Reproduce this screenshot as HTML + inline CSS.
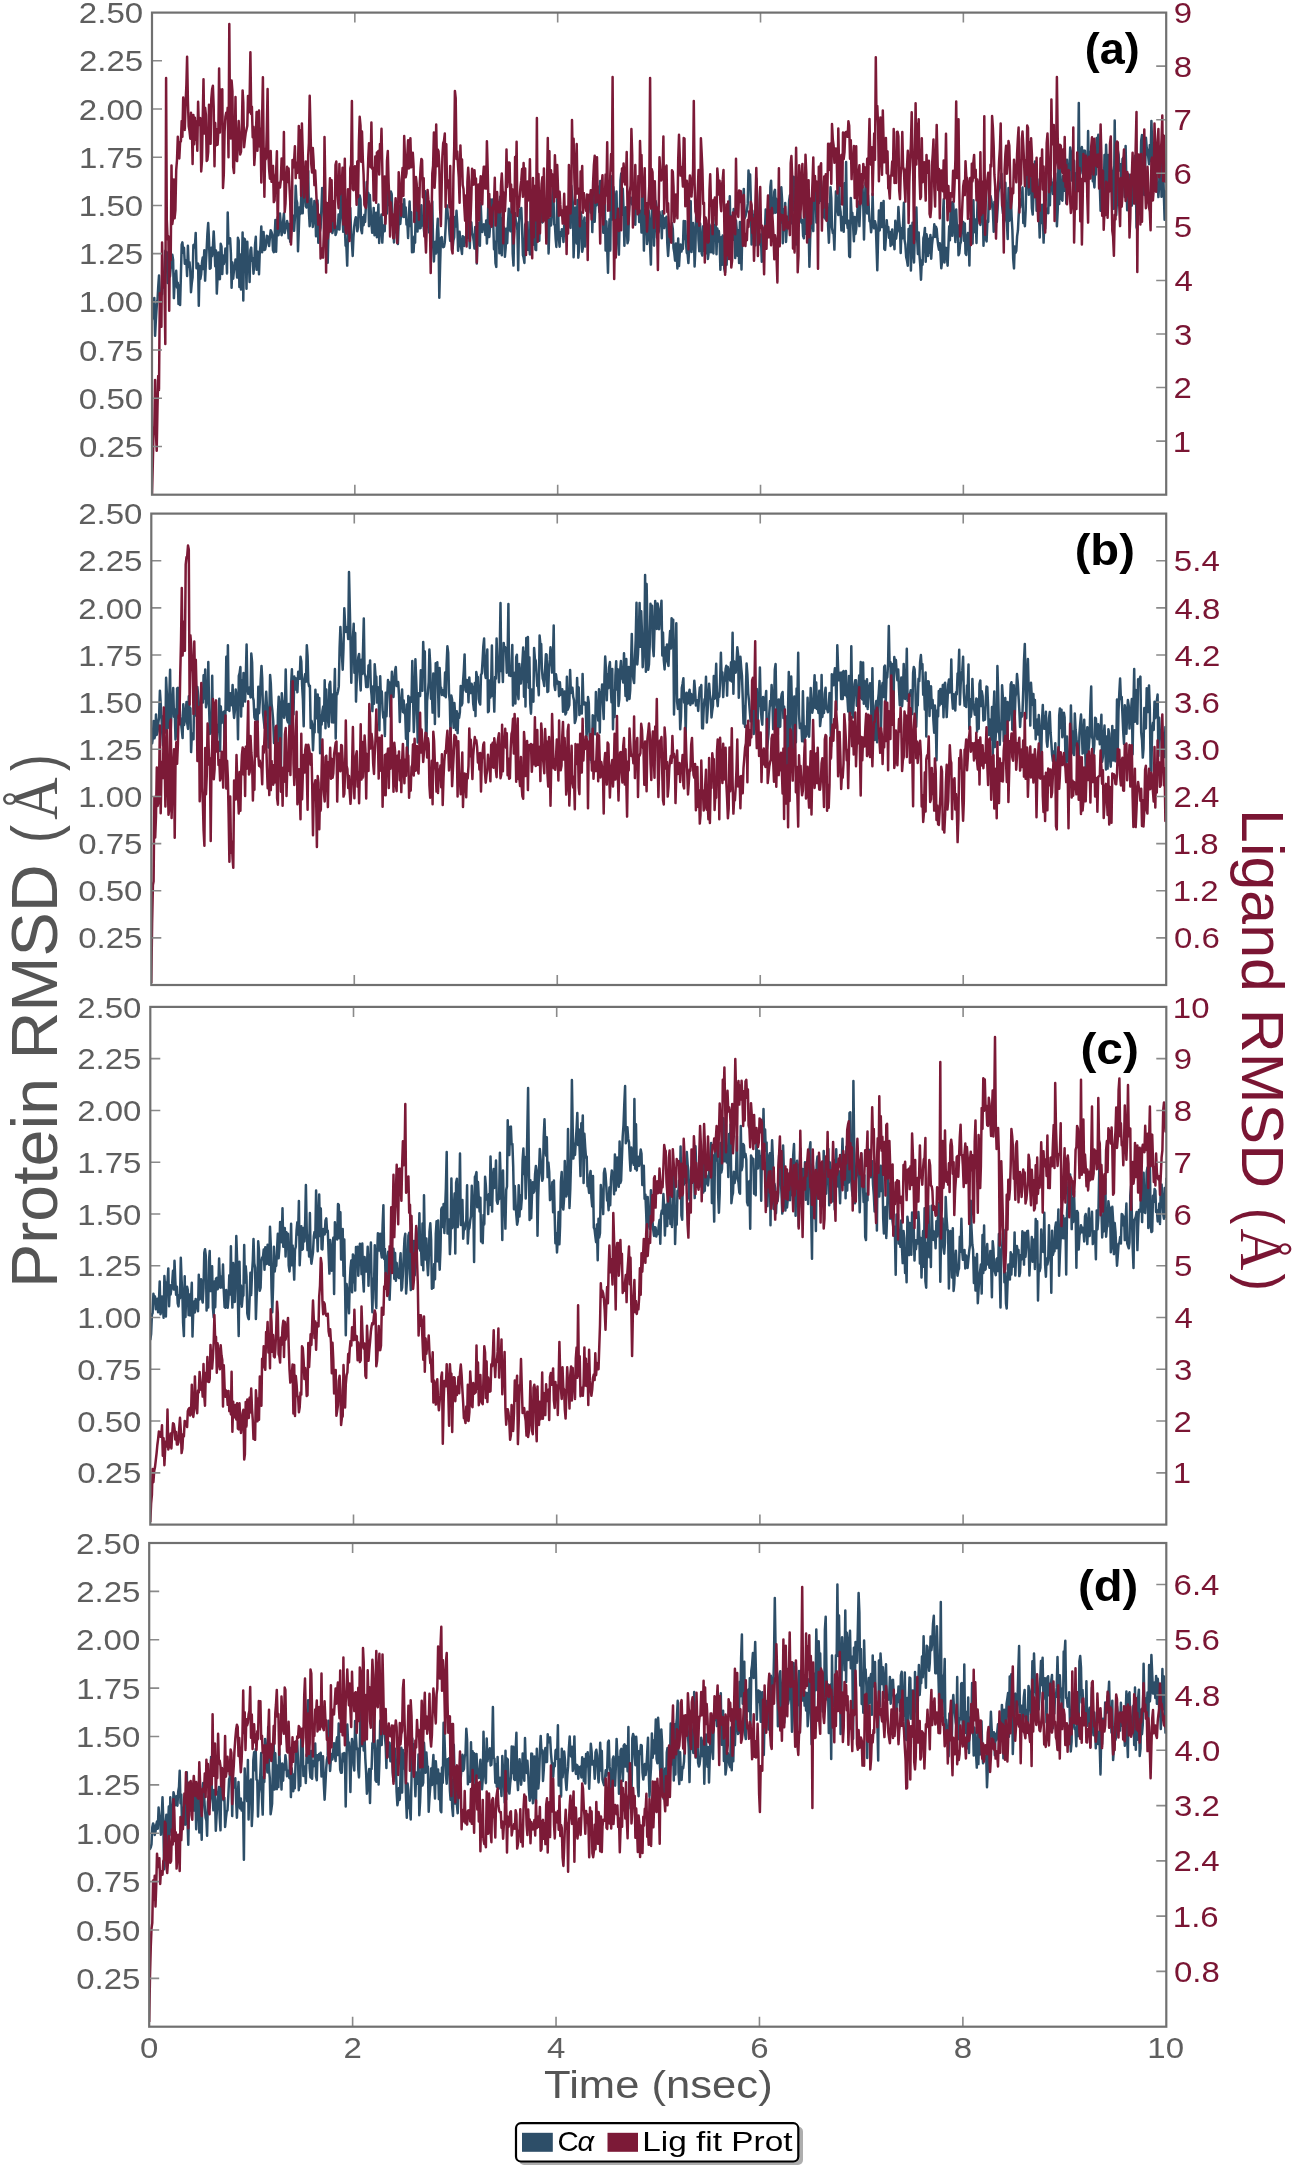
<!DOCTYPE html>
<html><head><meta charset="utf-8"><style>
html,body{margin:0;padding:0;background:#fff;overflow:hidden}
svg{display:block;filter:blur(0.55px)}
</style></head><body>
<svg width="1295" height="2169" viewBox="0 0 1295 2169">
<rect width="1295" height="2169" fill="#ffffff"/>
<clipPath id="clipa"><rect x="152.0" y="12.6" width="1014.2" height="482.09999999999997"/></clipPath>
<g clip-path="url(#clipa)" fill="none" stroke-width="2.5" stroke-linejoin="round">
<path d="M152.0,320.0 L152.8,315.1 L153.6,315.9 L154.3,297.9 L155.1,335.8 L155.9,319.4 L156.7,306.7 L157.5,300.2 L158.2,287.2 L159.0,275.5 L159.8,291.6 L160.6,299.2 L161.4,293.5 L162.1,294.2 L162.9,273.0 L163.7,287.4 L164.5,285.6 L165.3,250.7 L166.1,263.2 L166.8,252.3 L167.6,283.0 L168.4,271.1 L169.2,271.5 L170.0,276.5 L170.7,267.7 L171.5,267.3 L172.3,254.8 L173.1,260.0 L173.9,298.1 L174.6,282.9 L175.4,277.8 L176.2,270.8 L177.0,287.5 L177.8,282.7 L178.5,303.9 L179.3,285.8 L180.1,305.0 L180.9,275.1 L181.7,244.6 L182.4,242.4 L183.2,252.7 L184.0,247.8 L184.8,263.8 L185.6,260.2 L186.4,262.2 L187.1,276.0 L187.9,245.7 L188.7,266.7 L189.5,262.2 L190.3,271.7 L191.0,292.2 L191.8,283.0 L192.6,277.3 L193.4,245.0 L194.2,244.5 L194.9,247.4 L195.7,232.9 L196.5,268.2 L197.3,265.1 L198.1,263.5 L198.8,305.7 L199.6,266.0 L200.4,278.9 L201.2,274.0 L202.0,262.5 L202.7,257.6 L203.5,269.1 L204.3,250.3 L205.1,280.6 L205.9,262.6 L206.7,248.8 L207.4,233.9 L208.2,223.1 L209.0,239.7 L209.8,268.7 L210.6,268.1 L211.3,247.8 L212.1,256.2 L212.9,247.3 L213.7,231.4 L214.5,247.5 L215.2,266.3 L216.0,250.6 L216.8,293.6 L217.6,277.3 L218.4,252.6 L219.1,279.1 L219.9,279.2 L220.7,243.8 L221.5,246.6 L222.3,274.0 L223.0,255.4 L223.8,264.0 L224.6,260.0 L225.4,248.6 L226.2,248.9 L227.0,273.4 L227.7,212.4 L228.5,243.5 L229.3,241.9 L230.1,238.2 L230.9,253.9 L231.6,287.7 L232.4,262.5 L233.2,278.7 L234.0,269.6 L234.8,267.6 L235.5,259.5 L236.3,266.4 L237.1,277.6 L237.9,237.8 L238.7,240.6 L239.4,287.0 L240.2,254.6 L241.0,289.4 L241.8,273.8 L242.6,232.6 L243.3,300.6 L244.1,238.5 L244.9,239.4 L245.7,250.5 L246.5,288.8 L247.3,241.7 L248.0,265.1 L248.8,259.4 L249.6,282.0 L250.4,250.2 L251.2,247.6 L251.9,260.7 L252.7,258.3 L253.5,273.7 L254.3,262.7 L255.1,244.3 L255.8,236.8 L256.6,269.7 L257.4,251.6 L258.2,252.1 L259.0,274.3 L259.7,254.0 L260.5,245.1 L261.3,226.6 L262.1,252.3 L262.9,240.3 L263.6,232.0 L264.4,250.0 L265.2,249.4 L266.0,244.8 L266.8,235.8 L267.6,236.3 L268.3,240.4 L269.1,246.1 L269.9,237.4 L270.7,230.3 L271.5,232.0 L272.2,234.3 L273.0,250.3 L273.8,252.2 L274.6,238.9 L275.4,219.9 L276.1,251.7 L276.9,227.8 L277.7,217.2 L278.5,235.2 L279.3,227.3 L280.0,213.6 L280.8,225.0 L281.6,235.2 L282.4,231.1 L283.2,220.3 L283.9,213.4 L284.7,232.9 L285.5,228.7 L286.3,227.5 L287.1,221.1 L287.9,224.7 L288.6,238.2 L289.4,224.1 L290.2,241.8 L291.0,227.9 L291.8,220.3 L292.5,215.3 L293.3,217.9 L294.1,230.8 L294.9,217.7 L295.7,185.8 L296.4,199.6 L297.2,203.1 L298.0,251.2 L298.8,230.0 L299.6,207.2 L300.3,214.1 L301.1,201.1 L301.9,174.9 L302.7,213.2 L303.5,181.9 L304.2,172.6 L305.0,195.2 L305.8,206.3 L306.6,207.5 L307.4,198.4 L308.2,171.0 L308.9,211.5 L309.7,226.3 L310.5,211.5 L311.3,198.8 L312.1,216.0 L312.8,226.9 L313.6,220.5 L314.4,200.9 L315.2,203.6 L316.0,236.2 L316.7,222.0 L317.5,200.6 L318.3,242.8 L319.1,221.8 L319.9,231.4 L320.6,227.7 L321.4,209.4 L322.2,187.9 L323.0,189.2 L323.8,212.0 L324.5,240.3 L325.3,232.8 L326.1,221.7 L326.9,239.1 L327.7,262.8 L328.5,230.8 L329.2,232.1 L330.0,225.2 L330.8,216.0 L331.6,221.5 L332.4,233.1 L333.1,228.7 L333.9,226.8 L334.7,208.2 L335.5,235.0 L336.3,232.7 L337.0,226.6 L337.8,228.6 L338.6,214.4 L339.4,229.6 L340.2,213.4 L340.9,198.4 L341.7,192.8 L342.5,219.0 L343.3,231.8 L344.1,218.4 L344.8,225.8 L345.6,245.7 L346.4,246.3 L347.2,265.6 L348.0,232.3 L348.8,226.9 L349.5,237.4 L350.3,208.0 L351.1,233.5 L351.9,242.3 L352.7,255.9 L353.4,238.0 L354.2,226.7 L355.0,220.8 L355.8,217.2 L356.6,222.2 L357.3,231.3 L358.1,227.1 L358.9,201.5 L359.7,195.4 L360.5,199.2 L361.2,229.9 L362.0,233.3 L362.8,217.3 L363.6,225.2 L364.4,214.7 L365.1,222.0 L365.9,205.6 L366.7,182.0 L367.5,192.5 L368.3,192.9 L369.0,226.1 L369.8,194.9 L370.6,208.7 L371.4,222.7 L372.2,232.8 L373.0,228.9 L373.7,207.9 L374.5,235.2 L375.3,229.7 L376.1,212.8 L376.9,237.2 L377.6,224.7 L378.4,204.4 L379.2,242.9 L380.0,229.0 L380.8,220.4 L381.5,214.5 L382.3,242.6 L383.1,226.6 L383.9,225.2 L384.7,231.3 L385.4,211.6 L386.2,214.4 L387.0,213.0 L387.8,189.3 L388.6,195.4 L389.3,205.2 L390.1,203.2 L390.9,191.5 L391.7,194.2 L392.5,219.6 L393.3,227.3 L394.0,242.4 L394.8,227.9 L395.6,232.3 L396.4,230.6 L397.2,222.0 L397.9,244.0 L398.7,221.6 L399.5,205.7 L400.3,223.9 L401.1,213.4 L401.8,204.6 L402.6,204.4 L403.4,217.0 L404.2,199.2 L405.0,216.9 L405.7,207.4 L406.5,224.4 L407.3,221.8 L408.1,237.9 L408.9,215.8 L409.6,201.5 L410.4,226.0 L411.2,212.3 L412.0,252.2 L412.8,237.8 L413.6,252.0 L414.3,236.5 L415.1,242.8 L415.9,200.6 L416.7,201.0 L417.5,231.4 L418.2,204.3 L419.0,218.2 L419.8,228.3 L420.6,227.9 L421.4,205.2 L422.1,225.5 L422.9,218.1 L423.7,227.1 L424.5,236.0 L425.3,191.3 L426.0,194.0 L426.8,209.9 L427.6,222.8 L428.4,209.5 L429.2,232.4 L429.9,217.9 L430.7,242.2 L431.5,211.9 L432.3,201.5 L433.1,244.4 L433.9,261.4 L434.6,247.1 L435.4,241.8 L436.2,253.4 L437.0,231.6 L437.8,218.7 L438.5,233.8 L439.3,297.7 L440.1,265.5 L440.9,238.0 L441.7,237.2 L442.4,244.1 L443.2,247.2 L444.0,246.9 L444.8,242.4 L445.6,227.8 L446.3,207.6 L447.1,205.4 L447.9,216.0 L448.7,219.9 L449.5,233.8 L450.2,240.9 L451.0,216.1 L451.8,218.9 L452.6,248.4 L453.4,240.4 L454.2,237.3 L454.9,217.1 L455.7,226.6 L456.5,210.8 L457.3,224.3 L458.1,250.8 L458.8,241.7 L459.6,231.8 L460.4,242.6 L461.2,248.3 L462.0,253.9 L462.7,236.2 L463.5,236.9 L464.3,245.9 L465.1,237.3 L465.9,241.9 L466.6,229.8 L467.4,209.5 L468.2,237.7 L469.0,230.4 L469.8,247.9 L470.5,226.1 L471.3,222.2 L472.1,233.2 L472.9,235.2 L473.7,240.7 L474.5,248.6 L475.2,227.0 L476.0,227.7 L476.8,263.4 L477.6,237.2 L478.4,222.9 L479.1,227.3 L479.9,245.8 L480.7,202.9 L481.5,223.3 L482.3,232.1 L483.0,225.9 L483.8,224.3 L484.6,224.7 L485.4,235.1 L486.2,220.4 L486.9,243.4 L487.7,225.9 L488.5,197.1 L489.3,237.0 L490.1,226.2 L490.8,199.4 L491.6,204.7 L492.4,199.6 L493.2,221.0 L494.0,249.3 L494.8,241.6 L495.5,263.3 L496.3,266.9 L497.1,199.9 L497.9,220.5 L498.7,224.4 L499.4,253.3 L500.2,196.7 L501.0,237.3 L501.8,255.3 L502.6,218.2 L503.3,233.5 L504.1,227.6 L504.9,256.8 L505.7,247.3 L506.5,228.8 L507.2,243.2 L508.0,223.2 L508.8,208.7 L509.6,228.0 L510.4,231.2 L511.1,218.1 L511.9,200.7 L512.7,253.7 L513.5,265.6 L514.3,223.9 L515.1,213.3 L515.8,220.9 L516.6,223.8 L517.4,230.0 L518.2,270.2 L519.0,222.9 L519.7,209.6 L520.5,215.2 L521.3,208.0 L522.1,228.1 L522.9,255.2 L523.6,257.5 L524.4,262.9 L525.2,224.8 L526.0,222.8 L526.8,249.9 L527.5,222.0 L528.3,249.8 L529.1,244.7 L529.9,254.4 L530.7,200.4 L531.4,254.4 L532.2,219.5 L533.0,244.7 L533.8,215.4 L534.6,216.9 L535.4,249.5 L536.1,250.2 L536.9,213.5 L537.7,227.9 L538.5,216.8 L539.3,240.7 L540.0,215.3 L540.8,194.8 L541.6,221.1 L542.4,222.4 L543.2,210.1 L543.9,202.3 L544.7,210.1 L545.5,207.4 L546.3,221.6 L547.1,224.5 L547.8,214.8 L548.6,253.4 L549.4,225.7 L550.2,218.8 L551.0,225.5 L551.7,212.7 L552.5,195.7 L553.3,186.6 L554.1,224.5 L554.9,225.0 L555.7,239.5 L556.4,246.9 L557.2,198.8 L558.0,203.5 L558.8,237.4 L559.6,246.7 L560.3,232.4 L561.1,235.9 L561.9,229.2 L562.7,234.4 L563.5,242.0 L564.2,225.6 L565.0,222.2 L565.8,214.7 L566.6,220.9 L567.4,226.9 L568.1,213.2 L568.9,220.6 L569.7,225.5 L570.5,227.9 L571.3,185.7 L572.0,194.2 L572.8,202.7 L573.6,257.2 L574.4,235.8 L575.2,207.6 L575.9,221.7 L576.7,243.5 L577.5,199.9 L578.3,257.7 L579.1,247.7 L579.9,223.8 L580.6,211.8 L581.4,216.5 L582.2,251.8 L583.0,247.0 L583.8,221.7 L584.5,217.6 L585.3,246.4 L586.1,223.8 L586.9,227.9 L587.7,226.8 L588.4,195.8 L589.2,207.8 L590.0,201.1 L590.8,212.6 L591.6,190.4 L592.3,232.1 L593.1,201.6 L593.9,183.9 L594.7,221.8 L595.5,202.5 L596.2,205.6 L597.0,203.7 L597.8,186.5 L598.6,201.2 L599.4,212.1 L600.2,181.1 L600.9,213.2 L601.7,198.1 L602.5,199.1 L603.3,232.8 L604.1,213.1 L604.8,203.6 L605.6,250.5 L606.4,221.4 L607.2,248.3 L608.0,272.7 L608.7,239.6 L609.5,219.2 L610.3,250.4 L611.1,178.2 L611.9,176.2 L612.6,219.5 L613.4,187.1 L614.2,197.6 L615.0,225.3 L615.8,206.3 L616.5,191.5 L617.3,230.8 L618.1,241.3 L618.9,254.6 L619.7,218.9 L620.5,180.4 L621.2,173.6 L622.0,214.8 L622.8,188.8 L623.6,210.1 L624.4,245.7 L625.1,221.8 L625.9,207.3 L626.7,225.4 L627.5,243.3 L628.3,239.9 L629.0,212.8 L629.8,199.3 L630.6,197.6 L631.4,198.1 L632.2,204.6 L632.9,200.4 L633.7,207.8 L634.5,220.3 L635.3,224.7 L636.1,192.3 L636.8,193.6 L637.6,190.9 L638.4,196.6 L639.2,222.0 L640.0,216.9 L640.8,210.8 L641.5,232.5 L642.3,193.1 L643.1,191.7 L643.9,250.6 L644.7,210.6 L645.4,233.9 L646.2,211.8 L647.0,244.0 L647.8,238.4 L648.6,210.2 L649.3,220.2 L650.1,245.1 L650.9,264.6 L651.7,217.4 L652.5,190.6 L653.2,200.4 L654.0,245.6 L654.8,221.0 L655.6,200.9 L656.4,205.7 L657.1,237.6 L657.9,233.4 L658.7,231.8 L659.5,211.7 L660.3,222.4 L661.1,216.1 L661.8,238.3 L662.6,211.2 L663.4,227.7 L664.2,228.0 L665.0,218.2 L665.7,220.5 L666.5,216.8 L667.3,243.1 L668.1,256.0 L668.9,243.2 L669.6,231.8 L670.4,238.2 L671.2,234.9 L672.0,223.2 L672.8,228.9 L673.5,248.0 L674.3,252.9 L675.1,260.7 L675.9,243.6 L676.7,251.5 L677.4,268.5 L678.2,238.5 L679.0,266.1 L679.8,252.4 L680.6,244.6 L681.4,251.6 L682.1,248.8 L682.9,248.9 L683.7,221.1 L684.5,239.0 L685.3,221.3 L686.0,243.5 L686.8,252.8 L687.6,254.0 L688.4,263.1 L689.2,247.7 L689.9,207.6 L690.7,201.2 L691.5,252.1 L692.3,241.1 L693.1,223.0 L693.8,231.8 L694.6,266.5 L695.4,248.2 L696.2,213.9 L697.0,206.8 L697.7,210.7 L698.5,239.9 L699.3,251.3 L700.1,223.5 L700.9,238.1 L701.7,253.6 L702.4,255.5 L703.2,226.3 L704.0,250.7 L704.8,224.1 L705.6,253.3 L706.3,223.7 L707.1,240.6 L707.9,258.9 L708.7,252.2 L709.5,224.6 L710.2,238.4 L711.0,252.3 L711.8,226.3 L712.6,247.7 L713.4,253.4 L714.1,225.8 L714.9,240.8 L715.7,218.3 L716.5,254.2 L717.3,228.4 L718.0,241.5 L718.8,230.9 L719.6,241.1 L720.4,269.7 L721.2,237.2 L722.0,264.7 L722.7,235.6 L723.5,241.0 L724.3,268.7 L725.1,272.5 L725.9,251.2 L726.6,264.8 L727.4,239.9 L728.2,241.4 L729.0,240.1 L729.8,196.3 L730.5,235.1 L731.3,236.4 L732.1,215.8 L732.9,239.7 L733.7,209.0 L734.4,226.7 L735.2,258.0 L736.0,220.5 L736.8,230.4 L737.6,255.7 L738.3,230.2 L739.1,262.9 L739.9,221.9 L740.7,237.8 L741.5,269.4 L742.3,231.8 L743.0,201.1 L743.8,188.9 L744.6,218.1 L745.4,216.4 L746.2,212.9 L746.9,211.3 L747.7,203.9 L748.5,170.5 L749.3,181.0 L750.1,174.6 L750.8,198.7 L751.6,244.5 L752.4,210.7 L753.2,232.3 L754.0,221.5 L754.7,214.7 L755.5,245.2 L756.3,178.5 L757.1,194.3 L757.9,218.7 L758.6,222.1 L759.4,244.4 L760.2,234.5 L761.0,238.7 L761.8,261.7 L762.5,227.5 L763.3,238.3 L764.1,243.5 L764.9,230.9 L765.7,209.6 L766.5,214.3 L767.2,211.5 L768.0,234.8 L768.8,196.1 L769.6,223.0 L770.4,186.9 L771.1,180.7 L771.9,209.3 L772.7,206.3 L773.5,213.2 L774.3,191.6 L775.0,189.8 L775.8,212.7 L776.6,198.9 L777.4,206.1 L778.2,210.9 L778.9,205.5 L779.7,191.3 L780.5,222.4 L781.3,187.3 L782.1,200.1 L782.8,243.3 L783.6,209.2 L784.4,230.4 L785.2,203.0 L786.0,242.0 L786.8,228.3 L787.5,228.0 L788.3,219.5 L789.1,201.2 L789.9,195.2 L790.7,205.3 L791.4,211.6 L792.2,223.4 L793.0,178.9 L793.8,176.9 L794.6,209.9 L795.3,191.2 L796.1,244.5 L796.9,191.4 L797.7,219.8 L798.5,221.6 L799.2,204.0 L800.0,211.8 L800.8,220.9 L801.6,222.9 L802.4,219.9 L803.1,235.8 L803.9,238.3 L804.7,217.2 L805.5,233.7 L806.3,192.2 L807.1,206.3 L807.8,217.0 L808.6,225.4 L809.4,266.8 L810.2,237.1 L811.0,223.3 L811.7,199.1 L812.5,208.4 L813.3,231.1 L814.1,177.4 L814.9,205.3 L815.6,186.4 L816.4,222.4 L817.2,200.2 L818.0,201.1 L818.8,203.0 L819.5,173.4 L820.3,200.8 L821.1,181.1 L821.9,194.4 L822.7,217.5 L823.4,213.0 L824.2,187.8 L825.0,217.7 L825.8,219.5 L826.6,202.7 L827.4,203.8 L828.1,225.5 L828.9,242.7 L829.7,221.2 L830.5,187.2 L831.3,198.0 L832.0,227.6 L832.8,233.1 L833.6,231.8 L834.4,249.6 L835.2,219.0 L835.9,191.6 L836.7,204.9 L837.5,209.0 L838.3,215.1 L839.1,183.3 L839.8,205.9 L840.6,211.9 L841.4,230.4 L842.2,217.1 L843.0,222.3 L843.7,231.8 L844.5,183.2 L845.3,223.1 L846.1,162.0 L846.9,220.9 L847.7,228.1 L848.4,220.7 L849.2,256.2 L850.0,257.1 L850.8,198.1 L851.6,216.3 L852.3,212.7 L853.1,225.7 L853.9,241.2 L854.7,217.0 L855.5,233.9 L856.2,229.0 L857.0,217.2 L857.8,205.5 L858.6,201.6 L859.4,226.1 L860.1,209.5 L860.9,197.6 L861.7,187.7 L862.5,186.0 L863.3,206.2 L864.0,239.5 L864.8,206.5 L865.6,182.6 L866.4,192.5 L867.2,213.4 L868.0,195.2 L868.7,206.2 L869.5,221.3 L870.3,221.2 L871.1,232.3 L871.9,224.5 L872.6,193.7 L873.4,225.5 L874.2,228.3 L875.0,221.3 L875.8,225.1 L876.5,246.0 L877.3,270.3 L878.1,238.3 L878.9,210.6 L879.7,230.5 L880.4,217.6 L881.2,202.9 L882.0,227.1 L882.8,222.9 L883.6,201.1 L884.3,249.0 L885.1,249.9 L885.9,237.9 L886.7,220.2 L887.5,230.0 L888.3,226.9 L889.0,237.7 L889.8,232.0 L890.6,246.0 L891.4,235.7 L892.2,229.4 L892.9,244.5 L893.7,238.2 L894.5,249.3 L895.3,220.7 L896.1,238.7 L896.8,233.0 L897.6,231.0 L898.4,207.1 L899.2,220.0 L900.0,229.4 L900.7,253.0 L901.5,228.2 L902.3,238.4 L903.1,223.6 L903.9,202.7 L904.6,240.1 L905.4,244.8 L906.2,257.1 L907.0,260.5 L907.8,265.8 L908.6,228.9 L909.3,247.1 L910.1,225.8 L910.9,270.4 L911.7,240.3 L912.5,222.7 L913.2,249.1 L914.0,262.5 L914.8,234.9 L915.6,233.5 L916.4,207.6 L917.1,237.6 L917.9,254.0 L918.7,232.4 L919.5,255.4 L920.3,265.9 L921.0,279.8 L921.8,260.2 L922.6,264.8 L923.4,238.1 L924.2,235.4 L924.9,227.9 L925.7,261.8 L926.5,234.3 L927.3,239.0 L928.1,255.9 L928.9,239.1 L929.6,252.7 L930.4,235.1 L931.2,258.7 L932.0,244.8 L932.8,237.5 L933.5,236.9 L934.3,224.3 L935.1,236.9 L935.9,226.8 L936.7,229.0 L937.4,238.5 L938.2,245.5 L939.0,249.8 L939.8,243.2 L940.6,255.4 L941.3,268.3 L942.1,261.1 L942.9,216.2 L943.7,199.3 L944.5,262.5 L945.2,248.5 L946.0,247.8 L946.8,255.5 L947.6,265.7 L948.4,246.7 L949.2,226.2 L949.9,240.3 L950.7,206.2 L951.5,202.5 L952.3,235.8 L953.1,201.9 L953.8,212.5 L954.6,228.6 L955.4,241.9 L956.2,209.6 L957.0,229.8 L957.7,225.0 L958.5,255.3 L959.3,253.3 L960.1,244.3 L960.9,241.9 L961.6,221.2 L962.4,228.2 L963.2,222.0 L964.0,240.7 L964.8,223.4 L965.5,253.5 L966.3,254.9 L967.1,236.8 L967.9,232.9 L968.7,236.4 L969.4,265.5 L970.2,219.1 L971.0,226.3 L971.8,206.9 L972.6,243.6 L973.4,200.3 L974.1,232.2 L974.9,226.1 L975.7,219.5 L976.5,243.0 L977.3,210.9 L978.0,186.4 L978.8,211.5 L979.6,213.3 L980.4,224.9 L981.2,213.5 L981.9,214.5 L982.7,200.6 L983.5,245.8 L984.3,222.5 L985.1,234.9 L985.8,238.9 L986.6,241.4 L987.4,220.6 L988.2,221.9 L989.0,187.6 L989.7,201.5 L990.5,196.1 L991.3,200.0 L992.1,206.1 L992.9,210.7 L993.7,231.7 L994.4,201.9 L995.2,201.8 L996.0,207.7 L996.8,222.0 L997.6,209.0 L998.3,192.9 L999.1,187.6 L999.9,187.5 L1000.7,178.3 L1001.5,173.7 L1002.2,206.3 L1003.0,213.6 L1003.8,205.5 L1004.6,212.0 L1005.4,182.7 L1006.1,219.6 L1006.9,223.0 L1007.7,239.0 L1008.5,187.9 L1009.3,220.8 L1010.0,215.5 L1010.8,192.5 L1011.6,216.4 L1012.4,230.5 L1013.2,258.8 L1014.0,268.5 L1014.7,246.6 L1015.5,252.9 L1016.3,250.7 L1017.1,236.4 L1017.9,230.7 L1018.6,216.9 L1019.4,203.1 L1020.2,207.3 L1021.0,199.3 L1021.8,200.8 L1022.5,187.5 L1023.3,223.0 L1024.1,214.9 L1024.9,226.3 L1025.7,209.8 L1026.4,174.6 L1027.2,166.8 L1028.0,164.3 L1028.8,194.8 L1029.6,187.5 L1030.3,174.4 L1031.1,183.0 L1031.9,208.2 L1032.7,214.6 L1033.5,195.8 L1034.3,181.4 L1035.0,161.6 L1035.8,175.3 L1036.6,210.7 L1037.4,179.2 L1038.2,196.5 L1038.9,213.0 L1039.7,237.5 L1040.5,208.4 L1041.3,223.1 L1042.1,204.7 L1042.8,212.1 L1043.6,242.6 L1044.4,220.3 L1045.2,228.8 L1046.0,213.8 L1046.7,208.7 L1047.5,208.4 L1048.3,213.3 L1049.1,166.2 L1049.9,205.3 L1050.6,175.9 L1051.4,180.7 L1052.2,184.9 L1053.0,194.1 L1053.8,192.7 L1054.6,180.9 L1055.3,173.6 L1056.1,195.7 L1056.9,226.3 L1057.7,210.5 L1058.5,158.0 L1059.2,204.0 L1060.0,158.8 L1060.8,192.5 L1061.6,199.2 L1062.4,200.6 L1063.1,176.1 L1063.9,177.4 L1064.7,190.7 L1065.5,165.8 L1066.3,203.4 L1067.0,159.8 L1067.8,184.2 L1068.6,166.6 L1069.4,170.1 L1070.2,147.5 L1070.9,152.1 L1071.7,180.5 L1072.5,151.7 L1073.3,172.0 L1074.1,160.8 L1074.9,191.3 L1075.6,184.7 L1076.4,173.3 L1077.2,186.5 L1078.0,170.5 L1078.8,103.0 L1079.5,177.3 L1080.3,169.2 L1081.1,151.4 L1081.9,147.1 L1082.7,173.5 L1083.4,170.2 L1084.2,150.6 L1085.0,150.8 L1085.8,167.4 L1086.6,175.4 L1087.3,185.8 L1088.1,131.0 L1088.9,174.8 L1089.7,159.8 L1090.5,151.7 L1091.2,173.8 L1092.0,160.4 L1092.8,181.2 L1093.6,178.4 L1094.4,187.5 L1095.2,167.4 L1095.9,174.6 L1096.7,138.0 L1097.5,148.9 L1098.3,134.8 L1099.1,165.5 L1099.8,185.6 L1100.6,210.8 L1101.4,183.3 L1102.2,204.6 L1103.0,188.5 L1103.7,196.9 L1104.5,154.9 L1105.3,183.2 L1106.1,144.8 L1106.9,171.5 L1107.6,186.1 L1108.4,154.9 L1109.2,177.9 L1110.0,188.5 L1110.8,166.2 L1111.5,169.9 L1112.3,170.6 L1113.1,207.5 L1113.9,208.7 L1114.7,120.6 L1115.5,186.3 L1116.2,215.2 L1117.0,201.3 L1117.8,150.1 L1118.6,154.6 L1119.4,170.5 L1120.1,163.9 L1120.9,165.5 L1121.7,190.1 L1122.5,158.9 L1123.3,157.8 L1124.0,182.3 L1124.8,197.0 L1125.6,145.9 L1126.4,184.1 L1127.2,210.3 L1127.9,182.7 L1128.7,174.4 L1129.5,182.5 L1130.3,175.3 L1131.1,197.2 L1131.8,205.7 L1132.6,189.3 L1133.4,174.7 L1134.2,170.7 L1135.0,155.7 L1135.8,178.8 L1136.5,227.1 L1137.3,229.7 L1138.1,182.9 L1138.9,201.3 L1139.7,167.7 L1140.4,170.4 L1141.2,140.6 L1142.0,135.0 L1142.8,173.4 L1143.6,184.3 L1144.3,195.0 L1145.1,173.6 L1145.9,137.7 L1146.7,147.5 L1147.5,151.6 L1148.2,156.3 L1149.0,164.2 L1149.8,145.1 L1150.6,161.1 L1151.4,120.9 L1152.1,142.7 L1152.9,156.9 L1153.7,174.2 L1154.5,175.7 L1155.3,185.5 L1156.1,149.9 L1156.8,187.1 L1157.6,183.4 L1158.4,197.1 L1159.2,184.4 L1160.0,155.9 L1160.7,146.1 L1161.5,196.8 L1162.3,158.9 L1163.1,169.1 L1163.9,195.2 L1164.6,219.7 L1165.4,210.6 L1166.2,190.2" stroke="#2d4e68"/>
<path d="M152.0,494.0 L152.8,464.3 L153.6,427.6 L154.3,429.5 L155.1,380.0 L155.9,432.7 L156.7,450.7 L157.5,406.5 L158.2,376.0 L159.0,389.9 L159.8,293.3 L160.6,326.2 L161.4,326.8 L162.1,242.5 L162.9,279.4 L163.7,281.0 L164.5,289.1 L165.3,343.9 L166.1,78.0 L166.8,220.0 L167.6,239.2 L168.4,236.2 L169.2,310.8 L170.0,240.2 L170.7,260.1 L171.5,165.6 L172.3,224.1 L173.1,217.6 L173.9,179.4 L174.6,218.3 L175.4,210.2 L176.2,170.1 L177.0,160.0 L177.8,136.8 L178.5,148.3 L179.3,158.4 L180.1,142.4 L180.9,141.2 L181.7,121.0 L182.4,136.7 L183.2,97.6 L184.0,122.2 L184.8,129.9 L185.6,103.5 L186.4,84.5 L187.1,56.7 L187.9,100.6 L188.7,126.4 L189.5,130.8 L190.3,138.7 L191.0,112.8 L191.8,122.9 L192.6,164.0 L193.4,115.1 L194.2,144.3 L194.9,117.8 L195.7,139.7 L196.5,121.6 L197.3,150.8 L198.1,101.8 L198.8,124.9 L199.6,121.6 L200.4,118.1 L201.2,171.5 L202.0,160.3 L202.7,119.8 L203.5,79.2 L204.3,133.5 L205.1,107.7 L205.9,114.9 L206.7,160.9 L207.4,160.0 L208.2,152.0 L209.0,104.7 L209.8,123.9 L210.6,143.8 L211.3,99.1 L212.1,89.3 L212.9,85.8 L213.7,107.4 L214.5,166.2 L215.2,123.0 L216.0,145.4 L216.8,129.4 L217.6,144.7 L218.4,129.4 L219.1,68.5 L219.9,132.5 L220.7,89.8 L221.5,93.4 L222.3,89.2 L223.0,187.9 L223.8,174.5 L224.6,131.4 L225.4,117.0 L226.2,112.7 L227.0,118.2 L227.7,107.7 L228.5,157.2 L229.3,24.0 L230.1,134.5 L230.9,138.6 L231.6,80.6 L232.4,91.0 L233.2,166.9 L234.0,173.0 L234.8,138.3 L235.5,97.0 L236.3,160.2 L237.1,161.1 L237.9,139.7 L238.7,121.1 L239.4,136.0 L240.2,154.4 L241.0,151.7 L241.8,129.3 L242.6,90.4 L243.3,102.4 L244.1,147.2 L244.9,139.3 L245.7,133.1 L246.5,129.4 L247.3,125.8 L248.0,95.9 L248.8,112.4 L249.6,101.5 L250.4,52.2 L251.2,114.0 L251.9,106.7 L252.7,137.2 L253.5,126.7 L254.3,164.9 L255.1,151.4 L255.8,137.3 L256.6,112.0 L257.4,150.7 L258.2,125.5 L259.0,110.4 L259.7,146.6 L260.5,128.6 L261.3,182.4 L262.1,119.0 L262.9,77.2 L263.6,146.8 L264.4,196.8 L265.2,148.8 L266.0,159.2 L266.8,130.3 L267.6,88.9 L268.3,152.5 L269.1,169.1 L269.9,178.7 L270.7,151.0 L271.5,181.7 L272.2,166.5 L273.0,165.9 L273.8,202.1 L274.6,200.4 L275.4,176.6 L276.1,173.1 L276.9,151.3 L277.7,228.7 L278.5,185.0 L279.3,182.8 L280.0,187.5 L280.8,180.5 L281.6,158.5 L282.4,172.2 L283.2,179.7 L283.9,132.0 L284.7,212.2 L285.5,203.5 L286.3,181.1 L287.1,166.8 L287.9,182.1 L288.6,168.6 L289.4,185.1 L290.2,201.1 L291.0,244.4 L291.8,227.6 L292.5,160.0 L293.3,167.5 L294.1,160.7 L294.9,146.3 L295.7,178.1 L296.4,162.6 L297.2,172.9 L298.0,167.0 L298.8,125.9 L299.6,178.1 L300.3,130.4 L301.1,195.8 L301.9,123.5 L302.7,151.2 L303.5,177.7 L304.2,197.4 L305.0,188.5 L305.8,161.6 L306.6,176.5 L307.4,202.1 L308.2,155.8 L308.9,142.7 L309.7,95.7 L310.5,129.6 L311.3,164.5 L312.1,172.6 L312.8,147.9 L313.6,161.2 L314.4,185.1 L315.2,170.5 L316.0,187.3 L316.7,202.1 L317.5,204.7 L318.3,224.6 L319.1,214.7 L319.9,217.3 L320.6,258.4 L321.4,248.8 L322.2,248.5 L323.0,257.7 L323.8,233.6 L324.5,137.1 L325.3,185.4 L326.1,272.6 L326.9,203.0 L327.7,238.5 L328.5,231.5 L329.2,200.4 L330.0,178.3 L330.8,231.5 L331.6,180.3 L332.4,221.0 L333.1,209.6 L333.9,201.1 L334.7,228.0 L335.5,165.1 L336.3,161.5 L337.0,185.8 L337.8,197.9 L338.6,208.2 L339.4,164.1 L340.2,194.5 L340.9,184.9 L341.7,189.9 L342.5,167.7 L343.3,224.4 L344.1,194.6 L344.8,158.8 L345.6,230.4 L346.4,233.5 L347.2,221.6 L348.0,189.2 L348.8,211.6 L349.5,241.1 L350.3,168.2 L351.1,164.8 L351.9,100.9 L352.7,189.0 L353.4,190.1 L354.2,189.3 L355.0,166.3 L355.8,181.2 L356.6,204.8 L357.3,161.4 L358.1,197.0 L358.9,142.4 L359.7,116.8 L360.5,125.5 L361.2,161.7 L362.0,131.5 L362.8,158.8 L363.6,174.6 L364.4,204.7 L365.1,206.5 L365.9,208.0 L366.7,194.2 L367.5,182.8 L368.3,157.6 L369.0,143.3 L369.8,158.7 L370.6,167.3 L371.4,122.4 L372.2,168.7 L373.0,167.7 L373.7,200.4 L374.5,187.1 L375.3,156.5 L376.1,202.7 L376.9,152.4 L377.6,166.3 L378.4,150.9 L379.2,174.4 L380.0,143.9 L380.8,151.1 L381.5,128.7 L382.3,167.4 L383.1,214.9 L383.9,191.4 L384.7,176.4 L385.4,223.7 L386.2,207.1 L387.0,161.2 L387.8,151.0 L388.6,182.4 L389.3,197.4 L390.1,236.4 L390.9,202.6 L391.7,214.6 L392.5,214.3 L393.3,238.1 L394.0,238.1 L394.8,213.3 L395.6,198.3 L396.4,212.3 L397.2,243.0 L397.9,228.4 L398.7,172.2 L399.5,188.6 L400.3,184.5 L401.1,215.4 L401.8,179.4 L402.6,167.9 L403.4,195.7 L404.2,136.0 L405.0,158.4 L405.7,177.3 L406.5,173.3 L407.3,155.7 L408.1,140.3 L408.9,168.4 L409.6,167.1 L410.4,138.3 L411.2,167.3 L412.0,158.1 L412.8,152.7 L413.6,166.2 L414.3,221.9 L415.1,183.8 L415.9,176.9 L416.7,184.2 L417.5,210.7 L418.2,188.2 L419.0,219.7 L419.8,183.0 L420.6,168.0 L421.4,158.9 L422.1,160.3 L422.9,197.2 L423.7,178.2 L424.5,236.6 L425.3,236.3 L426.0,252.5 L426.8,225.8 L427.6,190.1 L428.4,199.9 L429.2,203.6 L429.9,222.0 L430.7,272.9 L431.5,222.2 L432.3,173.5 L433.1,165.7 L433.9,132.6 L434.6,187.7 L435.4,172.9 L436.2,124.4 L437.0,166.2 L437.8,149.6 L438.5,151.3 L439.3,165.1 L440.1,209.0 L440.9,225.9 L441.7,184.4 L442.4,156.4 L443.2,143.2 L444.0,140.8 L444.8,133.6 L445.6,207.1 L446.3,144.3 L447.1,187.4 L447.9,180.3 L448.7,190.6 L449.5,207.3 L450.2,166.0 L451.0,231.1 L451.8,249.6 L452.6,253.4 L453.4,176.6 L454.2,148.3 L454.9,91.0 L455.7,98.2 L456.5,158.9 L457.3,151.5 L458.1,167.0 L458.8,177.1 L459.6,202.7 L460.4,145.4 L461.2,169.5 L462.0,159.4 L462.7,185.1 L463.5,188.9 L464.3,206.3 L465.1,220.6 L465.9,195.5 L466.6,246.4 L467.4,182.1 L468.2,167.8 L469.0,181.2 L469.8,241.0 L470.5,220.8 L471.3,198.2 L472.1,168.7 L472.9,173.1 L473.7,184.7 L474.5,170.3 L475.2,183.8 L476.0,178.5 L476.8,262.5 L477.6,200.4 L478.4,184.6 L479.1,220.3 L479.9,188.9 L480.7,176.3 L481.5,190.5 L482.3,204.2 L483.0,178.1 L483.8,166.7 L484.6,188.2 L485.4,166.5 L486.2,188.6 L486.9,141.2 L487.7,169.4 L488.5,207.1 L489.3,194.1 L490.1,223.7 L490.8,207.4 L491.6,226.8 L492.4,213.0 L493.2,205.4 L494.0,203.7 L494.8,177.8 L495.5,225.6 L496.3,212.3 L497.1,192.1 L497.9,207.9 L498.7,212.3 L499.4,201.9 L500.2,212.3 L501.0,185.4 L501.8,173.6 L502.6,190.1 L503.3,243.2 L504.1,192.8 L504.9,211.3 L505.7,194.5 L506.5,149.4 L507.2,186.9 L508.0,174.8 L508.8,162.4 L509.6,162.9 L510.4,201.0 L511.1,184.5 L511.9,212.4 L512.7,189.6 L513.5,243.5 L514.3,231.3 L515.1,157.1 L515.8,194.7 L516.6,141.7 L517.4,216.1 L518.2,204.3 L519.0,206.9 L519.7,196.6 L520.5,186.4 L521.3,180.4 L522.1,169.0 L522.9,196.7 L523.6,163.0 L524.4,188.9 L525.2,168.4 L526.0,254.9 L526.8,201.9 L527.5,181.5 L528.3,200.4 L529.1,192.9 L529.9,159.3 L530.7,210.7 L531.4,234.2 L532.2,258.2 L533.0,177.9 L533.8,237.2 L534.6,186.0 L535.4,199.1 L536.1,220.2 L536.9,118.0 L537.7,241.7 L538.5,173.9 L539.3,219.9 L540.0,233.2 L540.8,201.4 L541.6,184.2 L542.4,177.2 L543.2,221.5 L543.9,168.6 L544.7,220.0 L545.5,203.3 L546.3,243.5 L547.1,180.1 L547.8,137.9 L548.6,217.8 L549.4,151.3 L550.2,216.1 L551.0,170.3 L551.7,183.8 L552.5,174.5 L553.3,187.9 L554.1,201.6 L554.9,155.2 L555.7,176.2 L556.4,197.1 L557.2,165.1 L558.0,188.2 L558.8,215.8 L559.6,191.8 L560.3,204.9 L561.1,215.3 L561.9,210.5 L562.7,223.6 L563.5,214.6 L564.2,193.7 L565.0,224.3 L565.8,207.0 L566.6,253.9 L567.4,206.4 L568.1,233.5 L568.9,165.0 L569.7,203.4 L570.5,213.4 L571.3,195.5 L572.0,120.0 L572.8,162.1 L573.6,138.8 L574.4,179.3 L575.2,204.2 L575.9,169.5 L576.7,144.1 L577.5,193.5 L578.3,188.4 L579.1,189.6 L579.9,226.2 L580.6,171.6 L581.4,187.3 L582.2,166.0 L583.0,212.7 L583.8,192.9 L584.5,207.3 L585.3,203.9 L586.1,210.9 L586.9,194.5 L587.7,259.9 L588.4,201.5 L589.2,194.7 L590.0,201.1 L590.8,190.2 L591.6,219.4 L592.3,207.4 L593.1,182.3 L593.9,165.1 L594.7,155.8 L595.5,202.8 L596.2,199.1 L597.0,157.2 L597.8,202.1 L598.6,194.7 L599.4,204.6 L600.2,243.5 L600.9,200.5 L601.7,184.8 L602.5,175.2 L603.3,224.5 L604.1,204.5 L604.8,203.5 L605.6,174.4 L606.4,195.4 L607.2,142.2 L608.0,210.7 L608.7,201.6 L609.5,210.5 L610.3,174.2 L611.1,154.0 L611.9,170.5 L612.6,77.0 L613.4,210.5 L614.2,278.9 L615.0,220.3 L615.8,257.5 L616.5,221.2 L617.3,219.3 L618.1,208.7 L618.9,230.9 L619.7,219.6 L620.5,227.3 L621.2,230.2 L622.0,168.4 L622.8,181.7 L623.6,163.6 L624.4,179.7 L625.1,184.5 L625.9,182.1 L626.7,152.1 L627.5,206.5 L628.3,224.2 L629.0,213.8 L629.8,191.6 L630.6,185.6 L631.4,129.1 L632.2,155.2 L632.9,227.4 L633.7,209.9 L634.5,205.0 L635.3,164.9 L636.1,208.6 L636.8,190.3 L637.6,214.3 L638.4,175.9 L639.2,212.4 L640.0,140.9 L640.8,164.6 L641.5,155.0 L642.3,196.8 L643.1,184.2 L643.9,193.2 L644.7,168.2 L645.4,213.9 L646.2,203.1 L647.0,231.5 L647.8,215.5 L648.6,200.4 L649.3,184.9 L650.1,78.0 L650.9,208.5 L651.7,169.1 L652.5,172.0 L653.2,198.6 L654.0,227.7 L654.8,181.2 L655.6,209.7 L656.4,207.2 L657.1,225.0 L657.9,270.1 L658.7,208.3 L659.5,157.3 L660.3,172.3 L661.1,180.4 L661.8,179.0 L662.6,172.8 L663.4,136.6 L664.2,213.5 L665.0,178.2 L665.7,169.0 L666.5,165.5 L667.3,212.1 L668.1,203.3 L668.9,227.7 L669.6,237.1 L670.4,235.3 L671.2,242.7 L672.0,170.2 L672.8,171.9 L673.5,186.6 L674.3,221.9 L675.1,212.2 L675.9,194.5 L676.7,200.9 L677.4,218.2 L678.2,160.2 L679.0,134.8 L679.8,156.6 L680.6,175.6 L681.4,166.9 L682.1,172.4 L682.9,186.5 L683.7,138.0 L684.5,138.5 L685.3,206.3 L686.0,204.4 L686.8,180.8 L687.6,206.2 L688.4,249.2 L689.2,186.8 L689.9,175.4 L690.7,185.7 L691.5,196.6 L692.3,182.5 L693.1,170.9 L693.8,101.0 L694.6,182.8 L695.4,211.5 L696.2,214.5 L697.0,221.5 L697.7,193.5 L698.5,170.0 L699.3,225.7 L700.1,213.6 L700.9,138.3 L701.7,154.1 L702.4,169.7 L703.2,203.9 L704.0,202.8 L704.8,262.6 L705.6,217.6 L706.3,220.2 L707.1,239.5 L707.9,242.6 L708.7,241.7 L709.5,190.1 L710.2,174.2 L711.0,205.5 L711.8,206.0 L712.6,234.1 L713.4,200.0 L714.1,210.9 L714.9,197.5 L715.7,219.6 L716.5,224.7 L717.3,168.6 L718.0,178.2 L718.8,194.5 L719.6,180.7 L720.4,202.7 L721.2,211.2 L722.0,184.8 L722.7,179.9 L723.5,170.1 L724.3,223.6 L725.1,274.8 L725.9,245.5 L726.6,204.6 L727.4,255.2 L728.2,201.5 L729.0,259.1 L729.8,219.7 L730.5,216.6 L731.3,267.5 L732.1,260.5 L732.9,212.5 L733.7,229.2 L734.4,222.6 L735.2,234.2 L736.0,158.7 L736.8,209.2 L737.6,212.0 L738.3,216.9 L739.1,190.5 L739.9,201.9 L740.7,191.1 L741.5,198.1 L742.3,229.2 L743.0,245.7 L743.8,195.0 L744.6,239.9 L745.4,246.1 L746.2,233.7 L746.9,240.2 L747.7,220.1 L748.5,226.9 L749.3,211.3 L750.1,220.2 L750.8,201.7 L751.6,205.1 L752.4,233.0 L753.2,218.5 L754.0,260.7 L754.7,238.4 L755.5,200.9 L756.3,168.0 L757.1,199.7 L757.9,255.9 L758.6,217.5 L759.4,242.6 L760.2,187.1 L761.0,227.4 L761.8,225.4 L762.5,231.3 L763.3,243.8 L764.1,274.3 L764.9,225.9 L765.7,247.7 L766.5,248.7 L767.2,215.1 L768.0,195.6 L768.8,237.3 L769.6,210.6 L770.4,217.1 L771.1,245.3 L771.9,208.0 L772.7,220.9 L773.5,235.7 L774.3,259.3 L775.0,235.3 L775.8,240.5 L776.6,258.5 L777.4,282.4 L778.2,217.2 L778.9,168.3 L779.7,246.3 L780.5,214.3 L781.3,220.1 L782.1,215.5 L782.8,215.2 L783.6,230.0 L784.4,229.6 L785.2,206.7 L786.0,226.9 L786.8,216.5 L787.5,228.4 L788.3,225.4 L789.1,221.9 L789.9,235.1 L790.7,163.0 L791.4,156.0 L792.2,176.3 L793.0,248.4 L793.8,239.1 L794.6,252.4 L795.3,202.8 L796.1,147.7 L796.9,194.0 L797.7,272.2 L798.5,256.0 L799.2,165.2 L800.0,217.9 L800.8,209.0 L801.6,175.4 L802.4,163.9 L803.1,194.9 L803.9,217.5 L804.7,199.8 L805.5,154.8 L806.3,173.3 L807.1,242.6 L807.8,194.5 L808.6,180.2 L809.4,237.2 L810.2,198.8 L811.0,223.6 L811.7,201.5 L812.5,182.4 L813.3,157.4 L814.1,200.7 L814.9,175.9 L815.6,190.7 L816.4,181.6 L817.2,191.1 L818.0,268.7 L818.8,166.8 L819.5,170.0 L820.3,166.5 L821.1,163.3 L821.9,230.6 L822.7,195.8 L823.4,207.8 L824.2,176.4 L825.0,198.4 L825.8,174.3 L826.6,220.8 L827.4,193.8 L828.1,143.8 L828.9,160.4 L829.7,169.9 L830.5,143.4 L831.3,183.7 L832.0,124.1 L832.8,139.5 L833.6,145.4 L834.4,162.8 L835.2,159.6 L835.9,148.5 L836.7,158.5 L837.5,193.4 L838.3,128.5 L839.1,167.7 L839.8,183.1 L840.6,185.8 L841.4,155.0 L842.2,204.4 L843.0,132.6 L843.7,159.0 L844.5,152.2 L845.3,132.5 L846.1,131.9 L846.9,136.5 L847.7,136.7 L848.4,121.3 L849.2,125.8 L850.0,158.7 L850.8,140.3 L851.6,179.1 L852.3,154.4 L853.1,162.8 L853.9,146.1 L854.7,198.0 L855.5,169.1 L856.2,146.2 L857.0,206.7 L857.8,186.4 L858.6,173.9 L859.4,165.3 L860.1,204.3 L860.9,202.9 L861.7,174.3 L862.5,187.6 L863.3,163.9 L864.0,172.0 L864.8,167.2 L865.6,184.7 L866.4,186.7 L867.2,158.7 L868.0,204.7 L868.7,152.1 L869.5,118.9 L870.3,161.1 L871.1,164.7 L871.9,147.3 L872.6,195.0 L873.4,161.7 L874.2,133.4 L875.0,159.8 L875.8,57.2 L876.5,118.1 L877.3,106.0 L878.1,126.2 L878.9,181.3 L879.7,140.2 L880.4,117.4 L881.2,153.6 L882.0,174.7 L882.8,110.4 L883.6,142.4 L884.3,162.3 L885.1,157.9 L885.9,137.9 L886.7,173.3 L887.5,151.4 L888.3,188.4 L889.0,189.1 L889.8,198.6 L890.6,175.5 L891.4,175.0 L892.2,161.5 L892.9,175.6 L893.7,129.0 L894.5,183.1 L895.3,177.6 L896.1,182.9 L896.8,131.9 L897.6,131.7 L898.4,136.3 L899.2,190.3 L900.0,199.2 L900.7,173.9 L901.5,166.3 L902.3,132.1 L903.1,166.9 L903.9,169.6 L904.6,186.1 L905.4,201.6 L906.2,169.8 L907.0,167.0 L907.8,150.8 L908.6,223.1 L909.3,183.7 L910.1,159.5 L910.9,144.9 L911.7,112.3 L912.5,150.8 L913.2,174.3 L914.0,243.0 L914.8,171.1 L915.6,103.3 L916.4,164.5 L917.1,123.9 L917.9,158.3 L918.7,119.2 L919.5,176.3 L920.3,198.9 L921.0,196.8 L921.8,138.3 L922.6,182.2 L923.4,180.5 L924.2,162.2 L924.9,176.8 L925.7,200.6 L926.5,155.1 L927.3,172.8 L928.1,160.9 L928.9,160.8 L929.6,213.9 L930.4,217.1 L931.2,207.6 L932.0,165.4 L932.8,153.3 L933.5,139.4 L934.3,187.7 L935.1,206.5 L935.9,162.4 L936.7,124.9 L937.4,153.8 L938.2,189.9 L939.0,169.0 L939.8,218.2 L940.6,176.6 L941.3,170.4 L942.1,180.8 L942.9,191.3 L943.7,160.4 L944.5,198.4 L945.2,180.0 L946.0,133.7 L946.8,188.6 L947.6,220.2 L948.4,186.0 L949.2,206.6 L949.9,211.2 L950.7,193.3 L951.5,193.3 L952.3,196.5 L953.1,170.7 L953.8,201.6 L954.6,183.0 L955.4,159.5 L956.2,101.4 L957.0,178.0 L957.7,154.1 L958.5,119.3 L959.3,190.9 L960.1,236.4 L960.9,229.1 L961.6,222.7 L962.4,203.7 L963.2,186.2 L964.0,180.7 L964.8,195.1 L965.5,161.2 L966.3,176.6 L967.1,178.0 L967.9,218.7 L968.7,186.8 L969.4,182.5 L970.2,178.0 L971.0,244.9 L971.8,163.7 L972.6,181.4 L973.4,162.3 L974.1,154.9 L974.9,177.5 L975.7,169.8 L976.5,200.3 L977.3,179.4 L978.0,184.5 L978.8,216.8 L979.6,223.5 L980.4,152.2 L981.2,214.9 L981.9,181.6 L982.7,195.5 L983.5,212.9 L984.3,116.2 L985.1,234.8 L985.8,198.8 L986.6,186.2 L987.4,179.6 L988.2,172.8 L989.0,190.6 L989.7,209.1 L990.5,164.7 L991.3,166.4 L992.1,116.0 L992.9,127.9 L993.7,146.8 L994.4,174.7 L995.2,186.3 L996.0,238.6 L996.8,210.8 L997.6,192.9 L998.3,181.3 L999.1,161.1 L999.9,148.7 L1000.7,123.4 L1001.5,182.7 L1002.2,205.8 L1003.0,204.6 L1003.8,252.6 L1004.6,170.0 L1005.4,153.9 L1006.1,145.8 L1006.9,173.8 L1007.7,160.2 L1008.5,141.1 L1009.3,145.8 L1010.0,169.2 L1010.8,208.2 L1011.6,201.7 L1012.4,188.6 L1013.2,193.3 L1014.0,159.7 L1014.7,171.6 L1015.5,165.7 L1016.3,182.2 L1017.1,153.6 L1017.9,138.0 L1018.6,127.5 L1019.4,212.5 L1020.2,160.3 L1021.0,184.4 L1021.8,139.2 L1022.5,131.5 L1023.3,145.5 L1024.1,162.8 L1024.9,185.9 L1025.7,160.1 L1026.4,174.7 L1027.2,125.5 L1028.0,127.9 L1028.8,187.2 L1029.6,142.6 L1030.3,176.1 L1031.1,138.2 L1031.9,154.2 L1032.7,191.2 L1033.5,164.5 L1034.3,184.2 L1035.0,197.3 L1035.8,173.4 L1036.6,157.8 L1037.4,200.0 L1038.2,221.1 L1038.9,187.1 L1039.7,210.7 L1040.5,158.3 L1041.3,179.9 L1042.1,149.5 L1042.8,189.6 L1043.6,166.4 L1044.4,220.3 L1045.2,232.6 L1046.0,184.8 L1046.7,143.0 L1047.5,133.6 L1048.3,156.1 L1049.1,192.1 L1049.9,166.2 L1050.6,184.7 L1051.4,99.6 L1052.2,144.3 L1053.0,137.7 L1053.8,125.1 L1054.6,221.0 L1055.3,167.4 L1056.1,159.8 L1056.9,77.0 L1057.7,137.6 L1058.5,168.0 L1059.2,168.4 L1060.0,144.8 L1060.8,145.6 L1061.6,165.9 L1062.4,172.7 L1063.1,149.4 L1063.9,181.0 L1064.7,137.1 L1065.5,186.8 L1066.3,164.9 L1067.0,204.3 L1067.8,188.6 L1068.6,170.1 L1069.4,171.8 L1070.2,200.4 L1070.9,212.9 L1071.7,205.5 L1072.5,206.4 L1073.3,127.4 L1074.1,242.4 L1074.9,204.1 L1075.6,192.6 L1076.4,209.1 L1077.2,152.6 L1078.0,176.7 L1078.8,191.1 L1079.5,167.9 L1080.3,221.2 L1081.1,178.9 L1081.9,244.5 L1082.7,199.2 L1083.4,154.0 L1084.2,175.2 L1085.0,181.1 L1085.8,155.7 L1086.6,159.7 L1087.3,197.3 L1088.1,222.6 L1088.9,156.8 L1089.7,170.9 L1090.5,178.4 L1091.2,146.9 L1092.0,137.3 L1092.8,153.4 L1093.6,174.4 L1094.4,138.7 L1095.2,155.6 L1095.9,165.6 L1096.7,155.0 L1097.5,166.8 L1098.3,154.5 L1099.1,188.4 L1099.8,169.5 L1100.6,124.4 L1101.4,155.7 L1102.2,215.8 L1103.0,170.9 L1103.7,229.8 L1104.5,210.2 L1105.3,215.3 L1106.1,181.7 L1106.9,182.9 L1107.6,217.7 L1108.4,189.5 L1109.2,191.5 L1110.0,143.3 L1110.8,136.5 L1111.5,189.0 L1112.3,230.8 L1113.1,236.6 L1113.9,255.8 L1114.7,214.8 L1115.5,219.4 L1116.2,143.9 L1117.0,141.5 L1117.8,142.4 L1118.6,186.9 L1119.4,209.4 L1120.1,226.1 L1120.9,178.0 L1121.7,206.7 L1122.5,194.8 L1123.3,161.5 L1124.0,149.4 L1124.8,170.8 L1125.6,200.9 L1126.4,196.1 L1127.2,171.9 L1127.9,174.9 L1128.7,182.3 L1129.5,237.5 L1130.3,218.0 L1131.1,174.5 L1131.8,176.4 L1132.6,152.7 L1133.4,184.7 L1134.2,203.6 L1135.0,177.7 L1135.8,141.7 L1136.5,112.0 L1137.3,272.0 L1138.1,176.6 L1138.9,154.5 L1139.7,156.4 L1140.4,224.6 L1141.2,153.9 L1142.0,221.8 L1142.8,173.4 L1143.6,181.5 L1144.3,129.4 L1145.1,185.7 L1145.9,208.2 L1146.7,199.2 L1147.5,166.7 L1148.2,182.5 L1149.0,207.2 L1149.8,211.5 L1150.6,230.3 L1151.4,159.9 L1152.1,157.6 L1152.9,200.4 L1153.7,190.1 L1154.5,123.5 L1155.3,150.2 L1156.1,191.8 L1156.8,164.0 L1157.6,141.3 L1158.4,129.1 L1159.2,177.3 L1160.0,171.1 L1160.7,154.3 L1161.5,140.4 L1162.3,115.5 L1163.1,181.0 L1163.9,135.8 L1164.6,159.8 L1165.4,181.7 L1166.2,173.1" stroke="#7c1a37"/>
</g>
<path d="M152.0,446.49h10 M152.0,398.28h10 M152.0,350.07h10 M152.0,301.86h10 M152.0,253.65h10 M152.0,205.44h10 M152.0,157.23h10 M152.0,109.02h10 M152.0,60.81h10 M1166.2,441.13h-10 M1166.2,387.57h-10 M1166.2,334.00h-10 M1166.2,280.43h-10 M1166.2,226.87h-10 M1166.2,173.30h-10 M1166.2,119.73h-10 M1166.2,66.17h-10 M354.84,494.7v-10 M354.84,12.6v10 M557.68,494.7v-10 M557.68,12.6v10 M760.52,494.7v-10 M760.52,12.6v10 M963.36,494.7v-10 M963.36,12.6v10" stroke="#8a8a8a" stroke-width="1.6" fill="none"/>
<rect x="152.0" y="12.6" width="1014.20" height="482.10" fill="none" stroke="#707070" stroke-width="2.2"/>
<text x="78.96" y="457.11" font-family='"Liberation Sans",sans-serif' font-size="30" fill="#5e5e5e" textLength="64.23" lengthAdjust="spacingAndGlyphs">0.25</text>
<text x="78.86" y="408.90" font-family='"Liberation Sans",sans-serif' font-size="30" fill="#5e5e5e" textLength="64.23" lengthAdjust="spacingAndGlyphs">0.50</text>
<text x="78.96" y="360.69" font-family='"Liberation Sans",sans-serif' font-size="30" fill="#5e5e5e" textLength="64.23" lengthAdjust="spacingAndGlyphs">0.75</text>
<text x="78.86" y="312.48" font-family='"Liberation Sans",sans-serif' font-size="30" fill="#5e5e5e" textLength="64.23" lengthAdjust="spacingAndGlyphs">1.00</text>
<text x="78.96" y="264.27" font-family='"Liberation Sans",sans-serif' font-size="30" fill="#5e5e5e" textLength="64.23" lengthAdjust="spacingAndGlyphs">1.25</text>
<text x="78.86" y="216.06" font-family='"Liberation Sans",sans-serif' font-size="30" fill="#5e5e5e" textLength="64.23" lengthAdjust="spacingAndGlyphs">1.50</text>
<text x="78.96" y="167.85" font-family='"Liberation Sans",sans-serif' font-size="30" fill="#5e5e5e" textLength="64.23" lengthAdjust="spacingAndGlyphs">1.75</text>
<text x="78.86" y="119.64" font-family='"Liberation Sans",sans-serif' font-size="30" fill="#5e5e5e" textLength="64.23" lengthAdjust="spacingAndGlyphs">2.00</text>
<text x="78.96" y="71.43" font-family='"Liberation Sans",sans-serif' font-size="30" fill="#5e5e5e" textLength="64.23" lengthAdjust="spacingAndGlyphs">2.25</text>
<text x="78.86" y="23.22" font-family='"Liberation Sans",sans-serif' font-size="30" fill="#5e5e5e" textLength="64.23" lengthAdjust="spacingAndGlyphs">2.50</text>
<text x="1172.69" y="451.75" font-family='"Liberation Sans",sans-serif' font-size="30" fill="#7a1533" textLength="18.35" lengthAdjust="spacingAndGlyphs">1</text>
<text x="1173.54" y="398.19" font-family='"Liberation Sans",sans-serif' font-size="30" fill="#7a1533" textLength="18.35" lengthAdjust="spacingAndGlyphs">2</text>
<text x="1173.94" y="344.62" font-family='"Liberation Sans",sans-serif' font-size="30" fill="#7a1533" textLength="18.35" lengthAdjust="spacingAndGlyphs">3</text>
<text x="1174.44" y="291.05" font-family='"Liberation Sans",sans-serif' font-size="30" fill="#7a1533" textLength="18.35" lengthAdjust="spacingAndGlyphs">4</text>
<text x="1173.88" y="237.49" font-family='"Liberation Sans",sans-serif' font-size="30" fill="#7a1533" textLength="18.35" lengthAdjust="spacingAndGlyphs">5</text>
<text x="1173.52" y="183.92" font-family='"Liberation Sans",sans-serif' font-size="30" fill="#7a1533" textLength="18.35" lengthAdjust="spacingAndGlyphs">6</text>
<text x="1173.51" y="130.35" font-family='"Liberation Sans",sans-serif' font-size="30" fill="#7a1533" textLength="18.35" lengthAdjust="spacingAndGlyphs">7</text>
<text x="1173.77" y="76.79" font-family='"Liberation Sans",sans-serif' font-size="30" fill="#7a1533" textLength="18.35" lengthAdjust="spacingAndGlyphs">8</text>
<text x="1173.65" y="23.22" font-family='"Liberation Sans",sans-serif' font-size="30" fill="#7a1533" textLength="18.35" lengthAdjust="spacingAndGlyphs">9</text>
<text x="1084.76" y="64.00" font-family='"Liberation Sans",sans-serif' font-size="45" font-weight="bold" fill="#000000" textLength="54.87" lengthAdjust="spacingAndGlyphs">(a)</text>
<clipPath id="clipb"><rect x="151.3" y="513.6" width="1014.9000000000001" height="471.4"/></clipPath>
<g clip-path="url(#clipb)" fill="none" stroke-width="2.5" stroke-linejoin="round">
<path d="M151.3,740.0 L152.1,743.3 L152.9,737.3 L153.6,721.0 L154.4,738.3 L155.2,735.7 L156.0,714.5 L156.8,734.8 L157.6,731.4 L158.3,723.1 L159.1,717.2 L159.9,690.7 L160.7,703.4 L161.5,718.3 L162.2,731.9 L163.0,745.4 L163.8,715.9 L164.6,727.7 L165.4,732.6 L166.1,677.7 L166.9,694.9 L167.7,728.4 L168.5,721.6 L169.3,696.6 L170.1,669.8 L170.8,728.7 L171.6,710.0 L172.4,703.6 L173.2,688.0 L174.0,716.7 L174.7,709.2 L175.5,739.5 L176.3,731.5 L177.1,688.3 L177.9,687.9 L178.6,717.4 L179.4,702.3 L180.2,716.4 L181.0,722.5 L181.8,729.8 L182.6,738.1 L183.3,704.3 L184.1,725.0 L184.9,720.4 L185.7,711.3 L186.5,702.1 L187.2,723.1 L188.0,728.9 L188.8,696.2 L189.6,711.4 L190.4,708.1 L191.1,752.1 L191.9,733.2 L192.7,738.6 L193.5,739.3 L194.3,685.1 L195.1,676.9 L195.8,715.5 L196.6,699.0 L197.4,687.0 L198.2,696.2 L199.0,707.9 L199.7,715.4 L200.5,734.4 L201.3,692.1 L202.1,690.9 L202.9,702.6 L203.6,675.2 L204.4,698.4 L205.2,669.5 L206.0,707.2 L206.8,701.9 L207.6,698.5 L208.3,662.1 L209.1,708.2 L209.9,733.9 L210.7,732.7 L211.5,728.8 L212.2,675.8 L213.0,731.6 L213.8,722.2 L214.6,705.5 L215.4,713.8 L216.1,750.4 L216.9,739.6 L217.7,724.8 L218.5,731.2 L219.3,698.8 L220.1,750.9 L220.8,706.4 L221.6,723.1 L222.4,713.4 L223.2,712.4 L224.0,711.5 L224.7,751.6 L225.5,709.6 L226.3,656.8 L227.1,709.7 L227.9,645.3 L228.6,699.2 L229.4,711.0 L230.2,693.3 L231.0,701.5 L231.8,705.3 L232.6,685.1 L233.3,708.1 L234.1,717.9 L234.9,710.5 L235.7,689.5 L236.5,696.2 L237.2,698.5 L238.0,739.3 L238.8,675.9 L239.6,673.1 L240.4,667.1 L241.1,716.4 L241.9,680.6 L242.7,706.1 L243.5,673.0 L244.3,691.2 L245.1,701.6 L245.8,677.2 L246.6,644.6 L247.4,688.6 L248.2,693.9 L249.0,692.1 L249.7,687.2 L250.5,697.4 L251.3,653.6 L252.1,662.3 L252.9,697.4 L253.6,700.2 L254.4,717.2 L255.2,719.2 L256.0,709.6 L256.8,721.2 L257.6,722.1 L258.3,686.7 L259.1,713.3 L259.9,699.9 L260.7,680.0 L261.5,665.9 L262.2,677.7 L263.0,712.3 L263.8,720.7 L264.6,728.1 L265.4,704.3 L266.2,691.8 L266.9,705.8 L267.7,718.0 L268.5,747.5 L269.3,717.0 L270.1,674.9 L270.8,683.3 L271.6,703.8 L272.4,711.0 L273.2,720.9 L274.0,743.0 L274.7,734.1 L275.5,730.6 L276.3,733.2 L277.1,785.4 L277.9,715.1 L278.7,696.7 L279.4,703.4 L280.2,743.6 L281.0,767.2 L281.8,693.2 L282.6,702.1 L283.3,701.2 L284.1,717.8 L284.9,712.4 L285.7,669.5 L286.5,705.7 L287.2,719.8 L288.0,722.3 L288.8,704.1 L289.6,729.8 L290.4,725.4 L291.2,683.0 L291.9,669.3 L292.7,703.6 L293.5,714.5 L294.3,676.5 L295.1,689.7 L295.8,678.2 L296.6,680.3 L297.4,692.3 L298.2,671.8 L299.0,678.3 L299.7,678.8 L300.5,656.8 L301.3,661.5 L302.1,685.5 L302.9,699.4 L303.7,726.3 L304.4,678.8 L305.2,673.9 L306.0,681.8 L306.8,645.2 L307.6,656.3 L308.3,682.3 L309.1,686.2 L309.9,685.8 L310.7,727.9 L311.5,720.8 L312.2,723.7 L313.0,750.3 L313.8,730.4 L314.6,732.4 L315.4,689.7 L316.2,709.6 L316.9,718.3 L317.7,694.4 L318.5,732.3 L319.3,697.9 L320.1,753.3 L320.8,715.4 L321.6,724.6 L322.4,711.1 L323.2,706.4 L324.0,720.8 L324.7,680.3 L325.5,728.3 L326.3,689.5 L327.1,713.6 L327.9,718.8 L328.7,726.7 L329.4,684.5 L330.2,681.8 L331.0,702.0 L331.8,722.2 L332.6,694.4 L333.3,722.4 L334.1,700.6 L334.9,669.1 L335.7,738.4 L336.5,693.2 L337.2,694.5 L338.0,691.2 L338.8,686.4 L339.6,648.2 L340.4,626.9 L341.2,645.8 L341.9,654.3 L342.7,669.7 L343.5,648.1 L344.3,608.2 L345.1,624.1 L345.8,631.9 L346.6,627.4 L347.4,627.1 L348.2,639.0 L349.0,572.0 L349.7,603.5 L350.5,638.4 L351.3,682.8 L352.1,646.7 L352.9,638.6 L353.7,623.7 L354.4,672.7 L355.2,633.0 L356.0,701.6 L356.8,678.7 L357.6,664.5 L358.3,657.4 L359.1,653.9 L359.9,678.4 L360.7,690.5 L361.5,659.8 L362.2,674.0 L363.0,650.7 L363.8,618.6 L364.6,673.4 L365.4,676.5 L366.2,687.1 L366.9,676.9 L367.7,687.1 L368.5,665.5 L369.3,673.9 L370.1,660.4 L370.8,686.6 L371.6,695.7 L372.4,711.1 L373.2,686.2 L374.0,703.7 L374.7,664.3 L375.5,675.7 L376.3,676.8 L377.1,702.6 L377.9,687.2 L378.7,697.0 L379.4,730.3 L380.2,676.2 L381.0,700.9 L381.8,691.6 L382.6,710.5 L383.3,717.7 L384.1,712.8 L384.9,735.9 L385.7,692.7 L386.5,716.2 L387.3,694.2 L388.0,680.1 L388.8,687.3 L389.6,682.6 L390.4,716.5 L391.2,690.2 L391.9,671.8 L392.7,693.8 L393.5,697.0 L394.3,680.1 L395.1,670.4 L395.8,667.0 L396.6,685.9 L397.4,685.9 L398.2,682.0 L399.0,694.8 L399.8,722.0 L400.5,703.0 L401.3,702.7 L402.1,689.5 L402.9,711.9 L403.7,700.6 L404.4,713.1 L405.2,712.7 L406.0,738.7 L406.8,704.6 L407.6,761.8 L408.3,696.1 L409.1,731.0 L409.9,700.8 L410.7,697.2 L411.5,701.7 L412.3,661.1 L413.0,693.6 L413.8,732.0 L414.6,713.3 L415.4,659.2 L416.2,679.3 L416.9,698.0 L417.7,742.6 L418.5,693.3 L419.3,695.3 L420.1,696.0 L420.8,670.3 L421.6,671.8 L422.4,690.8 L423.2,641.9 L424.0,666.7 L424.8,651.5 L425.5,709.5 L426.3,749.3 L427.1,700.9 L427.9,692.5 L428.7,682.1 L429.4,649.6 L430.2,663.8 L431.0,698.8 L431.8,690.3 L432.6,712.6 L433.3,673.4 L434.1,679.1 L434.9,724.0 L435.7,663.2 L436.5,676.8 L437.3,662.2 L438.0,687.6 L438.8,716.5 L439.6,667.9 L440.4,686.7 L441.2,688.0 L441.9,695.1 L442.7,690.2 L443.5,690.6 L444.3,695.7 L445.1,672.5 L445.8,697.3 L446.6,664.7 L447.4,646.3 L448.2,653.0 L449.0,693.5 L449.8,701.4 L450.5,734.7 L451.3,695.6 L452.1,699.5 L452.9,715.9 L453.7,727.8 L454.4,703.0 L455.2,715.0 L456.0,729.9 L456.8,711.2 L457.6,733.1 L458.3,714.1 L459.1,717.7 L459.9,712.1 L460.7,685.9 L461.5,705.5 L462.3,703.3 L463.0,682.5 L463.8,670.9 L464.6,654.4 L465.4,690.0 L466.2,691.7 L466.9,680.0 L467.7,680.6 L468.5,702.3 L469.3,677.4 L470.1,690.5 L470.8,693.0 L471.6,683.7 L472.4,687.6 L473.2,703.9 L474.0,710.1 L474.8,682.9 L475.5,716.1 L476.3,672.1 L477.1,677.0 L477.9,677.0 L478.7,698.9 L479.4,702.5 L480.2,704.5 L481.0,674.8 L481.8,673.4 L482.6,660.3 L483.3,646.7 L484.1,638.5 L484.9,671.8 L485.7,677.9 L486.5,666.9 L487.3,649.5 L488.0,712.3 L488.8,711.3 L489.6,680.4 L490.4,697.6 L491.2,682.5 L491.9,645.4 L492.7,696.1 L493.5,688.8 L494.3,711.6 L495.1,676.9 L495.9,678.7 L496.6,638.6 L497.4,667.9 L498.2,664.7 L499.0,682.2 L499.8,647.4 L500.5,602.9 L501.3,671.1 L502.1,663.0 L502.9,682.0 L503.7,642.9 L504.4,649.9 L505.2,647.3 L506.0,650.4 L506.8,672.8 L507.6,657.3 L508.4,604.0 L509.1,675.5 L509.9,674.5 L510.7,676.0 L511.5,665.5 L512.3,644.9 L513.0,705.4 L513.8,674.4 L514.6,672.7 L515.4,703.5 L516.2,657.2 L516.9,654.7 L517.7,691.6 L518.5,699.2 L519.3,663.9 L520.1,679.9 L520.9,683.5 L521.6,674.4 L522.4,662.1 L523.2,647.6 L524.0,696.7 L524.8,652.1 L525.5,706.4 L526.3,638.1 L527.1,682.0 L527.9,636.9 L528.7,687.7 L529.4,657.2 L530.2,703.3 L531.0,713.7 L531.8,689.6 L532.6,693.4 L533.4,701.7 L534.1,647.9 L534.9,659.0 L535.7,660.5 L536.5,673.3 L537.3,685.9 L538.0,683.2 L538.8,695.2 L539.6,635.6 L540.4,644.6 L541.2,644.0 L541.9,668.8 L542.7,678.4 L543.5,681.2 L544.3,686.1 L545.1,669.4 L545.9,654.2 L546.6,654.6 L547.4,692.0 L548.2,691.5 L549.0,667.7 L549.8,659.4 L550.5,647.3 L551.3,656.8 L552.1,672.6 L552.9,662.6 L553.7,625.6 L554.4,685.2 L555.2,690.0 L556.0,674.3 L556.8,681.4 L557.6,683.7 L558.4,681.7 L559.1,696.2 L559.9,682.3 L560.7,694.7 L561.5,692.3 L562.3,689.2 L563.0,711.7 L563.8,706.8 L564.6,691.6 L565.4,714.4 L566.2,712.7 L566.9,676.7 L567.7,709.8 L568.5,707.6 L569.3,705.2 L570.1,670.1 L570.9,693.0 L571.6,691.5 L572.4,687.8 L573.2,696.8 L574.0,700.3 L574.8,723.0 L575.5,720.6 L576.3,715.8 L577.1,677.9 L577.9,701.6 L578.7,687.4 L579.4,715.0 L580.2,709.9 L581.0,706.0 L581.8,713.6 L582.6,673.9 L583.4,703.0 L584.1,704.5 L584.9,702.5 L585.7,702.9 L586.5,736.2 L587.3,729.2 L588.0,697.1 L588.8,702.6 L589.6,735.7 L590.4,759.8 L591.2,752.1 L591.9,763.0 L592.7,715.2 L593.5,716.3 L594.3,720.8 L595.1,734.2 L595.9,692.0 L596.6,711.3 L597.4,707.1 L598.2,720.4 L599.0,689.2 L599.8,732.4 L600.5,692.3 L601.3,699.5 L602.1,684.6 L602.9,704.5 L603.7,718.9 L604.5,676.3 L605.2,656.5 L606.0,669.4 L606.8,700.2 L607.6,674.6 L608.4,688.3 L609.1,667.1 L609.9,662.1 L610.7,684.9 L611.5,702.3 L612.3,669.0 L613.0,729.3 L613.8,690.8 L614.6,717.0 L615.4,675.9 L616.2,661.3 L617.0,689.4 L617.7,669.2 L618.5,706.0 L619.3,699.0 L620.1,671.0 L620.9,661.0 L621.6,678.5 L622.4,677.1 L623.2,682.6 L624.0,653.2 L624.8,674.1 L625.5,695.9 L626.3,659.0 L627.1,700.5 L627.9,676.3 L628.7,666.9 L629.5,699.0 L630.2,690.3 L631.0,665.3 L631.8,633.9 L632.6,670.5 L633.4,679.7 L634.1,683.1 L634.9,659.4 L635.7,639.6 L636.5,602.7 L637.3,664.4 L638.0,654.0 L638.8,636.8 L639.6,603.1 L640.4,646.8 L641.2,611.3 L642.0,633.5 L642.7,667.3 L643.5,653.1 L644.3,651.8 L645.1,575.0 L645.9,671.8 L646.6,584.0 L647.4,625.3 L648.2,669.8 L649.0,664.2 L649.8,642.8 L650.5,603.8 L651.3,623.5 L652.1,605.8 L652.9,646.9 L653.7,656.2 L654.5,628.7 L655.2,601.1 L656.0,617.4 L656.8,629.0 L657.6,603.4 L658.4,609.2 L659.1,629.2 L659.9,615.0 L660.7,611.2 L661.5,600.7 L662.3,655.5 L663.0,632.5 L663.8,660.2 L664.6,669.5 L665.4,647.4 L666.2,661.1 L667.0,644.6 L667.7,662.8 L668.5,665.9 L669.3,643.8 L670.1,631.0 L670.9,648.4 L671.6,618.2 L672.4,635.2 L673.2,619.8 L674.0,714.5 L674.8,682.3 L675.5,653.8 L676.3,623.2 L677.1,701.5 L677.9,708.9 L678.7,708.6 L679.5,699.5 L680.2,729.3 L681.0,716.3 L681.8,688.0 L682.6,683.8 L683.4,678.2 L684.1,702.4 L684.9,693.4 L685.7,733.1 L686.5,692.7 L687.3,703.7 L688.0,703.3 L688.8,693.5 L689.6,689.8 L690.4,705.0 L691.2,693.9 L692.0,702.0 L692.7,703.3 L693.5,699.3 L694.3,680.7 L695.1,690.6 L695.9,705.5 L696.6,704.6 L697.4,700.3 L698.2,711.0 L699.0,696.9 L699.8,687.5 L700.5,689.8 L701.3,685.1 L702.1,728.2 L702.9,728.4 L703.7,708.5 L704.5,699.3 L705.2,698.1 L706.0,676.8 L706.8,722.6 L707.6,711.1 L708.4,694.3 L709.1,683.7 L709.9,694.6 L710.7,699.1 L711.5,717.4 L712.3,710.2 L713.0,705.4 L713.8,676.0 L714.6,698.7 L715.4,684.1 L716.2,663.8 L717.0,697.5 L717.7,706.2 L718.5,693.4 L719.3,696.7 L720.1,682.1 L720.9,652.7 L721.6,676.9 L722.4,672.2 L723.2,697.1 L724.0,680.5 L724.8,680.6 L725.6,669.1 L726.3,665.7 L727.1,695.6 L727.9,667.1 L728.7,671.5 L729.5,675.6 L730.2,680.6 L731.0,662.3 L731.8,681.4 L732.6,632.8 L733.4,693.8 L734.1,661.2 L734.9,664.9 L735.7,672.7 L736.5,663.1 L737.3,647.2 L738.1,654.6 L738.8,697.7 L739.6,677.1 L740.4,656.8 L741.2,667.6 L742.0,676.0 L742.7,697.2 L743.5,723.4 L744.3,706.8 L745.1,726.9 L745.9,690.0 L746.6,663.6 L747.4,674.3 L748.2,693.3 L749.0,700.9 L749.8,711.5 L750.6,721.3 L751.3,711.8 L752.1,717.5 L752.9,710.1 L753.7,733.9 L754.5,705.8 L755.2,712.5 L756.0,712.2 L756.8,688.9 L757.6,723.2 L758.4,700.4 L759.1,705.8 L759.9,667.5 L760.7,704.3 L761.5,718.6 L762.3,724.7 L763.1,696.9 L763.8,704.8 L764.6,709.9 L765.4,699.1 L766.2,691.1 L767.0,749.2 L767.7,742.2 L768.5,733.9 L769.3,712.9 L770.1,700.9 L770.9,705.2 L771.6,685.0 L772.4,700.3 L773.2,729.1 L774.0,706.3 L774.8,669.6 L775.6,663.9 L776.3,703.3 L777.1,709.8 L777.9,735.0 L778.7,699.4 L779.5,726.9 L780.2,726.8 L781.0,699.3 L781.8,693.7 L782.6,692.0 L783.4,718.0 L784.1,706.6 L784.9,722.0 L785.7,748.2 L786.5,716.6 L787.3,781.0 L788.1,706.8 L788.8,672.0 L789.6,749.6 L790.4,723.4 L791.2,676.5 L792.0,708.1 L792.7,712.2 L793.5,763.5 L794.3,696.5 L795.1,732.3 L795.9,742.2 L796.6,688.6 L797.4,701.7 L798.2,652.7 L799.0,714.5 L799.8,728.1 L800.6,727.4 L801.3,723.4 L802.1,741.3 L802.9,691.3 L803.7,727.3 L804.5,742.4 L805.2,726.5 L806.0,736.5 L806.8,732.4 L807.6,697.7 L808.4,729.5 L809.1,736.8 L809.9,715.8 L810.7,688.1 L811.5,712.2 L812.3,712.6 L813.1,707.3 L813.8,693.0 L814.6,675.2 L815.4,708.0 L816.2,682.6 L817.0,708.9 L817.7,706.7 L818.5,713.0 L819.3,690.8 L820.1,726.1 L820.9,718.2 L821.6,675.0 L822.4,717.0 L823.2,705.0 L824.0,713.0 L824.8,693.4 L825.6,687.7 L826.3,708.7 L827.1,709.0 L827.9,712.2 L828.7,706.1 L829.5,693.1 L830.2,696.7 L831.0,746.6 L831.8,674.2 L832.6,675.5 L833.4,685.3 L834.2,675.0 L834.9,668.3 L835.7,680.3 L836.5,709.7 L837.3,645.2 L838.1,668.0 L838.8,680.3 L839.6,675.7 L840.4,672.8 L841.2,698.9 L842.0,672.6 L842.7,698.9 L843.5,671.1 L844.3,677.1 L845.1,695.1 L845.9,671.0 L846.7,696.1 L847.4,697.6 L848.2,711.5 L849.0,675.9 L849.8,720.2 L850.6,706.3 L851.3,646.2 L852.1,700.1 L852.9,717.6 L853.7,701.7 L854.5,684.3 L855.2,680.2 L856.0,680.2 L856.8,705.8 L857.6,694.1 L858.4,690.3 L859.2,675.4 L859.9,697.8 L860.7,662.0 L861.5,698.1 L862.3,699.5 L863.1,662.4 L863.8,703.7 L864.6,681.1 L865.4,683.4 L866.2,706.3 L867.0,679.3 L867.7,708.9 L868.5,692.9 L869.3,687.1 L870.1,683.3 L870.9,699.4 L871.7,726.8 L872.4,668.3 L873.2,723.7 L874.0,729.9 L874.8,740.0 L875.6,705.9 L876.3,700.9 L877.1,742.2 L877.9,701.7 L878.7,693.3 L879.5,680.9 L880.2,698.2 L881.0,729.3 L881.8,689.0 L882.6,683.0 L883.4,696.9 L884.2,666.8 L884.9,665.5 L885.7,703.0 L886.5,678.7 L887.3,677.2 L888.1,663.3 L888.8,626.0 L889.6,665.5 L890.4,662.0 L891.2,707.4 L892.0,664.1 L892.7,673.5 L893.5,707.8 L894.3,657.1 L895.1,666.2 L895.9,660.1 L896.7,673.0 L897.4,680.3 L898.2,669.6 L899.0,689.0 L899.8,705.2 L900.6,704.1 L901.3,677.5 L902.1,706.2 L902.9,694.1 L903.7,663.9 L904.5,697.7 L905.2,699.0 L906.0,685.7 L906.8,648.8 L907.6,700.8 L908.4,697.3 L909.2,696.0 L909.9,694.4 L910.7,690.3 L911.5,693.6 L912.3,714.0 L913.1,672.9 L913.8,666.9 L914.6,669.3 L915.4,687.3 L916.2,726.8 L917.0,704.7 L917.7,705.4 L918.5,678.8 L919.3,681.1 L920.1,662.3 L920.9,655.1 L921.7,668.4 L922.4,663.9 L923.2,694.7 L924.0,685.4 L924.8,709.5 L925.6,672.6 L926.3,736.6 L927.1,687.3 L927.9,681.3 L928.7,681.5 L929.5,715.9 L930.2,690.4 L931.0,686.3 L931.8,707.9 L932.6,700.1 L933.4,720.5 L934.2,732.7 L934.9,705.6 L935.7,715.7 L936.5,760.2 L937.3,710.4 L938.1,716.4 L938.8,691.1 L939.6,705.4 L940.4,688.9 L941.2,692.6 L942.0,703.9 L942.8,685.1 L943.5,717.2 L944.3,685.0 L945.1,682.7 L945.9,698.1 L946.7,717.1 L947.4,702.7 L948.2,685.0 L949.0,679.5 L949.8,692.5 L950.6,689.4 L951.3,659.6 L952.1,697.7 L952.9,708.7 L953.7,694.3 L954.5,705.6 L955.3,710.5 L956.0,692.2 L956.8,694.3 L957.6,673.3 L958.4,673.0 L959.2,649.8 L959.9,704.5 L960.7,683.9 L961.5,674.8 L962.3,670.4 L963.1,656.8 L963.8,692.6 L964.6,705.7 L965.4,703.2 L966.2,707.1 L967.0,685.4 L967.8,686.1 L968.5,664.5 L969.3,729.1 L970.1,699.0 L970.9,716.8 L971.7,708.8 L972.4,678.9 L973.2,701.7 L974.0,707.7 L974.8,714.6 L975.6,714.9 L976.3,698.5 L977.1,731.4 L977.9,699.4 L978.7,728.7 L979.5,684.1 L980.3,680.4 L981.0,706.1 L981.8,691.2 L982.6,696.3 L983.4,720.5 L984.2,713.1 L984.9,719.7 L985.7,702.1 L986.5,686.5 L987.3,687.0 L988.1,706.3 L988.8,734.9 L989.6,719.6 L990.4,731.6 L991.2,739.6 L992.0,707.1 L992.8,755.7 L993.5,711.6 L994.3,691.4 L995.1,746.9 L995.9,733.4 L996.7,731.9 L997.4,666.1 L998.2,693.5 L999.0,728.4 L999.8,744.8 L1000.6,723.6 L1001.3,729.6 L1002.1,685.3 L1002.9,698.1 L1003.7,741.3 L1004.5,700.4 L1005.3,698.0 L1006.0,731.5 L1006.8,737.4 L1007.6,702.1 L1008.4,705.2 L1009.2,720.2 L1009.9,707.2 L1010.7,684.5 L1011.5,682.2 L1012.3,729.7 L1013.1,696.8 L1013.8,685.2 L1014.6,724.2 L1015.4,697.1 L1016.2,692.5 L1017.0,674.1 L1017.8,682.8 L1018.5,696.0 L1019.3,709.8 L1020.1,727.0 L1020.9,713.2 L1021.7,716.8 L1022.4,715.7 L1023.2,691.5 L1024.0,661.0 L1024.8,644.0 L1025.6,680.1 L1026.3,718.2 L1027.1,686.7 L1027.9,659.0 L1028.7,689.2 L1029.5,690.7 L1030.3,725.6 L1031.0,682.7 L1031.8,696.8 L1032.6,705.0 L1033.4,694.1 L1034.2,728.1 L1034.9,699.9 L1035.7,739.3 L1036.5,722.1 L1037.3,719.6 L1038.1,734.5 L1038.8,715.1 L1039.6,728.7 L1040.4,762.5 L1041.2,758.9 L1042.0,720.8 L1042.8,705.1 L1043.5,728.6 L1044.3,716.7 L1045.1,728.8 L1045.9,711.8 L1046.7,741.3 L1047.4,746.8 L1048.2,732.4 L1049.0,717.8 L1049.8,712.0 L1050.6,732.7 L1051.3,742.1 L1052.1,754.8 L1052.9,761.0 L1053.7,751.6 L1054.5,760.9 L1055.3,743.3 L1056.0,770.7 L1056.8,770.1 L1057.6,759.9 L1058.4,775.7 L1059.2,715.4 L1059.9,708.5 L1060.7,727.9 L1061.5,709.8 L1062.3,737.2 L1063.1,731.8 L1063.9,712.7 L1064.6,717.1 L1065.4,755.2 L1066.2,764.1 L1067.0,736.6 L1067.8,754.5 L1068.5,760.7 L1069.3,764.0 L1070.1,756.1 L1070.9,705.4 L1071.7,735.6 L1072.4,731.2 L1073.2,753.0 L1074.0,755.0 L1074.8,713.5 L1075.6,729.7 L1076.4,737.4 L1077.1,756.4 L1077.9,742.1 L1078.7,760.6 L1079.5,732.8 L1080.3,722.3 L1081.0,714.6 L1081.8,728.7 L1082.6,753.6 L1083.4,751.6 L1084.2,719.8 L1084.9,739.8 L1085.7,767.5 L1086.5,739.1 L1087.3,727.3 L1088.1,753.3 L1088.9,746.7 L1089.6,735.9 L1090.4,706.2 L1091.2,686.5 L1092.0,737.0 L1092.8,739.2 L1093.5,754.7 L1094.3,744.6 L1095.1,717.8 L1095.9,718.5 L1096.7,733.3 L1097.4,739.3 L1098.2,724.2 L1099.0,730.8 L1099.8,744.2 L1100.6,729.8 L1101.4,714.8 L1102.1,761.7 L1102.9,756.7 L1103.7,736.5 L1104.5,725.5 L1105.3,747.3 L1106.0,769.5 L1106.8,736.5 L1107.6,768.6 L1108.4,729.3 L1109.2,733.6 L1109.9,757.6 L1110.7,766.7 L1111.5,746.7 L1112.3,725.9 L1113.1,760.5 L1113.9,752.8 L1114.6,730.2 L1115.4,761.3 L1116.2,755.9 L1117.0,699.6 L1117.8,748.8 L1118.5,711.1 L1119.3,693.4 L1120.1,678.6 L1120.9,699.0 L1121.7,696.8 L1122.4,713.1 L1123.2,731.3 L1124.0,743.8 L1124.8,705.3 L1125.6,711.7 L1126.4,733.7 L1127.1,715.1 L1127.9,700.1 L1128.7,705.4 L1129.5,728.5 L1130.3,709.1 L1131.0,711.9 L1131.8,699.1 L1132.6,754.3 L1133.4,706.1 L1134.2,669.0 L1134.9,721.7 L1135.7,690.0 L1136.5,709.6 L1137.3,723.7 L1138.1,679.3 L1138.9,679.6 L1139.6,679.1 L1140.4,676.6 L1141.2,732.3 L1142.0,740.0 L1142.8,757.6 L1143.5,748.7 L1144.3,708.1 L1145.1,728.5 L1145.9,728.3 L1146.7,688.2 L1147.4,697.9 L1148.2,711.9 L1149.0,685.4 L1149.8,707.5 L1150.6,767.6 L1151.4,771.2 L1152.1,729.7 L1152.9,722.8 L1153.7,729.9 L1154.5,701.7 L1155.3,718.2 L1156.0,710.9 L1156.8,701.1 L1157.6,694.6 L1158.4,756.0 L1159.2,717.8 L1159.9,733.4 L1160.7,731.9 L1161.5,741.9 L1162.3,767.1 L1163.1,746.7 L1163.9,733.3 L1164.6,757.1 L1165.4,727.0 L1166.2,733.4" stroke="#2d4e68"/>
<path d="M151.3,983.0 L152.1,924.1 L152.9,885.1 L153.6,881.2 L154.4,797.1 L155.2,837.5 L156.0,816.0 L156.8,767.5 L157.6,805.9 L158.3,802.9 L159.1,777.5 L159.9,725.5 L160.7,813.3 L161.5,769.8 L162.2,761.7 L163.0,777.9 L163.8,707.4 L164.6,759.9 L165.4,806.4 L166.1,768.0 L166.9,730.3 L167.7,778.5 L168.5,814.7 L169.3,809.4 L170.1,722.5 L170.8,719.5 L171.6,817.9 L172.4,786.9 L173.2,765.2 L174.0,749.2 L174.7,837.7 L175.5,764.6 L176.3,742.3 L177.1,763.7 L177.9,743.9 L178.6,715.6 L179.4,724.6 L180.2,676.0 L181.0,641.2 L181.8,588.0 L182.6,655.5 L183.3,633.4 L184.1,621.5 L184.9,650.8 L185.7,564.3 L186.5,557.1 L187.2,556.0 L188.0,545.6 L188.8,549.4 L189.6,704.4 L190.4,635.3 L191.1,643.0 L191.9,660.8 L192.7,673.4 L193.5,713.9 L194.3,641.4 L195.1,684.9 L195.8,659.7 L196.6,692.6 L197.4,761.1 L198.2,714.9 L199.0,707.1 L199.7,801.2 L200.5,711.2 L201.3,683.0 L202.1,787.5 L202.9,804.3 L203.6,830.4 L204.4,845.7 L205.2,748.1 L206.0,794.3 L206.8,775.0 L207.6,723.4 L208.3,732.5 L209.1,764.4 L209.9,758.3 L210.7,841.1 L211.5,764.6 L212.2,746.5 L213.0,699.1 L213.8,779.3 L214.6,769.1 L215.4,702.9 L216.1,700.4 L216.9,751.4 L217.7,741.4 L218.5,764.9 L219.3,760.0 L220.1,780.4 L220.8,776.3 L221.6,751.7 L222.4,762.5 L223.2,787.6 L224.0,751.5 L224.7,730.1 L225.5,715.6 L226.3,788.5 L227.1,760.7 L227.9,778.7 L228.6,813.4 L229.4,861.7 L230.2,796.4 L231.0,852.7 L231.8,841.5 L232.6,858.9 L233.3,867.8 L234.1,780.5 L234.9,784.4 L235.7,799.6 L236.5,755.0 L237.2,779.1 L238.0,794.5 L238.8,813.4 L239.6,772.1 L240.4,810.7 L241.1,774.2 L241.9,755.0 L242.7,747.4 L243.5,774.5 L244.3,749.3 L245.1,796.0 L245.8,746.7 L246.6,768.7 L247.4,737.5 L248.2,701.3 L249.0,774.5 L249.7,772.2 L250.5,735.9 L251.3,752.2 L252.1,761.5 L252.9,800.4 L253.6,773.6 L254.4,789.8 L255.2,721.8 L256.0,756.4 L256.8,753.0 L257.6,721.5 L258.3,755.1 L259.1,765.9 L259.9,760.8 L260.7,767.2 L261.5,768.2 L262.2,784.3 L263.0,746.3 L263.8,752.7 L264.6,735.0 L265.4,711.6 L266.2,740.8 L266.9,766.5 L267.7,788.3 L268.5,771.4 L269.3,795.1 L270.1,707.6 L270.8,790.1 L271.6,761.0 L272.4,783.2 L273.2,784.6 L274.0,765.1 L274.7,782.4 L275.5,727.4 L276.3,725.7 L277.1,798.0 L277.9,804.7 L278.7,743.3 L279.4,755.9 L280.2,738.3 L281.0,791.8 L281.8,768.1 L282.6,805.8 L283.3,767.5 L284.1,781.7 L284.9,734.5 L285.7,728.1 L286.5,795.9 L287.2,770.7 L288.0,771.0 L288.8,739.6 L289.6,726.0 L290.4,775.1 L291.2,728.2 L291.9,728.7 L292.7,681.2 L293.5,763.7 L294.3,785.0 L295.1,767.9 L295.8,733.3 L296.6,711.8 L297.4,804.3 L298.2,793.1 L299.0,769.3 L299.7,789.3 L300.5,819.2 L301.3,733.7 L302.1,799.3 L302.9,771.4 L303.7,754.9 L304.4,772.6 L305.2,750.1 L306.0,744.7 L306.8,771.6 L307.6,809.7 L308.3,744.7 L309.1,748.9 L309.9,754.3 L310.7,764.8 L311.5,754.1 L312.2,784.3 L313.0,835.2 L313.8,792.3 L314.6,784.6 L315.4,780.3 L316.2,801.8 L316.9,847.1 L317.7,776.1 L318.5,782.9 L319.3,829.3 L320.1,789.7 L320.8,810.4 L321.6,771.0 L322.4,739.5 L323.2,782.0 L324.0,793.8 L324.7,801.6 L325.5,757.2 L326.3,755.7 L327.1,782.3 L327.9,807.1 L328.7,761.9 L329.4,767.8 L330.2,747.7 L331.0,778.7 L331.8,758.9 L332.6,777.7 L333.3,773.4 L334.1,754.3 L334.9,748.7 L335.7,742.7 L336.5,741.5 L337.2,801.6 L338.0,765.7 L338.8,753.5 L339.6,766.5 L340.4,771.3 L341.2,744.9 L341.9,745.4 L342.7,761.7 L343.5,796.6 L344.3,793.9 L345.1,772.5 L345.8,720.4 L346.6,765.9 L347.4,769.0 L348.2,787.9 L349.0,776.1 L349.7,792.1 L350.5,803.8 L351.3,791.3 L352.1,765.0 L352.9,727.1 L353.7,773.3 L354.4,798.3 L355.2,769.5 L356.0,755.4 L356.8,751.3 L357.6,786.6 L358.3,772.0 L359.1,803.2 L359.9,769.3 L360.7,724.3 L361.5,779.5 L362.2,741.9 L363.0,777.4 L363.8,759.6 L364.6,735.6 L365.4,749.2 L366.2,798.6 L366.9,754.0 L367.7,768.2 L368.5,770.9 L369.3,704.0 L370.1,718.1 L370.8,748.5 L371.6,733.8 L372.4,741.3 L373.2,764.1 L374.0,773.9 L374.7,754.4 L375.5,739.9 L376.3,709.5 L377.1,736.2 L377.9,740.2 L378.7,778.6 L379.4,737.7 L380.2,763.0 L381.0,770.8 L381.8,735.5 L382.6,806.7 L383.3,769.8 L384.1,795.0 L384.9,755.1 L385.7,795.2 L386.5,753.7 L387.3,756.5 L388.0,748.7 L388.8,788.0 L389.6,748.3 L390.4,768.8 L391.2,695.4 L391.9,753.6 L392.7,758.5 L393.5,791.7 L394.3,742.7 L395.1,751.6 L395.8,784.1 L396.6,791.2 L397.4,755.7 L398.2,768.6 L399.0,751.4 L399.8,780.3 L400.5,760.4 L401.3,792.1 L402.1,761.3 L402.9,743.9 L403.7,762.7 L404.4,783.2 L405.2,759.8 L406.0,775.7 L406.8,747.4 L407.6,758.2 L408.3,755.4 L409.1,797.7 L409.9,777.4 L410.7,790.7 L411.5,767.2 L412.3,764.6 L413.0,744.4 L413.8,775.5 L414.6,738.7 L415.4,770.7 L416.2,751.3 L416.9,746.1 L417.7,769.8 L418.5,773.6 L419.3,750.1 L420.1,712.7 L420.8,752.4 L421.6,729.5 L422.4,743.4 L423.2,762.0 L424.0,751.8 L424.8,744.4 L425.5,732.8 L426.3,733.1 L427.1,757.4 L427.9,738.3 L428.7,743.7 L429.4,785.5 L430.2,797.7 L431.0,787.7 L431.8,760.7 L432.6,804.3 L433.3,731.7 L434.1,741.2 L434.9,764.0 L435.7,771.2 L436.5,791.6 L437.3,762.9 L438.0,792.9 L438.8,770.1 L439.6,776.7 L440.4,765.6 L441.2,787.3 L441.9,754.3 L442.7,805.0 L443.5,778.3 L444.3,761.7 L445.1,751.1 L445.8,753.1 L446.6,739.9 L447.4,730.8 L448.2,745.7 L449.0,770.5 L449.8,757.7 L450.5,728.2 L451.3,748.7 L452.1,786.1 L452.9,770.2 L453.7,754.8 L454.4,735.0 L455.2,742.8 L456.0,736.8 L456.8,749.8 L457.6,796.4 L458.3,741.2 L459.1,775.2 L459.9,779.8 L460.7,794.3 L461.5,775.3 L462.3,752.5 L463.0,807.0 L463.8,777.9 L464.6,773.5 L465.4,783.3 L466.2,797.3 L466.9,773.9 L467.7,778.5 L468.5,765.8 L469.3,728.4 L470.1,756.2 L470.8,739.7 L471.6,758.0 L472.4,779.0 L473.2,755.3 L474.0,745.6 L474.8,737.1 L475.5,741.3 L476.3,740.3 L477.1,746.9 L477.9,762.4 L478.7,753.5 L479.4,769.5 L480.2,753.1 L481.0,791.5 L481.8,760.0 L482.6,753.3 L483.3,744.6 L484.1,742.5 L484.9,772.0 L485.7,782.7 L486.5,774.9 L487.3,770.1 L488.0,754.7 L488.8,762.2 L489.6,763.1 L490.4,781.3 L491.2,744.7 L491.9,766.7 L492.7,742.8 L493.5,767.7 L494.3,738.3 L495.1,746.7 L495.9,770.1 L496.6,777.2 L497.4,744.5 L498.2,738.1 L499.0,733.3 L499.8,762.8 L500.5,778.2 L501.3,774.6 L502.1,724.8 L502.9,771.3 L503.7,737.2 L504.4,743.9 L505.2,728.8 L506.0,747.6 L506.8,733.2 L507.6,775.2 L508.4,758.6 L509.1,778.8 L509.9,778.3 L510.7,749.0 L511.5,733.9 L512.3,731.1 L513.0,718.8 L513.8,753.4 L514.6,713.9 L515.4,733.8 L516.2,781.8 L516.9,753.3 L517.7,718.6 L518.5,779.0 L519.3,777.3 L520.1,786.1 L520.9,757.0 L521.6,785.3 L522.4,796.2 L523.2,798.7 L524.0,732.0 L524.8,743.8 L525.5,776.1 L526.3,766.2 L527.1,741.0 L527.9,790.1 L528.7,750.7 L529.4,745.0 L530.2,748.3 L531.0,744.0 L531.8,771.8 L532.6,758.6 L533.4,744.5 L534.1,764.3 L534.9,717.3 L535.7,766.1 L536.5,755.3 L537.3,730.0 L538.0,764.9 L538.8,763.6 L539.6,746.7 L540.4,781.1 L541.2,723.4 L541.9,732.4 L542.7,755.6 L543.5,764.0 L544.3,773.3 L545.1,729.1 L545.9,745.8 L546.6,741.3 L547.4,773.2 L548.2,786.5 L549.0,736.9 L549.8,762.2 L550.5,805.8 L551.3,762.3 L552.1,714.1 L552.9,743.1 L553.7,768.2 L554.4,759.2 L555.2,769.8 L556.0,757.8 L556.8,739.5 L557.6,753.5 L558.4,780.5 L559.1,720.6 L559.9,766.6 L560.7,770.3 L561.5,765.8 L562.3,735.3 L563.0,721.9 L563.8,759.5 L564.6,738.0 L565.4,759.4 L566.2,794.6 L566.9,788.5 L567.7,731.1 L568.5,724.8 L569.3,805.6 L570.1,783.2 L570.9,764.4 L571.6,745.8 L572.4,782.3 L573.2,787.6 L574.0,776.4 L574.8,809.3 L575.5,744.1 L576.3,751.5 L577.1,763.9 L577.9,744.6 L578.7,787.6 L579.4,794.2 L580.2,733.7 L581.0,755.3 L581.8,772.5 L582.6,718.8 L583.4,760.4 L584.1,744.3 L584.9,749.1 L585.7,736.5 L586.5,737.1 L587.3,743.5 L588.0,808.3 L588.8,741.7 L589.6,756.3 L590.4,734.2 L591.2,741.7 L591.9,770.4 L592.7,728.7 L593.5,778.7 L594.3,763.6 L595.1,761.8 L595.9,771.1 L596.6,752.4 L597.4,733.4 L598.2,781.2 L599.0,735.4 L599.8,761.7 L600.5,777.5 L601.3,762.1 L602.1,767.4 L602.9,768.8 L603.7,813.5 L604.5,761.2 L605.2,752.9 L606.0,767.6 L606.8,784.6 L607.6,742.5 L608.4,744.0 L609.1,770.1 L609.9,797.4 L610.7,776.2 L611.5,765.1 L612.3,760.0 L613.0,786.5 L613.8,768.7 L614.6,733.8 L615.4,779.6 L616.2,766.3 L617.0,716.1 L617.7,769.5 L618.5,800.5 L619.3,770.4 L620.1,752.6 L620.9,752.0 L621.6,770.8 L622.4,782.5 L623.2,746.5 L624.0,738.0 L624.8,784.6 L625.5,749.2 L626.3,782.1 L627.1,816.6 L627.9,761.4 L628.7,770.5 L629.5,728.5 L630.2,741.9 L631.0,755.8 L631.8,756.0 L632.6,754.5 L633.4,763.3 L634.1,716.5 L634.9,778.1 L635.7,751.7 L636.5,744.8 L637.3,738.0 L638.0,796.9 L638.8,756.3 L639.6,755.6 L640.4,753.2 L641.2,723.8 L642.0,729.9 L642.7,746.8 L643.5,749.1 L644.3,784.7 L645.1,741.4 L645.9,764.2 L646.6,791.2 L647.4,739.3 L648.2,732.3 L649.0,723.4 L649.8,734.8 L650.5,763.5 L651.3,780.0 L652.1,745.5 L652.9,731.4 L653.7,751.8 L654.5,777.7 L655.2,726.6 L656.0,744.3 L656.8,698.9 L657.6,757.5 L658.4,797.0 L659.1,769.1 L659.9,740.5 L660.7,741.8 L661.5,737.0 L662.3,774.8 L663.0,800.2 L663.8,804.4 L664.6,727.6 L665.4,738.3 L666.2,768.5 L667.0,761.9 L667.7,796.6 L668.5,787.0 L669.3,768.1 L670.1,760.4 L670.9,755.7 L671.6,762.9 L672.4,735.9 L673.2,757.3 L674.0,753.6 L674.8,758.7 L675.5,803.1 L676.3,775.6 L677.1,750.6 L677.9,773.9 L678.7,766.5 L679.5,762.9 L680.2,781.9 L681.0,764.5 L681.8,768.6 L682.6,754.9 L683.4,785.8 L684.1,788.4 L684.9,728.1 L685.7,733.6 L686.5,760.4 L687.3,774.2 L688.0,794.5 L688.8,782.7 L689.6,769.5 L690.4,770.7 L691.2,744.6 L692.0,737.9 L692.7,760.7 L693.5,774.8 L694.3,777.6 L695.1,764.0 L695.9,810.2 L696.6,787.0 L697.4,766.9 L698.2,807.0 L699.0,790.2 L699.8,823.6 L700.5,815.0 L701.3,760.5 L702.1,789.8 L702.9,790.5 L703.7,810.4 L704.5,807.0 L705.2,785.8 L706.0,769.7 L706.8,809.7 L707.6,802.4 L708.4,819.2 L709.1,758.1 L709.9,822.9 L710.7,785.3 L711.5,787.9 L712.3,753.3 L713.0,760.5 L713.8,759.0 L714.6,809.9 L715.4,793.8 L716.2,797.8 L717.0,750.8 L717.7,739.6 L718.5,749.4 L719.3,819.3 L720.1,737.7 L720.9,757.2 L721.6,767.5 L722.4,783.0 L723.2,743.8 L724.0,779.4 L724.8,761.3 L725.6,747.7 L726.3,782.6 L727.1,798.9 L727.9,818.3 L728.7,808.1 L729.5,747.5 L730.2,791.3 L731.0,769.1 L731.8,728.2 L732.6,782.4 L733.4,813.6 L734.1,799.9 L734.9,800.4 L735.7,787.7 L736.5,769.1 L737.3,739.5 L738.1,786.5 L738.8,776.4 L739.6,778.6 L740.4,808.2 L741.2,775.9 L742.0,777.7 L742.7,793.2 L743.5,768.0 L744.3,758.3 L745.1,747.7 L745.9,743.2 L746.6,725.7 L747.4,782.3 L748.2,720.8 L749.0,742.1 L749.8,745.2 L750.6,730.1 L751.3,737.5 L752.1,680.3 L752.9,677.9 L753.7,708.8 L754.5,683.6 L755.2,641.3 L756.0,720.6 L756.8,748.1 L757.6,727.6 L758.4,720.6 L759.1,755.9 L759.9,746.7 L760.7,732.4 L761.5,782.0 L762.3,750.8 L763.1,764.5 L763.8,748.4 L764.6,757.7 L765.4,767.0 L766.2,764.5 L767.0,718.9 L767.7,783.1 L768.5,774.9 L769.3,766.5 L770.1,762.0 L770.9,759.6 L771.6,738.4 L772.4,734.7 L773.2,761.8 L774.0,781.7 L774.8,721.7 L775.6,709.5 L776.3,786.7 L777.1,751.0 L777.9,728.5 L778.7,775.1 L779.5,754.3 L780.2,770.2 L781.0,752.8 L781.8,769.6 L782.6,793.4 L783.4,748.4 L784.1,819.0 L784.9,709.6 L785.7,803.4 L786.5,776.0 L787.3,765.6 L788.1,827.2 L788.8,748.3 L789.6,800.9 L790.4,729.2 L791.2,731.7 L792.0,759.2 L792.7,780.6 L793.5,749.4 L794.3,760.3 L795.1,725.1 L795.9,792.3 L796.6,766.8 L797.4,796.1 L798.2,826.6 L799.0,755.2 L799.8,773.3 L800.6,765.9 L801.3,785.2 L802.1,795.3 L802.9,790.4 L803.7,772.8 L804.5,747.7 L805.2,739.8 L806.0,798.5 L806.8,781.5 L807.6,766.7 L808.4,794.7 L809.1,807.6 L809.9,775.1 L810.7,751.2 L811.5,814.4 L812.3,770.2 L813.1,720.1 L813.8,748.7 L814.6,787.9 L815.4,773.8 L816.2,753.6 L817.0,782.9 L817.7,747.8 L818.5,779.7 L819.3,789.6 L820.1,789.7 L820.9,779.9 L821.6,763.1 L822.4,758.2 L823.2,780.6 L824.0,807.0 L824.8,739.5 L825.6,735.0 L826.3,736.1 L827.1,810.8 L827.9,784.8 L828.7,807.7 L829.5,785.5 L830.2,737.7 L831.0,758.4 L831.8,734.2 L832.6,724.7 L833.4,740.8 L834.2,719.0 L834.9,728.0 L835.7,701.4 L836.5,715.9 L837.3,726.9 L838.1,776.2 L838.8,761.4 L839.6,731.9 L840.4,756.3 L841.2,789.0 L842.0,773.3 L842.7,777.8 L843.5,763.8 L844.3,714.3 L845.1,725.2 L845.9,740.2 L846.7,760.2 L847.4,750.0 L848.2,788.1 L849.0,752.4 L849.8,713.1 L850.6,732.5 L851.3,717.1 L852.1,746.1 L852.9,721.7 L853.7,754.5 L854.5,742.6 L855.2,712.5 L856.0,766.2 L856.8,743.3 L857.6,743.5 L858.4,700.7 L859.2,687.3 L859.9,752.2 L860.7,795.4 L861.5,737.0 L862.3,760.2 L863.1,737.6 L863.8,745.2 L864.6,746.4 L865.4,726.7 L866.2,713.7 L867.0,756.1 L867.7,725.7 L868.5,714.8 L869.3,753.7 L870.1,757.1 L870.9,715.8 L871.7,744.9 L872.4,766.3 L873.2,736.0 L874.0,722.0 L874.8,722.0 L875.6,711.0 L876.3,711.7 L877.1,707.8 L877.9,714.9 L878.7,730.3 L879.5,741.7 L880.2,752.8 L881.0,728.1 L881.8,734.2 L882.6,764.0 L883.4,736.9 L884.2,747.2 L884.9,701.4 L885.7,727.6 L886.5,741.1 L887.3,702.8 L888.1,770.3 L888.8,711.3 L889.6,729.0 L890.4,739.1 L891.2,675.4 L892.0,703.6 L892.7,724.8 L893.5,691.4 L894.3,767.9 L895.1,760.2 L895.9,730.6 L896.7,751.7 L897.4,765.2 L898.2,738.5 L899.0,719.0 L899.8,731.5 L900.6,707.8 L901.3,726.8 L902.1,771.1 L902.9,759.8 L903.7,757.3 L904.5,711.6 L905.2,717.7 L906.0,715.4 L906.8,757.0 L907.6,729.9 L908.4,715.2 L909.2,694.6 L909.9,762.8 L910.7,708.4 L911.5,736.5 L912.3,757.9 L913.1,806.3 L913.8,729.2 L914.6,713.7 L915.4,721.2 L916.2,758.1 L917.0,741.6 L917.7,763.0 L918.5,752.6 L919.3,744.0 L920.1,740.8 L920.9,755.1 L921.7,806.6 L922.4,795.0 L923.2,822.0 L924.0,811.8 L924.8,772.5 L925.6,811.5 L926.3,759.2 L927.1,755.3 L927.9,758.1 L928.7,736.5 L929.5,771.4 L930.2,801.9 L931.0,799.2 L931.8,768.1 L932.6,794.0 L933.4,774.4 L934.2,810.6 L934.9,758.4 L935.7,771.4 L936.5,820.1 L937.3,805.6 L938.1,824.3 L938.8,824.9 L939.6,811.9 L940.4,795.8 L941.2,766.8 L942.0,771.4 L942.8,829.5 L943.5,821.9 L944.3,832.6 L945.1,814.5 L945.9,783.1 L946.7,764.7 L947.4,809.6 L948.2,800.8 L949.0,772.6 L949.8,745.2 L950.6,760.3 L951.3,762.8 L952.1,819.1 L952.9,780.0 L953.7,798.5 L954.5,778.2 L955.3,809.5 L956.0,794.0 L956.8,808.9 L957.6,842.1 L958.4,819.5 L959.2,758.1 L959.9,768.8 L960.7,750.1 L961.5,760.2 L962.3,800.0 L963.1,820.7 L963.8,802.0 L964.6,749.6 L965.4,749.3 L966.2,739.5 L967.0,770.3 L967.8,757.6 L968.5,741.3 L969.3,734.8 L970.1,727.0 L970.9,751.7 L971.7,742.9 L972.4,745.9 L973.2,743.5 L974.0,760.4 L974.8,743.1 L975.6,758.1 L976.3,732.7 L977.1,762.1 L977.9,769.6 L978.7,740.3 L979.5,784.4 L980.3,737.5 L981.0,755.8 L981.8,765.5 L982.6,745.3 L983.4,768.2 L984.2,754.0 L984.9,762.8 L985.7,751.3 L986.5,727.3 L987.3,765.3 L988.1,785.0 L988.8,740.3 L989.6,738.5 L990.4,751.0 L991.2,799.8 L992.0,772.6 L992.8,757.0 L993.5,755.1 L994.3,808.5 L995.1,803.0 L995.9,768.8 L996.7,818.2 L997.4,741.9 L998.2,780.2 L999.0,802.9 L999.8,758.4 L1000.6,773.9 L1001.3,781.0 L1002.1,763.3 L1002.9,781.4 L1003.7,751.2 L1004.5,741.3 L1005.3,735.7 L1006.0,761.3 L1006.8,781.9 L1007.6,721.5 L1008.4,802.0 L1009.2,772.5 L1009.9,741.1 L1010.7,745.0 L1011.5,733.5 L1012.3,757.3 L1013.1,760.8 L1013.8,731.5 L1014.6,711.1 L1015.4,735.0 L1016.2,769.7 L1017.0,756.3 L1017.8,742.9 L1018.5,744.5 L1019.3,737.8 L1020.1,770.6 L1020.9,759.4 L1021.7,749.4 L1022.4,767.0 L1023.2,740.6 L1024.0,776.6 L1024.8,713.1 L1025.6,778.8 L1026.3,753.5 L1027.1,747.5 L1027.9,796.8 L1028.7,771.2 L1029.5,758.1 L1030.3,746.6 L1031.0,777.4 L1031.8,768.5 L1032.6,754.7 L1033.4,782.5 L1034.2,760.4 L1034.9,749.2 L1035.7,763.7 L1036.5,817.2 L1037.3,775.3 L1038.1,754.6 L1038.8,743.5 L1039.6,777.7 L1040.4,778.6 L1041.2,760.7 L1042.0,752.0 L1042.8,796.1 L1043.5,811.9 L1044.3,776.5 L1045.1,820.9 L1045.9,772.8 L1046.7,794.6 L1047.4,810.2 L1048.2,768.6 L1049.0,769.5 L1049.8,785.2 L1050.6,769.5 L1051.3,797.1 L1052.1,792.6 L1052.9,774.9 L1053.7,755.4 L1054.5,767.3 L1055.3,762.5 L1056.0,826.2 L1056.8,829.4 L1057.6,761.3 L1058.4,747.2 L1059.2,788.7 L1059.9,775.4 L1060.7,752.2 L1061.5,760.9 L1062.3,764.9 L1063.1,762.0 L1063.9,753.0 L1064.6,764.6 L1065.4,767.4 L1066.2,782.1 L1067.0,764.3 L1067.8,779.3 L1068.5,828.2 L1069.3,767.0 L1070.1,723.8 L1070.9,745.3 L1071.7,797.4 L1072.4,780.4 L1073.2,795.8 L1074.0,782.1 L1074.8,784.0 L1075.6,782.5 L1076.4,794.3 L1077.1,743.4 L1077.9,748.0 L1078.7,799.7 L1079.5,756.5 L1080.3,786.7 L1081.0,813.9 L1081.8,757.2 L1082.6,810.6 L1083.4,800.2 L1084.2,767.4 L1084.9,801.3 L1085.7,801.3 L1086.5,774.4 L1087.3,754.6 L1088.1,780.1 L1088.9,751.4 L1089.6,761.5 L1090.4,802.5 L1091.2,765.1 L1092.0,749.1 L1092.8,781.9 L1093.5,755.9 L1094.3,755.4 L1095.1,796.6 L1095.9,782.1 L1096.7,778.1 L1097.4,811.8 L1098.2,777.1 L1099.0,776.1 L1099.8,775.7 L1100.6,750.5 L1101.4,767.3 L1102.1,783.8 L1102.9,770.3 L1103.7,818.1 L1104.5,804.7 L1105.3,786.4 L1106.0,783.9 L1106.8,796.7 L1107.6,814.9 L1108.4,777.1 L1109.2,824.5 L1109.9,786.9 L1110.7,801.4 L1111.5,822.8 L1112.3,773.6 L1113.1,777.9 L1113.9,774.2 L1114.6,775.6 L1115.4,783.9 L1116.2,784.3 L1117.0,773.3 L1117.8,748.9 L1118.5,761.8 L1119.3,749.8 L1120.1,776.3 L1120.9,785.5 L1121.7,761.2 L1122.4,757.7 L1123.2,790.4 L1124.0,790.8 L1124.8,745.0 L1125.6,762.4 L1126.4,743.5 L1127.1,780.2 L1127.9,757.1 L1128.7,764.5 L1129.5,745.0 L1130.3,786.6 L1131.0,785.9 L1131.8,745.3 L1132.6,796.0 L1133.4,827.0 L1134.2,815.2 L1134.9,768.8 L1135.7,827.1 L1136.5,809.5 L1137.3,789.4 L1138.1,781.9 L1138.9,788.2 L1139.6,789.4 L1140.4,800.8 L1141.2,788.8 L1142.0,825.9 L1142.8,800.3 L1143.5,826.4 L1144.3,810.5 L1145.1,769.7 L1145.9,765.7 L1146.7,809.7 L1147.4,813.6 L1148.2,782.6 L1149.0,768.7 L1149.8,789.3 L1150.6,788.5 L1151.4,772.8 L1152.1,779.7 L1152.9,791.2 L1153.7,801.6 L1154.5,747.1 L1155.3,807.4 L1156.0,773.3 L1156.8,792.5 L1157.6,740.6 L1158.4,774.7 L1159.2,762.2 L1159.9,786.7 L1160.7,785.5 L1161.5,761.3 L1162.3,714.4 L1163.1,748.7 L1163.9,785.3 L1164.6,768.0 L1165.4,821.0 L1166.2,784.0" stroke="#7c1a37"/>
</g>
<path d="M151.3,937.86h10 M151.3,890.72h10 M151.3,843.58h10 M151.3,796.44h10 M151.3,749.30h10 M151.3,702.16h10 M151.3,655.02h10 M151.3,607.88h10 M151.3,560.74h10 M1166.2,937.86h-10 M1166.2,890.72h-10 M1166.2,843.58h-10 M1166.2,796.44h-10 M1166.2,749.30h-10 M1166.2,702.16h-10 M1166.2,655.02h-10 M1166.2,607.88h-10 M1166.2,560.74h-10 M354.28,985.0v-10 M354.28,513.6v10 M557.26,985.0v-10 M557.26,513.6v10 M760.24,985.0v-10 M760.24,513.6v10 M963.22,985.0v-10 M963.22,513.6v10" stroke="#8a8a8a" stroke-width="1.6" fill="none"/>
<rect x="151.3" y="513.6" width="1014.90" height="471.40" fill="none" stroke="#707070" stroke-width="2.2"/>
<text x="78.26" y="948.48" font-family='"Liberation Sans",sans-serif' font-size="30" fill="#5e5e5e" textLength="64.23" lengthAdjust="spacingAndGlyphs">0.25</text>
<text x="78.16" y="901.34" font-family='"Liberation Sans",sans-serif' font-size="30" fill="#5e5e5e" textLength="64.23" lengthAdjust="spacingAndGlyphs">0.50</text>
<text x="78.26" y="854.20" font-family='"Liberation Sans",sans-serif' font-size="30" fill="#5e5e5e" textLength="64.23" lengthAdjust="spacingAndGlyphs">0.75</text>
<text x="78.16" y="807.06" font-family='"Liberation Sans",sans-serif' font-size="30" fill="#5e5e5e" textLength="64.23" lengthAdjust="spacingAndGlyphs">1.00</text>
<text x="78.26" y="759.92" font-family='"Liberation Sans",sans-serif' font-size="30" fill="#5e5e5e" textLength="64.23" lengthAdjust="spacingAndGlyphs">1.25</text>
<text x="78.16" y="712.78" font-family='"Liberation Sans",sans-serif' font-size="30" fill="#5e5e5e" textLength="64.23" lengthAdjust="spacingAndGlyphs">1.50</text>
<text x="78.26" y="665.64" font-family='"Liberation Sans",sans-serif' font-size="30" fill="#5e5e5e" textLength="64.23" lengthAdjust="spacingAndGlyphs">1.75</text>
<text x="78.16" y="618.50" font-family='"Liberation Sans",sans-serif' font-size="30" fill="#5e5e5e" textLength="64.23" lengthAdjust="spacingAndGlyphs">2.00</text>
<text x="78.26" y="571.36" font-family='"Liberation Sans",sans-serif' font-size="30" fill="#5e5e5e" textLength="64.23" lengthAdjust="spacingAndGlyphs">2.25</text>
<text x="78.16" y="524.22" font-family='"Liberation Sans",sans-serif' font-size="30" fill="#5e5e5e" textLength="64.23" lengthAdjust="spacingAndGlyphs">2.50</text>
<text x="1173.91" y="948.48" font-family='"Liberation Sans",sans-serif' font-size="30" fill="#7a1533" textLength="45.87" lengthAdjust="spacingAndGlyphs">0.6</text>
<text x="1172.69" y="901.34" font-family='"Liberation Sans",sans-serif' font-size="30" fill="#7a1533" textLength="45.87" lengthAdjust="spacingAndGlyphs">1.2</text>
<text x="1172.69" y="854.20" font-family='"Liberation Sans",sans-serif' font-size="30" fill="#7a1533" textLength="45.87" lengthAdjust="spacingAndGlyphs">1.8</text>
<text x="1173.54" y="807.06" font-family='"Liberation Sans",sans-serif' font-size="30" fill="#7a1533" textLength="45.87" lengthAdjust="spacingAndGlyphs">2.4</text>
<text x="1173.94" y="759.92" font-family='"Liberation Sans",sans-serif' font-size="30" fill="#7a1533" textLength="45.87" lengthAdjust="spacingAndGlyphs">3.0</text>
<text x="1173.94" y="712.78" font-family='"Liberation Sans",sans-serif' font-size="30" fill="#7a1533" textLength="45.87" lengthAdjust="spacingAndGlyphs">3.6</text>
<text x="1174.44" y="665.64" font-family='"Liberation Sans",sans-serif' font-size="30" fill="#7a1533" textLength="45.87" lengthAdjust="spacingAndGlyphs">4.2</text>
<text x="1174.44" y="618.50" font-family='"Liberation Sans",sans-serif' font-size="30" fill="#7a1533" textLength="45.87" lengthAdjust="spacingAndGlyphs">4.8</text>
<text x="1173.88" y="571.36" font-family='"Liberation Sans",sans-serif' font-size="30" fill="#7a1533" textLength="45.87" lengthAdjust="spacingAndGlyphs">5.4</text>
<text x="1074.65" y="564.50" font-family='"Liberation Sans",sans-serif' font-size="45" font-weight="bold" fill="#000000" textLength="60.20" lengthAdjust="spacingAndGlyphs">(b)</text>
<clipPath id="clipc"><rect x="150.3" y="1006.9" width="1016.0" height="517.6999999999999"/></clipPath>
<g clip-path="url(#clipc)" fill="none" stroke-width="2.5" stroke-linejoin="round">
<path d="M150.3,1340.0 L151.1,1334.2 L151.9,1314.8 L152.6,1313.1 L153.4,1293.8 L154.2,1298.3 L155.0,1296.5 L155.8,1309.2 L156.6,1304.9 L157.3,1298.7 L158.1,1312.3 L158.9,1302.9 L159.7,1281.6 L160.5,1314.2 L161.2,1311.3 L162.0,1296.6 L162.8,1304.7 L163.6,1317.7 L164.4,1276.1 L165.2,1289.9 L165.9,1316.5 L166.7,1282.2 L167.5,1282.5 L168.3,1268.4 L169.1,1306.3 L169.9,1285.3 L170.6,1294.5 L171.4,1287.8 L172.2,1283.4 L173.0,1270.8 L173.8,1289.4 L174.5,1260.7 L175.3,1280.2 L176.1,1294.7 L176.9,1286.8 L177.7,1303.4 L178.5,1306.4 L179.2,1295.0 L180.0,1298.2 L180.8,1257.8 L181.6,1280.1 L182.4,1294.2 L183.1,1323.0 L183.9,1336.1 L184.7,1276.3 L185.5,1316.9 L186.3,1291.1 L187.1,1286.8 L187.8,1290.1 L188.6,1315.1 L189.4,1294.6 L190.2,1315.4 L191.0,1299.3 L191.8,1282.8 L192.5,1336.4 L193.3,1309.7 L194.1,1301.5 L194.9,1312.5 L195.7,1298.9 L196.4,1302.7 L197.2,1305.9 L198.0,1311.2 L198.8,1274.8 L199.6,1299.4 L200.4,1282.1 L201.1,1279.2 L201.9,1298.1 L202.7,1302.6 L203.5,1288.0 L204.3,1252.6 L205.0,1249.2 L205.8,1255.7 L206.6,1310.5 L207.4,1293.1 L208.2,1307.4 L209.0,1261.3 L209.7,1251.1 L210.5,1291.1 L211.3,1274.9 L212.1,1266.2 L212.9,1307.8 L213.7,1317.4 L214.4,1281.4 L215.2,1307.3 L216.0,1278.7 L216.8,1277.9 L217.6,1289.3 L218.3,1287.7 L219.1,1258.6 L219.9,1280.8 L220.7,1287.7 L221.5,1276.3 L222.3,1287.4 L223.0,1264.6 L223.8,1291.1 L224.6,1307.1 L225.4,1307.7 L226.2,1289.9 L226.9,1305.4 L227.7,1307.7 L228.5,1298.5 L229.3,1275.3 L230.1,1294.4 L230.9,1246.3 L231.6,1287.4 L232.4,1307.6 L233.2,1263.0 L234.0,1289.6 L234.8,1302.0 L235.6,1273.6 L236.3,1236.0 L237.1,1258.8 L237.9,1301.3 L238.7,1335.9 L239.5,1261.7 L240.2,1303.6 L241.0,1285.6 L241.8,1306.7 L242.6,1296.9 L243.4,1295.5 L244.2,1245.1 L244.9,1282.6 L245.7,1266.3 L246.5,1276.3 L247.3,1313.6 L248.1,1317.5 L248.8,1319.2 L249.6,1299.0 L250.4,1272.7 L251.2,1294.9 L252.0,1273.6 L252.8,1260.8 L253.5,1239.1 L254.3,1263.1 L255.1,1267.8 L255.9,1319.0 L256.7,1295.0 L257.5,1283.9 L258.2,1241.3 L259.0,1250.8 L259.8,1290.7 L260.6,1287.6 L261.4,1261.4 L262.1,1257.4 L262.9,1258.0 L263.7,1249.6 L264.5,1269.7 L265.3,1247.2 L266.1,1252.4 L266.8,1263.9 L267.6,1244.8 L268.4,1253.3 L269.2,1264.8 L270.0,1226.8 L270.7,1243.2 L271.5,1287.9 L272.3,1312.3 L273.1,1285.7 L273.9,1246.7 L274.7,1271.6 L275.4,1264.9 L276.2,1265.6 L277.0,1251.1 L277.8,1233.7 L278.6,1258.3 L279.4,1248.0 L280.1,1222.1 L280.9,1239.2 L281.7,1242.3 L282.5,1208.2 L283.3,1246.8 L284.0,1232.8 L284.8,1228.0 L285.6,1256.5 L286.4,1232.2 L287.2,1238.7 L288.0,1233.7 L288.7,1265.6 L289.5,1271.4 L290.3,1259.5 L291.1,1223.7 L291.9,1265.2 L292.6,1245.4 L293.4,1261.1 L294.2,1279.6 L295.0,1249.8 L295.8,1246.8 L296.6,1230.0 L297.3,1222.3 L298.1,1234.6 L298.9,1200.9 L299.7,1265.2 L300.5,1247.6 L301.3,1226.3 L302.0,1249.7 L302.8,1249.1 L303.6,1227.9 L304.4,1241.5 L305.2,1220.8 L305.9,1185.1 L306.7,1229.2 L307.5,1250.1 L308.3,1236.1 L309.1,1256.4 L309.9,1213.1 L310.6,1253.6 L311.4,1263.7 L312.2,1258.1 L313.0,1252.3 L313.8,1236.4 L314.5,1232.0 L315.3,1237.6 L316.1,1190.5 L316.9,1228.1 L317.7,1251.3 L318.5,1221.6 L319.2,1194.4 L320.0,1236.0 L320.8,1208.4 L321.6,1248.9 L322.4,1249.4 L323.2,1228.9 L323.9,1230.0 L324.7,1234.4 L325.5,1220.4 L326.3,1218.4 L327.1,1232.3 L327.8,1230.7 L328.6,1253.3 L329.4,1273.6 L330.2,1240.0 L331.0,1249.4 L331.8,1270.7 L332.5,1257.9 L333.3,1237.7 L334.1,1293.9 L334.9,1222.3 L335.7,1234.9 L336.4,1235.3 L337.2,1239.4 L338.0,1204.0 L338.8,1204.8 L339.6,1238.2 L340.4,1212.3 L341.1,1259.4 L341.9,1244.8 L342.7,1229.1 L343.5,1275.8 L344.3,1239.5 L345.1,1287.9 L345.8,1335.2 L346.6,1284.0 L347.4,1290.1 L348.2,1296.3 L349.0,1313.3 L349.7,1283.9 L350.5,1268.2 L351.3,1260.4 L352.1,1292.3 L352.9,1254.4 L353.7,1282.2 L354.4,1255.9 L355.2,1290.6 L356.0,1247.1 L356.8,1252.1 L357.6,1246.8 L358.3,1275.7 L359.1,1257.4 L359.9,1243.8 L360.7,1246.8 L361.5,1274.1 L362.3,1243.6 L363.0,1277.7 L363.8,1291.4 L364.6,1257.1 L365.4,1267.5 L366.2,1271.6 L367.0,1264.8 L367.7,1246.8 L368.5,1285.7 L369.3,1258.1 L370.1,1260.7 L370.9,1242.5 L371.6,1285.6 L372.4,1312.3 L373.2,1278.6 L374.0,1288.8 L374.8,1245.2 L375.6,1298.3 L376.3,1307.9 L377.1,1255.9 L377.9,1233.3 L378.7,1235.4 L379.5,1250.6 L380.2,1233.7 L381.0,1251.5 L381.8,1257.6 L382.6,1225.7 L383.4,1205.2 L384.2,1258.9 L384.9,1248.9 L385.7,1285.3 L386.5,1263.6 L387.3,1257.8 L388.1,1251.8 L388.9,1284.6 L389.6,1299.8 L390.4,1278.5 L391.2,1239.2 L392.0,1251.5 L392.8,1259.8 L393.5,1248.7 L394.3,1278.7 L395.1,1253.1 L395.9,1280.8 L396.7,1263.0 L397.5,1276.9 L398.2,1271.8 L399.0,1278.1 L399.8,1263.4 L400.6,1253.3 L401.4,1290.5 L402.1,1287.6 L402.9,1273.7 L403.7,1255.3 L404.5,1238.8 L405.3,1233.8 L406.1,1293.6 L406.8,1282.5 L407.6,1263.1 L408.4,1235.5 L409.2,1232.8 L410.0,1273.7 L410.8,1290.1 L411.5,1224.5 L412.3,1266.7 L413.1,1250.6 L413.9,1241.0 L414.7,1275.4 L415.4,1263.0 L416.2,1227.9 L417.0,1245.4 L417.8,1247.6 L418.6,1248.1 L419.4,1213.3 L420.1,1250.5 L420.9,1244.0 L421.7,1265.0 L422.5,1223.5 L423.3,1270.2 L424.0,1195.2 L424.8,1242.6 L425.6,1259.5 L426.4,1238.6 L427.2,1262.1 L428.0,1275.2 L428.7,1260.5 L429.5,1231.7 L430.3,1223.3 L431.1,1239.7 L431.9,1288.8 L432.7,1286.6 L433.4,1287.8 L434.2,1264.0 L435.0,1279.2 L435.8,1233.9 L436.6,1221.2 L437.3,1261.2 L438.1,1220.5 L438.9,1252.9 L439.7,1269.8 L440.5,1249.5 L441.3,1209.2 L442.0,1207.6 L442.8,1227.1 L443.6,1203.9 L444.4,1232.9 L445.2,1206.7 L445.9,1187.7 L446.7,1152.1 L447.5,1233.6 L448.3,1228.4 L449.1,1219.4 L449.9,1254.1 L450.6,1238.3 L451.4,1178.4 L452.2,1228.1 L453.0,1225.7 L453.8,1209.0 L454.6,1193.5 L455.3,1253.5 L456.1,1182.8 L456.9,1178.7 L457.7,1227.1 L458.5,1202.9 L459.2,1204.2 L460.0,1153.6 L460.8,1225.0 L461.6,1206.7 L462.4,1199.9 L463.2,1238.7 L463.9,1227.6 L464.7,1229.3 L465.5,1222.9 L466.3,1220.6 L467.1,1185.2 L467.8,1243.5 L468.6,1229.7 L469.4,1228.0 L470.2,1220.6 L471.0,1216.3 L471.8,1185.8 L472.5,1200.9 L473.3,1205.0 L474.1,1262.1 L474.9,1176.9 L475.7,1175.6 L476.5,1172.1 L477.2,1207.2 L478.0,1182.1 L478.8,1199.0 L479.6,1211.4 L480.4,1197.8 L481.1,1241.6 L481.9,1228.0 L482.7,1243.1 L483.5,1215.1 L484.3,1224.4 L485.1,1176.8 L485.8,1184.7 L486.6,1199.6 L487.4,1195.0 L488.2,1214.1 L489.0,1194.1 L489.7,1205.1 L490.5,1156.4 L491.3,1183.5 L492.1,1211.5 L492.9,1179.3 L493.7,1169.0 L494.4,1187.9 L495.2,1180.9 L496.0,1160.4 L496.8,1200.6 L497.6,1203.8 L498.4,1198.9 L499.1,1199.0 L499.9,1152.7 L500.7,1179.9 L501.5,1196.2 L502.3,1239.9 L503.0,1170.6 L503.8,1210.2 L504.6,1199.4 L505.4,1228.6 L506.2,1189.9 L507.0,1186.5 L507.7,1120.2 L508.5,1153.9 L509.3,1154.9 L510.1,1126.9 L510.9,1126.5 L511.6,1144.0 L512.4,1143.9 L513.2,1166.5 L514.0,1209.3 L514.8,1186.0 L515.6,1203.7 L516.3,1214.7 L517.1,1224.7 L517.9,1220.8 L518.7,1185.3 L519.5,1216.5 L520.3,1195.4 L521.0,1209.2 L521.8,1198.6 L522.6,1160.3 L523.4,1148.5 L524.2,1174.0 L524.9,1157.0 L525.7,1198.4 L526.5,1176.1 L527.3,1133.5 L528.1,1087.9 L528.9,1166.5 L529.6,1219.9 L530.4,1180.2 L531.2,1218.3 L532.0,1195.3 L532.8,1182.3 L533.5,1192.8 L534.3,1191.2 L535.1,1173.8 L535.9,1166.0 L536.7,1170.9 L537.5,1235.8 L538.2,1197.4 L539.0,1172.6 L539.8,1148.9 L540.6,1158.9 L541.4,1172.2 L542.2,1180.8 L542.9,1178.5 L543.7,1137.3 L544.5,1119.3 L545.3,1147.5 L546.1,1155.7 L546.8,1137.2 L547.6,1177.1 L548.4,1162.6 L549.2,1171.9 L550.0,1200.1 L550.8,1198.9 L551.5,1197.8 L552.3,1182.2 L553.1,1212.3 L553.9,1180.4 L554.7,1215.6 L555.4,1243.2 L556.2,1232.9 L557.0,1252.4 L557.8,1238.2 L558.6,1212.1 L559.4,1244.3 L560.1,1225.7 L560.9,1182.1 L561.7,1172.0 L562.5,1205.2 L563.3,1209.6 L564.1,1198.3 L564.8,1160.9 L565.6,1182.0 L566.4,1196.4 L567.2,1191.8 L568.0,1129.0 L568.7,1168.4 L569.5,1207.9 L570.3,1188.8 L571.1,1158.6 L571.9,1080.0 L572.7,1127.9 L573.4,1158.6 L574.2,1143.6 L575.0,1155.0 L575.8,1141.4 L576.6,1127.7 L577.3,1112.9 L578.1,1144.9 L578.9,1129.5 L579.7,1151.3 L580.5,1176.1 L581.3,1123.3 L582.0,1136.7 L582.8,1115.4 L583.6,1182.9 L584.4,1133.7 L585.2,1147.2 L586.0,1157.6 L586.7,1156.5 L587.5,1186.1 L588.3,1185.6 L589.1,1192.9 L589.9,1174.5 L590.6,1171.0 L591.4,1197.5 L592.2,1206.4 L593.0,1176.0 L593.8,1227.6 L594.6,1229.5 L595.3,1235.9 L596.1,1242.2 L596.9,1224.5 L597.7,1260.2 L598.5,1218.7 L599.2,1237.6 L600.0,1233.0 L600.8,1185.0 L601.6,1194.5 L602.4,1194.4 L603.2,1214.1 L603.9,1172.9 L604.7,1168.7 L605.5,1173.9 L606.3,1186.3 L607.1,1200.4 L607.9,1199.1 L608.6,1210.2 L609.4,1187.5 L610.2,1205.3 L611.0,1179.4 L611.8,1170.6 L612.5,1174.0 L613.3,1174.5 L614.1,1194.3 L614.9,1154.4 L615.7,1190.6 L616.5,1181.8 L617.2,1157.5 L618.0,1175.3 L618.8,1186.8 L619.6,1141.5 L620.4,1183.0 L621.1,1180.6 L621.9,1158.3 L622.7,1136.5 L623.5,1125.2 L624.3,1103.8 L625.1,1086.0 L625.8,1143.2 L626.6,1140.2 L627.4,1127.2 L628.2,1138.7 L629.0,1142.0 L629.8,1159.0 L630.5,1170.8 L631.3,1147.5 L632.1,1162.4 L632.9,1152.7 L633.7,1164.7 L634.4,1098.9 L635.2,1168.8 L636.0,1124.2 L636.8,1170.4 L637.6,1158.8 L638.4,1156.9 L639.1,1166.0 L639.9,1158.0 L640.7,1149.6 L641.5,1153.7 L642.3,1185.0 L643.0,1182.5 L643.8,1165.8 L644.6,1198.8 L645.4,1194.5 L646.2,1213.7 L647.0,1240.3 L647.7,1197.1 L648.5,1216.6 L649.3,1224.2 L650.1,1229.1 L650.9,1190.2 L651.7,1199.4 L652.4,1219.8 L653.2,1229.6 L654.0,1235.9 L654.8,1227.3 L655.6,1227.5 L656.3,1236.6 L657.1,1231.8 L657.9,1234.1 L658.7,1226.4 L659.5,1220.1 L660.3,1243.8 L661.0,1215.1 L661.8,1210.5 L662.6,1213.6 L663.4,1194.0 L664.2,1208.2 L664.9,1235.5 L665.7,1215.8 L666.5,1204.5 L667.3,1226.0 L668.1,1175.4 L668.9,1218.2 L669.6,1181.6 L670.4,1223.9 L671.2,1205.6 L672.0,1226.9 L672.8,1198.7 L673.6,1185.7 L674.3,1175.3 L675.1,1244.0 L675.9,1217.2 L676.7,1224.8 L677.5,1190.8 L678.2,1196.1 L679.0,1180.5 L679.8,1189.7 L680.6,1146.5 L681.4,1215.4 L682.2,1219.7 L682.9,1169.9 L683.7,1184.8 L684.5,1175.1 L685.3,1162.3 L686.1,1182.9 L686.8,1152.0 L687.6,1164.1 L688.4,1170.6 L689.2,1198.4 L690.0,1200.6 L690.8,1193.4 L691.5,1167.2 L692.3,1169.7 L693.1,1150.4 L693.9,1162.8 L694.7,1198.1 L695.5,1146.3 L696.2,1166.0 L697.0,1174.5 L697.8,1176.7 L698.6,1182.9 L699.4,1187.1 L700.1,1184.3 L700.9,1177.3 L701.7,1181.1 L702.5,1168.1 L703.3,1192.5 L704.1,1148.8 L704.8,1190.7 L705.6,1164.4 L706.4,1183.4 L707.2,1176.4 L708.0,1185.5 L708.7,1177.9 L709.5,1169.0 L710.3,1160.6 L711.1,1143.1 L711.9,1203.1 L712.7,1155.3 L713.4,1189.4 L714.2,1221.6 L715.0,1152.3 L715.8,1159.9 L716.6,1160.7 L717.4,1144.1 L718.1,1193.2 L718.9,1212.7 L719.7,1193.4 L720.5,1143.0 L721.3,1172.6 L722.0,1168.9 L722.8,1145.6 L723.6,1118.2 L724.4,1161.2 L725.2,1126.7 L726.0,1125.0 L726.7,1162.4 L727.5,1147.2 L728.3,1177.0 L729.1,1134.1 L729.9,1157.0 L730.6,1124.4 L731.4,1203.2 L732.2,1196.2 L733.0,1193.0 L733.8,1171.7 L734.6,1183.0 L735.3,1178.1 L736.1,1170.9 L736.9,1136.2 L737.7,1178.4 L738.5,1182.6 L739.3,1192.4 L740.0,1193.7 L740.8,1126.0 L741.6,1170.2 L742.4,1166.4 L743.2,1144.1 L743.9,1145.1 L744.7,1156.9 L745.5,1153.9 L746.3,1159.6 L747.1,1202.2 L747.9,1205.2 L748.6,1183.4 L749.4,1181.1 L750.2,1228.7 L751.0,1155.5 L751.8,1157.6 L752.5,1160.7 L753.3,1158.9 L754.1,1193.8 L754.9,1182.7 L755.7,1195.2 L756.5,1136.7 L757.2,1168.7 L758.0,1168.4 L758.8,1150.7 L759.6,1160.9 L760.4,1156.3 L761.2,1200.7 L761.9,1150.6 L762.7,1153.4 L763.5,1109.1 L764.3,1149.6 L765.1,1129.6 L765.8,1150.8 L766.6,1142.4 L767.4,1206.1 L768.2,1180.1 L769.0,1156.1 L769.8,1153.3 L770.5,1225.2 L771.3,1167.2 L772.1,1140.3 L772.9,1159.6 L773.7,1208.9 L774.4,1183.7 L775.2,1188.1 L776.0,1213.1 L776.8,1195.1 L777.6,1201.2 L778.4,1192.6 L779.1,1155.4 L779.9,1172.5 L780.7,1178.5 L781.5,1193.1 L782.3,1213.6 L783.1,1145.6 L783.8,1168.3 L784.6,1188.4 L785.4,1210.5 L786.2,1183.8 L787.0,1207.6 L787.7,1200.0 L788.5,1191.8 L789.3,1173.3 L790.1,1200.2 L790.9,1186.0 L791.7,1180.3 L792.4,1194.9 L793.2,1155.5 L794.0,1144.0 L794.8,1179.3 L795.6,1215.8 L796.3,1168.8 L797.1,1160.7 L797.9,1181.5 L798.7,1226.5 L799.5,1172.1 L800.3,1148.6 L801.0,1196.1 L801.8,1176.1 L802.6,1169.1 L803.4,1171.6 L804.2,1186.4 L805.0,1162.2 L805.7,1199.8 L806.5,1192.0 L807.3,1168.3 L808.1,1204.0 L808.9,1168.5 L809.6,1149.2 L810.4,1142.3 L811.2,1214.1 L812.0,1258.7 L812.8,1164.7 L813.6,1171.4 L814.3,1194.1 L815.1,1191.4 L815.9,1231.0 L816.7,1163.5 L817.5,1156.5 L818.2,1177.4 L819.0,1169.3 L819.8,1188.4 L820.6,1205.9 L821.4,1182.7 L822.2,1168.3 L822.9,1203.8 L823.7,1150.9 L824.5,1180.2 L825.3,1181.3 L826.1,1193.7 L826.9,1168.3 L827.6,1172.4 L828.4,1149.0 L829.2,1205.3 L830.0,1162.6 L830.8,1171.0 L831.5,1183.8 L832.3,1201.4 L833.1,1189.3 L833.9,1160.0 L834.7,1209.5 L835.5,1187.7 L836.2,1149.2 L837.0,1176.3 L837.8,1186.4 L838.6,1171.0 L839.4,1188.3 L840.1,1203.3 L840.9,1171.9 L841.7,1166.7 L842.5,1138.8 L843.3,1168.4 L844.1,1184.8 L844.8,1154.9 L845.6,1198.3 L846.4,1146.8 L847.2,1190.5 L848.0,1155.5 L848.8,1182.6 L849.5,1113.0 L850.3,1112.3 L851.1,1177.3 L851.9,1190.2 L852.7,1196.2 L853.4,1081.1 L854.2,1148.4 L855.0,1203.2 L855.8,1178.5 L856.6,1172.1 L857.4,1159.2 L858.1,1164.7 L858.9,1180.9 L859.7,1212.2 L860.5,1185.5 L861.3,1153.4 L862.0,1164.9 L862.8,1178.2 L863.6,1202.0 L864.4,1175.2 L865.2,1237.0 L866.0,1240.1 L866.7,1193.5 L867.5,1200.5 L868.3,1149.4 L869.1,1162.9 L869.9,1149.9 L870.7,1177.2 L871.4,1173.9 L872.2,1161.3 L873.0,1184.5 L873.8,1195.0 L874.6,1211.4 L875.3,1197.6 L876.1,1175.3 L876.9,1230.5 L877.7,1156.0 L878.5,1175.8 L879.3,1196.4 L880.0,1172.3 L880.8,1165.8 L881.6,1191.1 L882.4,1170.5 L883.2,1218.5 L883.9,1233.4 L884.7,1212.2 L885.5,1206.9 L886.3,1237.9 L887.1,1216.5 L887.9,1178.0 L888.6,1201.1 L889.4,1183.7 L890.2,1218.6 L891.0,1196.0 L891.8,1213.1 L892.6,1221.7 L893.3,1227.1 L894.1,1226.5 L894.9,1232.0 L895.7,1274.7 L896.5,1214.4 L897.2,1237.0 L898.0,1214.2 L898.8,1243.6 L899.6,1233.7 L900.4,1246.8 L901.2,1220.5 L901.9,1246.8 L902.7,1263.1 L903.5,1231.0 L904.3,1238.1 L905.1,1273.0 L905.8,1255.7 L906.6,1282.3 L907.4,1216.7 L908.2,1224.4 L909.0,1255.1 L909.8,1223.0 L910.5,1236.2 L911.3,1254.7 L912.1,1212.4 L912.9,1236.3 L913.7,1228.2 L914.5,1260.4 L915.2,1240.2 L916.0,1249.2 L916.8,1239.9 L917.6,1243.6 L918.4,1211.9 L919.1,1225.2 L919.9,1263.4 L920.7,1237.9 L921.5,1277.5 L922.3,1248.5 L923.1,1231.0 L923.8,1266.8 L924.6,1208.3 L925.4,1281.2 L926.2,1287.7 L927.0,1242.8 L927.7,1255.9 L928.5,1206.1 L929.3,1257.2 L930.1,1233.2 L930.9,1267.0 L931.7,1205.7 L932.4,1228.6 L933.2,1239.9 L934.0,1231.4 L934.8,1232.6 L935.6,1248.2 L936.4,1221.2 L937.1,1236.6 L937.9,1217.4 L938.7,1203.1 L939.5,1220.3 L940.3,1281.7 L941.0,1239.3 L941.8,1231.9 L942.6,1218.5 L943.4,1247.7 L944.2,1253.7 L945.0,1242.0 L945.7,1197.1 L946.5,1216.8 L947.3,1228.2 L948.1,1231.5 L948.9,1288.4 L949.6,1259.3 L950.4,1231.0 L951.2,1236.9 L952.0,1277.5 L952.8,1228.2 L953.6,1290.9 L954.3,1283.7 L955.1,1260.9 L955.9,1250.7 L956.7,1266.2 L957.5,1275.7 L958.3,1270.4 L959.0,1268.5 L959.8,1236.8 L960.6,1251.8 L961.4,1218.7 L962.2,1251.0 L962.9,1259.8 L963.7,1259.7 L964.5,1250.1 L965.3,1268.5 L966.1,1255.4 L966.9,1260.1 L967.6,1267.9 L968.4,1259.2 L969.2,1251.0 L970.0,1244.9 L970.8,1200.7 L971.5,1228.0 L972.3,1244.3 L973.1,1249.9 L973.9,1283.0 L974.7,1257.7 L975.5,1290.5 L976.2,1274.0 L977.0,1254.0 L977.8,1303.3 L978.6,1289.3 L979.4,1275.6 L980.2,1270.1 L980.9,1264.4 L981.7,1293.6 L982.5,1234.9 L983.3,1273.1 L984.1,1225.5 L984.8,1269.9 L985.6,1269.3 L986.4,1253.4 L987.2,1244.0 L988.0,1264.4 L988.8,1262.3 L989.5,1267.8 L990.3,1251.1 L991.1,1261.0 L991.9,1297.2 L992.7,1241.2 L993.4,1248.3 L994.2,1268.6 L995.0,1272.1 L995.8,1275.1 L996.6,1259.0 L997.4,1258.1 L998.1,1270.9 L998.9,1233.9 L999.7,1272.7 L1000.5,1307.4 L1001.3,1249.4 L1002.1,1248.5 L1002.8,1234.3 L1003.6,1229.7 L1004.4,1282.2 L1005.2,1272.4 L1006.0,1303.5 L1006.7,1308.5 L1007.5,1284.9 L1008.3,1264.5 L1009.1,1268.3 L1009.9,1279.6 L1010.7,1252.3 L1011.4,1274.4 L1012.2,1254.5 L1013.0,1261.5 L1013.8,1266.5 L1014.6,1232.4 L1015.3,1275.5 L1016.1,1254.5 L1016.9,1246.0 L1017.7,1251.8 L1018.5,1250.0 L1019.3,1276.1 L1020.0,1273.0 L1020.8,1255.0 L1021.6,1259.5 L1022.4,1231.3 L1023.2,1233.9 L1024.0,1264.6 L1024.7,1232.8 L1025.5,1256.8 L1026.3,1247.0 L1027.1,1231.1 L1027.9,1230.8 L1028.6,1242.4 L1029.4,1275.5 L1030.2,1257.5 L1031.0,1256.7 L1031.8,1237.0 L1032.6,1261.8 L1033.3,1257.2 L1034.1,1239.6 L1034.9,1268.9 L1035.7,1219.0 L1036.5,1252.4 L1037.2,1221.3 L1038.0,1300.4 L1038.8,1264.4 L1039.6,1271.1 L1040.4,1267.6 L1041.2,1229.5 L1041.9,1251.6 L1042.7,1241.0 L1043.5,1252.1 L1044.3,1212.8 L1045.1,1264.7 L1045.9,1276.7 L1046.6,1258.5 L1047.4,1264.6 L1048.2,1260.4 L1049.0,1225.3 L1049.8,1256.8 L1050.5,1242.5 L1051.3,1292.7 L1052.1,1230.7 L1052.9,1255.0 L1053.7,1251.6 L1054.5,1251.3 L1055.2,1227.6 L1056.0,1222.4 L1056.8,1248.3 L1057.6,1232.7 L1058.4,1209.6 L1059.1,1275.7 L1059.9,1254.8 L1060.7,1237.2 L1061.5,1208.3 L1062.3,1238.0 L1063.1,1215.8 L1063.8,1238.3 L1064.6,1238.1 L1065.4,1218.6 L1066.2,1274.4 L1067.0,1213.1 L1067.8,1198.8 L1068.5,1182.2 L1069.3,1189.9 L1070.1,1174.4 L1070.9,1190.7 L1071.7,1229.1 L1072.4,1198.5 L1073.2,1222.0 L1074.0,1191.0 L1074.8,1220.0 L1075.6,1211.2 L1076.4,1267.7 L1077.1,1211.1 L1077.9,1212.9 L1078.7,1249.6 L1079.5,1235.2 L1080.3,1232.1 L1081.0,1225.3 L1081.8,1232.3 L1082.6,1227.7 L1083.4,1229.2 L1084.2,1241.5 L1085.0,1216.3 L1085.7,1214.0 L1086.5,1228.2 L1087.3,1244.1 L1088.1,1223.5 L1088.9,1208.5 L1089.7,1235.9 L1090.4,1223.5 L1091.2,1228.7 L1092.0,1211.7 L1092.8,1244.1 L1093.6,1233.0 L1094.3,1231.4 L1095.1,1232.9 L1095.9,1259.3 L1096.7,1210.6 L1097.5,1229.4 L1098.3,1218.2 L1099.0,1182.6 L1099.8,1148.5 L1100.6,1206.0 L1101.4,1208.8 L1102.2,1237.5 L1102.9,1223.7 L1103.7,1231.4 L1104.5,1196.8 L1105.3,1178.7 L1106.1,1236.7 L1106.9,1226.6 L1107.6,1226.5 L1108.4,1201.3 L1109.2,1208.1 L1110.0,1207.6 L1110.8,1252.3 L1111.6,1246.3 L1112.3,1206.7 L1113.1,1220.4 L1113.9,1254.1 L1114.7,1223.0 L1115.5,1232.0 L1116.2,1248.5 L1117.0,1265.7 L1117.8,1255.4 L1118.6,1243.8 L1119.4,1242.8 L1120.2,1236.9 L1120.9,1243.6 L1121.7,1214.1 L1122.5,1214.6 L1123.3,1225.4 L1124.1,1216.8 L1124.8,1240.1 L1125.6,1221.7 L1126.4,1203.5 L1127.2,1243.3 L1128.0,1246.0 L1128.8,1248.3 L1129.5,1242.7 L1130.3,1195.5 L1131.1,1185.8 L1131.9,1214.9 L1132.7,1247.8 L1133.5,1268.0 L1134.2,1220.0 L1135.0,1218.9 L1135.8,1216.8 L1136.6,1211.9 L1137.4,1250.1 L1138.1,1227.4 L1138.9,1210.0 L1139.7,1209.5 L1140.5,1211.4 L1141.3,1181.4 L1142.1,1222.1 L1142.8,1188.0 L1143.6,1172.7 L1144.4,1212.1 L1145.2,1213.0 L1146.0,1198.9 L1146.7,1171.9 L1147.5,1167.6 L1148.3,1228.1 L1149.1,1218.9 L1149.9,1163.3 L1150.7,1225.1 L1151.4,1232.1 L1152.2,1231.1 L1153.0,1195.7 L1153.8,1202.0 L1154.6,1188.9 L1155.4,1190.8 L1156.1,1212.0 L1156.9,1210.2 L1157.7,1221.5 L1158.5,1219.2 L1159.3,1203.5 L1160.0,1223.9 L1160.8,1185.4 L1161.6,1184.5 L1162.4,1200.3 L1163.2,1214.1 L1164.0,1218.8 L1164.7,1188.1 L1165.5,1216.8 L1166.3,1177.9" stroke="#2d4e68"/>
<path d="M150.3,1522.0 L151.1,1503.5 L151.9,1495.0 L152.6,1469.1 L153.4,1482.2 L154.2,1471.1 L155.0,1467.1 L155.8,1460.2 L156.6,1453.1 L157.3,1445.5 L158.1,1439.1 L158.9,1431.5 L159.7,1432.0 L160.5,1436.7 L161.2,1436.7 L162.0,1425.3 L162.8,1455.8 L163.6,1438.3 L164.4,1465.3 L165.2,1448.8 L165.9,1441.4 L166.7,1446.4 L167.5,1409.4 L168.3,1449.4 L169.1,1446.5 L169.9,1446.5 L170.6,1433.5 L171.4,1448.4 L172.2,1433.8 L173.0,1423.3 L173.8,1423.9 L174.5,1428.4 L175.3,1439.6 L176.1,1431.9 L176.9,1444.5 L177.7,1444.5 L178.5,1442.1 L179.2,1428.0 L180.0,1417.8 L180.8,1430.1 L181.6,1453.1 L182.4,1448.6 L183.1,1434.3 L183.9,1436.4 L184.7,1420.9 L185.5,1421.6 L186.3,1422.6 L187.1,1427.1 L187.8,1411.2 L188.6,1409.0 L189.4,1408.0 L190.2,1415.5 L191.0,1414.1 L191.8,1384.8 L192.5,1410.1 L193.3,1416.9 L194.1,1409.2 L194.9,1376.4 L195.7,1402.3 L196.4,1406.5 L197.2,1413.3 L198.0,1390.6 L198.8,1392.4 L199.6,1371.9 L200.4,1380.4 L201.1,1389.8 L201.9,1384.3 L202.7,1396.6 L203.5,1364.0 L204.3,1396.4 L205.0,1405.8 L205.8,1372.7 L206.6,1381.2 L207.4,1357.1 L208.2,1381.8 L209.0,1382.0 L209.7,1378.9 L210.5,1344.9 L211.3,1363.4 L212.1,1368.6 L212.9,1357.6 L213.7,1342.4 L214.4,1315.1 L215.2,1340.3 L216.0,1336.7 L216.8,1372.8 L217.6,1343.3 L218.3,1350.6 L219.1,1364.8 L219.9,1369.2 L220.7,1345.3 L221.5,1355.5 L222.3,1360.0 L223.0,1406.4 L223.8,1365.3 L224.6,1387.3 L225.4,1396.8 L226.2,1390.6 L226.9,1392.4 L227.7,1404.8 L228.5,1390.9 L229.3,1411.1 L230.1,1407.1 L230.9,1414.4 L231.6,1371.7 L232.4,1431.7 L233.2,1401.8 L234.0,1417.5 L234.8,1414.1 L235.6,1405.1 L236.3,1419.4 L237.1,1403.2 L237.9,1428.6 L238.7,1429.4 L239.5,1403.2 L240.2,1419.6 L241.0,1433.0 L241.8,1423.5 L242.6,1413.5 L243.4,1409.8 L244.2,1459.6 L244.9,1454.3 L245.7,1402.0 L246.5,1426.4 L247.3,1399.6 L248.1,1414.3 L248.8,1417.9 L249.6,1397.8 L250.4,1412.4 L251.2,1388.5 L252.0,1408.9 L252.8,1420.5 L253.5,1439.0 L254.3,1438.3 L255.1,1439.8 L255.9,1390.3 L256.7,1403.3 L257.5,1421.2 L258.2,1398.6 L259.0,1419.8 L259.8,1376.6 L260.6,1402.8 L261.4,1405.8 L262.1,1358.7 L262.9,1366.4 L263.7,1346.3 L264.5,1367.4 L265.3,1369.8 L266.1,1332.0 L266.8,1339.4 L267.6,1322.0 L268.4,1352.5 L269.2,1339.2 L270.0,1368.2 L270.7,1309.2 L271.5,1322.0 L272.3,1351.8 L273.1,1335.0 L273.9,1356.5 L274.7,1357.4 L275.4,1349.3 L276.2,1330.2 L277.0,1301.8 L277.8,1313.0 L278.6,1354.1 L279.4,1356.5 L280.1,1362.6 L280.9,1337.4 L281.7,1344.7 L282.5,1327.7 L283.3,1320.8 L284.0,1356.9 L284.8,1322.1 L285.6,1339.7 L286.4,1333.5 L287.2,1325.9 L288.0,1317.9 L288.7,1346.0 L289.5,1369.6 L290.3,1382.6 L291.1,1378.3 L291.9,1372.6 L292.6,1364.4 L293.4,1413.6 L294.2,1365.1 L295.0,1416.1 L295.8,1375.9 L296.6,1384.5 L297.3,1396.2 L298.1,1396.6 L298.9,1412.2 L299.7,1407.3 L300.5,1392.6 L301.3,1394.7 L302.0,1346.3 L302.8,1348.0 L303.6,1360.1 L304.4,1378.9 L305.2,1367.9 L305.9,1374.8 L306.7,1395.9 L307.5,1395.3 L308.3,1343.0 L309.1,1367.1 L309.9,1351.5 L310.6,1334.2 L311.4,1345.0 L312.2,1323.5 L313.0,1300.6 L313.8,1319.6 L314.5,1337.9 L315.3,1321.5 L316.1,1349.8 L316.9,1327.2 L317.7,1323.1 L318.5,1326.4 L319.2,1296.4 L320.0,1285.8 L320.8,1258.1 L321.6,1263.5 L322.4,1300.1 L323.2,1314.2 L323.9,1302.2 L324.7,1304.0 L325.5,1313.4 L326.3,1315.7 L327.1,1315.1 L327.8,1313.7 L328.6,1331.3 L329.4,1336.0 L330.2,1329.3 L331.0,1343.1 L331.8,1373.2 L332.5,1342.7 L333.3,1360.4 L334.1,1393.5 L334.9,1383.2 L335.7,1369.9 L336.4,1415.7 L337.2,1410.5 L338.0,1405.1 L338.8,1381.0 L339.6,1375.8 L340.4,1390.1 L341.1,1425.0 L341.9,1417.7 L342.7,1416.3 L343.5,1365.1 L344.3,1385.1 L345.1,1407.4 L345.8,1384.2 L346.6,1375.1 L347.4,1372.5 L348.2,1354.1 L349.0,1362.5 L349.7,1349.3 L350.5,1341.0 L351.3,1345.6 L352.1,1327.3 L352.9,1333.0 L353.7,1340.2 L354.4,1309.8 L355.2,1339.6 L356.0,1339.8 L356.8,1336.1 L357.6,1360.3 L358.3,1342.5 L359.1,1350.5 L359.9,1362.1 L360.7,1360.3 L361.5,1306.4 L362.3,1329.3 L363.0,1346.1 L363.8,1348.5 L364.6,1343.4 L365.4,1375.7 L366.2,1377.9 L367.0,1325.8 L367.7,1339.7 L368.5,1360.8 L369.3,1349.8 L370.1,1341.5 L370.9,1331.3 L371.6,1326.0 L372.4,1322.9 L373.2,1324.1 L374.0,1315.2 L374.8,1310.5 L375.6,1314.1 L376.3,1366.3 L377.1,1360.8 L377.9,1347.0 L378.7,1326.0 L379.5,1348.3 L380.2,1350.2 L381.0,1345.5 L381.8,1307.7 L382.6,1308.8 L383.4,1314.8 L384.2,1286.4 L384.9,1289.0 L385.7,1273.1 L386.5,1275.8 L387.3,1296.0 L388.1,1293.2 L388.9,1277.2 L389.6,1246.3 L390.4,1263.1 L391.2,1207.3 L392.0,1272.9 L392.8,1210.6 L393.5,1174.8 L394.3,1237.1 L395.1,1208.7 L395.9,1191.6 L396.7,1164.8 L397.5,1200.9 L398.2,1224.2 L399.0,1168.9 L399.8,1168.5 L400.6,1185.4 L401.4,1200.8 L402.1,1166.8 L402.9,1141.2 L403.7,1165.2 L404.5,1161.1 L405.3,1104.0 L406.1,1192.8 L406.8,1186.5 L407.6,1191.5 L408.4,1176.4 L409.2,1212.6 L410.0,1204.7 L410.8,1251.7 L411.5,1215.9 L412.3,1261.6 L413.1,1289.0 L413.9,1280.1 L414.7,1253.2 L415.4,1252.8 L416.2,1226.1 L417.0,1259.8 L417.8,1283.9 L418.6,1335.5 L419.4,1314.9 L420.1,1325.8 L420.9,1315.2 L421.7,1321.7 L422.5,1340.0 L423.3,1359.7 L424.0,1316.6 L424.8,1371.7 L425.6,1338.5 L426.4,1353.8 L427.2,1345.5 L428.0,1345.8 L428.7,1335.4 L429.5,1353.1 L430.3,1363.2 L431.1,1361.6 L431.9,1381.6 L432.7,1352.3 L433.4,1402.4 L434.2,1380.6 L435.0,1383.5 L435.8,1404.6 L436.6,1390.4 L437.3,1379.2 L438.1,1401.5 L438.9,1410.3 L439.7,1400.6 L440.5,1395.4 L441.3,1376.6 L442.0,1372.5 L442.8,1443.7 L443.6,1403.6 L444.4,1381.0 L445.2,1385.0 L445.9,1386.3 L446.7,1364.2 L447.5,1377.0 L448.3,1394.3 L449.1,1425.7 L449.9,1364.2 L450.6,1375.3 L451.4,1373.7 L452.2,1431.9 L453.0,1390.3 L453.8,1377.2 L454.6,1377.6 L455.3,1401.3 L456.1,1386.6 L456.9,1395.1 L457.7,1388.9 L458.5,1376.9 L459.2,1393.2 L460.0,1373.2 L460.8,1364.6 L461.6,1374.9 L462.4,1390.0 L463.2,1403.5 L463.9,1418.1 L464.7,1418.3 L465.5,1423.1 L466.3,1406.4 L467.1,1420.3 L467.8,1384.8 L468.6,1420.9 L469.4,1411.9 L470.2,1371.4 L471.0,1385.2 L471.8,1405.5 L472.5,1407.2 L473.3,1383.0 L474.1,1393.7 L474.9,1393.1 L475.7,1392.4 L476.5,1345.6 L477.2,1388.7 L478.0,1362.5 L478.8,1405.2 L479.6,1397.6 L480.4,1375.1 L481.1,1400.3 L481.9,1402.9 L482.7,1404.2 L483.5,1377.4 L484.3,1346.3 L485.1,1352.7 L485.8,1397.9 L486.6,1361.5 L487.4,1401.9 L488.2,1377.5 L489.0,1384.2 L489.7,1391.7 L490.5,1391.2 L491.3,1364.2 L492.1,1366.4 L492.9,1353.7 L493.7,1330.3 L494.4,1359.9 L495.2,1377.1 L496.0,1359.6 L496.8,1362.0 L497.6,1351.9 L498.4,1328.5 L499.1,1377.6 L499.9,1351.7 L500.7,1361.5 L501.5,1339.5 L502.3,1394.3 L503.0,1376.3 L503.8,1373.6 L504.6,1351.9 L505.4,1408.4 L506.2,1424.7 L507.0,1411.8 L507.7,1409.2 L508.5,1413.1 L509.3,1421.7 L510.1,1439.7 L510.9,1435.0 L511.6,1405.1 L512.4,1417.9 L513.2,1430.9 L514.0,1412.6 L514.8,1380.5 L515.6,1400.8 L516.3,1386.4 L517.1,1375.7 L517.9,1444.1 L518.7,1422.0 L519.5,1385.1 L520.3,1384.9 L521.0,1359.0 L521.8,1387.5 L522.6,1412.9 L523.4,1409.0 L524.2,1408.0 L524.9,1415.6 L525.7,1420.7 L526.5,1435.6 L527.3,1411.8 L528.1,1437.0 L528.9,1431.4 L529.6,1416.2 L530.4,1381.2 L531.2,1417.2 L532.0,1430.5 L532.8,1434.3 L533.5,1387.9 L534.3,1384.8 L535.1,1390.1 L535.9,1423.3 L536.7,1441.3 L537.5,1386.4 L538.2,1417.3 L539.0,1424.9 L539.8,1401.7 L540.6,1419.2 L541.4,1410.1 L542.2,1372.6 L542.9,1418.7 L543.7,1393.1 L544.5,1395.2 L545.3,1415.1 L546.1,1384.3 L546.8,1401.1 L547.6,1398.8 L548.4,1389.7 L549.2,1419.9 L550.0,1376.9 L550.8,1373.0 L551.5,1384.8 L552.3,1378.5 L553.1,1368.4 L553.9,1400.7 L554.7,1408.0 L555.4,1381.9 L556.2,1396.1 L557.0,1385.8 L557.8,1414.9 L558.6,1381.7 L559.4,1341.9 L560.1,1370.4 L560.9,1388.4 L561.7,1399.0 L562.5,1367.3 L563.3,1387.6 L564.1,1389.7 L564.8,1409.3 L565.6,1418.6 L566.4,1394.2 L567.2,1367.3 L568.0,1382.5 L568.7,1385.9 L569.5,1408.5 L570.3,1374.6 L571.1,1366.6 L571.9,1400.5 L572.7,1368.1 L573.4,1387.8 L574.2,1384.0 L575.0,1398.9 L575.8,1358.5 L576.6,1347.6 L577.3,1377.8 L578.1,1305.2 L578.9,1375.7 L579.7,1356.2 L580.5,1396.2 L581.3,1387.4 L582.0,1392.1 L582.8,1395.8 L583.6,1383.6 L584.4,1347.6 L585.2,1385.4 L586.0,1358.8 L586.7,1385.9 L587.5,1364.7 L588.3,1405.1 L589.1,1349.8 L589.9,1380.9 L590.6,1388.5 L591.4,1395.8 L592.2,1389.7 L593.0,1378.1 L593.8,1374.4 L594.6,1380.1 L595.3,1353.3 L596.1,1375.2 L596.9,1362.9 L597.7,1364.0 L598.5,1369.3 L599.2,1348.7 L600.0,1325.3 L600.8,1283.3 L601.6,1297.1 L602.4,1290.8 L603.2,1293.4 L603.9,1298.5 L604.7,1310.5 L605.5,1329.8 L606.3,1304.5 L607.1,1287.1 L607.9,1303.2 L608.6,1270.3 L609.4,1245.6 L610.2,1272.3 L611.0,1259.3 L611.8,1267.2 L612.5,1284.4 L613.3,1213.0 L614.1,1240.3 L614.9,1266.2 L615.7,1309.4 L616.5,1250.2 L617.2,1243.0 L618.0,1243.0 L618.8,1275.7 L619.6,1263.0 L620.4,1240.1 L621.1,1262.8 L621.9,1253.7 L622.7,1292.9 L623.5,1285.1 L624.3,1290.7 L625.1,1281.7 L625.8,1274.9 L626.6,1302.1 L627.4,1272.0 L628.2,1260.6 L629.0,1246.5 L629.8,1284.2 L630.5,1257.8 L631.3,1306.1 L632.1,1356.1 L632.9,1311.9 L633.7,1294.4 L634.4,1280.1 L635.2,1312.3 L636.0,1301.0 L636.8,1313.9 L637.6,1306.2 L638.4,1309.3 L639.1,1298.5 L639.9,1268.3 L640.7,1294.7 L641.5,1253.2 L642.3,1271.8 L643.0,1257.1 L643.8,1238.9 L644.6,1249.6 L645.4,1262.8 L646.2,1232.8 L647.0,1224.3 L647.7,1255.9 L648.5,1244.3 L649.3,1239.1 L650.1,1242.9 L650.9,1215.9 L651.7,1222.5 L652.4,1195.2 L653.2,1220.5 L654.0,1178.5 L654.8,1176.2 L655.6,1207.6 L656.3,1181.6 L657.1,1193.4 L657.9,1181.2 L658.7,1193.0 L659.5,1168.5 L660.3,1181.1 L661.0,1193.0 L661.8,1184.8 L662.6,1187.3 L663.4,1167.5 L664.2,1145.0 L664.9,1149.8 L665.7,1150.9 L666.5,1182.3 L667.3,1192.9 L668.1,1201.5 L668.9,1157.3 L669.6,1150.6 L670.4,1194.9 L671.2,1174.4 L672.0,1196.8 L672.8,1149.2 L673.6,1161.9 L674.3,1173.7 L675.1,1176.0 L675.9,1187.0 L676.7,1159.0 L677.5,1163.0 L678.2,1164.9 L679.0,1161.1 L679.8,1198.3 L680.6,1179.9 L681.4,1163.7 L682.2,1195.4 L682.9,1193.3 L683.7,1138.8 L684.5,1155.1 L685.3,1176.7 L686.1,1166.3 L686.8,1196.0 L687.6,1224.7 L688.4,1237.6 L689.2,1204.0 L690.0,1202.5 L690.8,1212.6 L691.5,1149.4 L692.3,1182.8 L693.1,1180.4 L693.9,1136.3 L694.7,1150.6 L695.5,1193.9 L696.2,1162.9 L697.0,1181.3 L697.8,1185.3 L698.6,1189.8 L699.4,1150.3 L700.1,1125.9 L700.9,1145.4 L701.7,1201.3 L702.5,1165.3 L703.3,1159.7 L704.1,1124.1 L704.8,1142.4 L705.6,1177.3 L706.4,1156.9 L707.2,1169.9 L708.0,1136.4 L708.7,1156.1 L709.5,1169.9 L710.3,1162.9 L711.1,1177.4 L711.9,1154.7 L712.7,1145.1 L713.4,1148.1 L714.2,1138.6 L715.0,1151.5 L715.8,1139.4 L716.6,1126.0 L717.4,1136.6 L718.1,1156.6 L718.9,1135.2 L719.7,1103.5 L720.5,1120.9 L721.3,1119.6 L722.0,1163.3 L722.8,1079.7 L723.6,1099.8 L724.4,1067.6 L725.2,1106.7 L726.0,1152.3 L726.7,1114.4 L727.5,1090.8 L728.3,1111.5 L729.1,1107.2 L729.9,1111.5 L730.6,1123.9 L731.4,1143.4 L732.2,1104.1 L733.0,1153.3 L733.8,1135.5 L734.6,1100.9 L735.3,1059.0 L736.1,1093.3 L736.9,1150.4 L737.7,1089.0 L738.5,1081.0 L739.3,1104.6 L740.0,1085.9 L740.8,1099.5 L741.6,1080.7 L742.4,1096.4 L743.2,1125.9 L743.9,1091.3 L744.7,1120.4 L745.5,1081.3 L746.3,1079.9 L747.1,1097.8 L747.9,1089.5 L748.6,1125.5 L749.4,1128.4 L750.2,1147.3 L751.0,1103.2 L751.8,1115.8 L752.5,1129.8 L753.3,1149.0 L754.1,1114.9 L754.9,1143.3 L755.7,1138.9 L756.5,1128.0 L757.2,1135.4 L758.0,1147.1 L758.8,1142.3 L759.6,1118.4 L760.4,1132.2 L761.2,1119.8 L761.9,1123.1 L762.7,1169.1 L763.5,1144.9 L764.3,1143.7 L765.1,1178.2 L765.8,1211.9 L766.6,1183.3 L767.4,1187.5 L768.2,1178.4 L769.0,1171.7 L769.8,1192.5 L770.5,1171.2 L771.3,1208.7 L772.1,1200.3 L772.9,1194.4 L773.7,1167.4 L774.4,1195.2 L775.2,1219.6 L776.0,1191.9 L776.8,1203.3 L777.6,1197.9 L778.4,1165.2 L779.1,1154.0 L779.9,1136.6 L780.7,1167.5 L781.5,1151.2 L782.3,1203.8 L783.1,1211.3 L783.8,1187.2 L784.6,1196.9 L785.4,1166.5 L786.2,1198.8 L787.0,1169.6 L787.7,1199.8 L788.5,1174.5 L789.3,1190.0 L790.1,1175.0 L790.9,1159.3 L791.7,1182.6 L792.4,1187.3 L793.2,1211.3 L794.0,1165.2 L794.8,1195.4 L795.6,1166.9 L796.3,1163.6 L797.1,1188.4 L797.9,1181.3 L798.7,1228.4 L799.5,1205.7 L800.3,1130.7 L801.0,1166.8 L801.8,1190.1 L802.6,1237.1 L803.4,1191.1 L804.2,1177.6 L805.0,1189.6 L805.7,1163.6 L806.5,1176.2 L807.3,1160.3 L808.1,1149.5 L808.9,1154.3 L809.6,1168.9 L810.4,1187.3 L811.2,1182.4 L812.0,1204.8 L812.8,1149.5 L813.6,1186.7 L814.3,1218.2 L815.1,1183.0 L815.9,1170.1 L816.7,1178.8 L817.5,1195.5 L818.2,1198.7 L819.0,1152.8 L819.8,1165.1 L820.6,1222.6 L821.4,1170.9 L822.2,1161.6 L822.9,1179.5 L823.7,1228.6 L824.5,1218.7 L825.3,1174.7 L826.1,1156.3 L826.9,1169.0 L827.6,1132.0 L828.4,1176.8 L829.2,1173.1 L830.0,1170.1 L830.8,1202.6 L831.5,1179.2 L832.3,1172.3 L833.1,1141.9 L833.9,1168.9 L834.7,1197.6 L835.5,1220.7 L836.2,1164.2 L837.0,1174.7 L837.8,1170.0 L838.6,1158.8 L839.4,1166.4 L840.1,1155.0 L840.9,1170.7 L841.7,1180.1 L842.5,1190.3 L843.3,1151.1 L844.1,1169.7 L844.8,1179.7 L845.6,1155.3 L846.4,1163.5 L847.2,1129.9 L848.0,1124.6 L848.8,1121.3 L849.5,1169.3 L850.3,1142.9 L851.1,1158.0 L851.9,1147.4 L852.7,1210.4 L853.4,1180.9 L854.2,1194.2 L855.0,1199.5 L855.8,1201.6 L856.6,1155.0 L857.4,1138.8 L858.1,1158.0 L858.9,1167.0 L859.7,1174.3 L860.5,1162.4 L861.3,1153.2 L862.0,1186.2 L862.8,1175.8 L863.6,1187.1 L864.4,1172.0 L865.2,1150.2 L866.0,1165.8 L866.7,1155.0 L867.5,1131.6 L868.3,1194.6 L869.1,1157.8 L869.9,1151.5 L870.7,1175.6 L871.4,1150.3 L872.2,1107.3 L873.0,1141.1 L873.8,1129.1 L874.6,1177.6 L875.3,1203.1 L876.1,1223.0 L876.9,1162.0 L877.7,1138.2 L878.5,1172.7 L879.3,1096.3 L880.0,1148.0 L880.8,1116.3 L881.6,1150.6 L882.4,1136.7 L883.2,1174.7 L883.9,1155.1 L884.7,1142.0 L885.5,1195.6 L886.3,1124.9 L887.1,1123.8 L887.9,1178.5 L888.6,1170.9 L889.4,1141.0 L890.2,1165.9 L891.0,1217.5 L891.8,1188.6 L892.6,1164.4 L893.3,1235.7 L894.1,1194.5 L894.9,1204.3 L895.7,1182.4 L896.5,1197.9 L897.2,1180.2 L898.0,1239.4 L898.8,1181.1 L899.6,1201.3 L900.4,1202.6 L901.2,1196.8 L901.9,1208.1 L902.7,1222.4 L903.5,1164.9 L904.3,1171.4 L905.1,1161.8 L905.8,1179.7 L906.6,1200.1 L907.4,1169.9 L908.2,1169.5 L909.0,1168.6 L909.8,1189.1 L910.5,1166.2 L911.3,1185.0 L912.1,1133.6 L912.9,1155.1 L913.7,1188.2 L914.5,1228.0 L915.2,1160.1 L916.0,1217.9 L916.8,1185.0 L917.6,1178.0 L918.4,1201.5 L919.1,1175.5 L919.9,1145.4 L920.7,1177.6 L921.5,1174.1 L922.3,1184.8 L923.1,1167.8 L923.8,1159.3 L924.6,1157.9 L925.4,1138.1 L926.2,1237.2 L927.0,1218.4 L927.7,1223.1 L928.5,1178.2 L929.3,1160.1 L930.1,1165.5 L930.9,1185.8 L931.7,1186.3 L932.4,1190.8 L933.2,1209.8 L934.0,1206.3 L934.8,1208.4 L935.6,1215.7 L936.4,1215.1 L937.1,1187.2 L937.9,1197.7 L938.7,1192.8 L939.5,1202.5 L940.3,1062.0 L941.0,1238.4 L941.8,1208.5 L942.6,1141.1 L943.4,1188.0 L944.2,1178.4 L945.0,1130.5 L945.7,1168.6 L946.5,1181.7 L947.3,1172.4 L948.1,1184.6 L948.9,1163.2 L949.6,1192.0 L950.4,1145.3 L951.2,1139.7 L952.0,1146.4 L952.8,1173.8 L953.6,1162.2 L954.3,1215.0 L955.1,1191.0 L955.9,1179.0 L956.7,1157.0 L957.5,1156.0 L958.3,1176.7 L959.0,1159.1 L959.8,1137.4 L960.6,1124.7 L961.4,1154.9 L962.2,1155.0 L962.9,1166.5 L963.7,1186.9 L964.5,1154.2 L965.3,1143.6 L966.1,1183.1 L966.9,1146.9 L967.6,1156.4 L968.4,1165.4 L969.2,1224.1 L970.0,1159.8 L970.8,1151.7 L971.5,1170.2 L972.3,1155.2 L973.1,1212.1 L973.9,1222.4 L974.7,1141.7 L975.5,1120.4 L976.2,1168.1 L977.0,1164.9 L977.8,1212.7 L978.6,1135.1 L979.4,1156.8 L980.2,1188.0 L980.9,1165.9 L981.7,1108.1 L982.5,1128.8 L983.3,1078.2 L984.1,1110.7 L984.8,1079.6 L985.6,1108.9 L986.4,1105.7 L987.2,1125.1 L988.0,1125.9 L988.8,1097.8 L989.5,1103.4 L990.3,1119.7 L991.1,1136.0 L991.9,1112.3 L992.7,1090.4 L993.4,1136.5 L994.2,1106.2 L995.0,1037.0 L995.8,1123.0 L996.6,1148.9 L997.4,1135.6 L998.1,1128.1 L998.9,1153.5 L999.7,1245.6 L1000.5,1226.6 L1001.3,1161.2 L1002.1,1188.4 L1002.8,1215.0 L1003.6,1253.4 L1004.4,1272.3 L1005.2,1269.3 L1006.0,1249.0 L1006.7,1194.8 L1007.5,1229.6 L1008.3,1179.7 L1009.1,1199.6 L1009.9,1190.0 L1010.7,1165.9 L1011.4,1129.0 L1012.2,1136.5 L1013.0,1147.6 L1013.8,1178.8 L1014.6,1173.4 L1015.3,1199.8 L1016.1,1144.4 L1016.9,1141.3 L1017.7,1169.9 L1018.5,1202.3 L1019.3,1182.6 L1020.0,1171.9 L1020.8,1176.5 L1021.6,1196.9 L1022.4,1187.0 L1023.2,1169.5 L1024.0,1174.3 L1024.7,1172.5 L1025.5,1203.5 L1026.3,1199.6 L1027.1,1192.1 L1027.9,1181.3 L1028.6,1154.8 L1029.4,1160.3 L1030.2,1189.5 L1031.0,1205.2 L1031.8,1169.7 L1032.6,1184.1 L1033.3,1179.9 L1034.1,1210.4 L1034.9,1208.1 L1035.7,1165.3 L1036.5,1203.2 L1037.2,1157.5 L1038.0,1194.0 L1038.8,1180.6 L1039.6,1187.7 L1040.4,1172.7 L1041.2,1142.2 L1041.9,1162.2 L1042.7,1212.4 L1043.5,1151.3 L1044.3,1166.3 L1045.1,1162.3 L1045.9,1159.3 L1046.6,1176.0 L1047.4,1135.4 L1048.2,1188.0 L1049.0,1186.2 L1049.8,1188.1 L1050.5,1157.7 L1051.3,1157.5 L1052.1,1166.3 L1052.9,1144.9 L1053.7,1125.0 L1054.5,1168.0 L1055.2,1082.9 L1056.0,1128.9 L1056.8,1151.5 L1057.6,1165.9 L1058.4,1155.7 L1059.1,1154.1 L1059.9,1153.0 L1060.7,1123.2 L1061.5,1226.1 L1062.3,1203.8 L1063.1,1196.6 L1063.8,1169.9 L1064.6,1148.3 L1065.4,1202.4 L1066.2,1181.5 L1067.0,1159.8 L1067.8,1155.4 L1068.5,1163.5 L1069.3,1217.2 L1070.1,1176.4 L1070.9,1177.6 L1071.7,1180.2 L1072.4,1181.0 L1073.2,1194.2 L1074.0,1196.4 L1074.8,1180.9 L1075.6,1149.6 L1076.4,1147.2 L1077.1,1125.9 L1077.9,1128.6 L1078.7,1144.9 L1079.5,1178.0 L1080.3,1158.8 L1081.0,1079.7 L1081.8,1174.7 L1082.6,1131.7 L1083.4,1119.4 L1084.2,1172.4 L1085.0,1154.5 L1085.7,1166.3 L1086.5,1186.2 L1087.3,1169.5 L1088.1,1190.4 L1088.9,1177.6 L1089.7,1171.4 L1090.4,1180.2 L1091.2,1154.9 L1092.0,1106.6 L1092.8,1179.2 L1093.6,1173.6 L1094.3,1149.4 L1095.1,1163.3 L1095.9,1151.0 L1096.7,1169.3 L1097.5,1168.2 L1098.3,1098.0 L1099.0,1139.9 L1099.8,1143.6 L1100.6,1215.2 L1101.4,1164.9 L1102.2,1183.9 L1102.9,1211.5 L1103.7,1183.2 L1104.5,1174.2 L1105.3,1193.8 L1106.1,1150.0 L1106.9,1141.1 L1107.6,1171.9 L1108.4,1128.3 L1109.2,1131.4 L1110.0,1133.7 L1110.8,1143.6 L1111.6,1127.6 L1112.3,1147.6 L1113.1,1194.7 L1113.9,1192.9 L1114.7,1143.5 L1115.5,1130.5 L1116.2,1107.6 L1117.0,1148.0 L1117.8,1138.3 L1118.6,1090.1 L1119.4,1078.4 L1120.2,1136.2 L1120.9,1123.3 L1121.7,1145.3 L1122.5,1142.9 L1123.3,1165.2 L1124.1,1140.7 L1124.8,1105.4 L1125.6,1135.3 L1126.4,1159.8 L1127.2,1138.0 L1128.0,1085.1 L1128.8,1136.2 L1129.5,1132.5 L1130.3,1128.5 L1131.1,1209.7 L1131.9,1173.8 L1132.7,1162.0 L1133.5,1183.7 L1134.2,1177.6 L1135.0,1142.9 L1135.8,1154.0 L1136.6,1177.1 L1137.4,1145.4 L1138.1,1192.6 L1138.9,1157.1 L1139.7,1147.7 L1140.5,1200.4 L1141.3,1188.4 L1142.1,1148.9 L1142.8,1144.7 L1143.6,1145.4 L1144.4,1152.3 L1145.2,1125.8 L1146.0,1149.9 L1146.7,1146.8 L1147.5,1133.8 L1148.3,1187.9 L1149.1,1140.3 L1149.9,1106.6 L1150.7,1166.1 L1151.4,1134.4 L1152.2,1134.6 L1153.0,1160.6 L1153.8,1181.9 L1154.6,1167.3 L1155.4,1185.4 L1156.1,1153.5 L1156.9,1172.8 L1157.7,1177.5 L1158.5,1179.5 L1159.3,1176.3 L1160.0,1194.8 L1160.8,1175.2 L1161.6,1157.4 L1162.4,1150.4 L1163.2,1110.2 L1164.0,1102.4 L1164.7,1113.2 L1165.5,1131.5 L1166.3,1128.9" stroke="#7c1a37"/>
</g>
<path d="M150.3,1472.83h10 M150.3,1421.06h10 M150.3,1369.29h10 M150.3,1317.52h10 M150.3,1265.75h10 M150.3,1213.98h10 M150.3,1162.21h10 M150.3,1110.44h10 M150.3,1058.67h10 M1166.3,1472.83h-10 M1166.3,1421.06h-10 M1166.3,1369.29h-10 M1166.3,1317.52h-10 M1166.3,1265.75h-10 M1166.3,1213.98h-10 M1166.3,1162.21h-10 M1166.3,1110.44h-10 M1166.3,1058.67h-10 M353.50,1524.6v-10 M353.50,1006.9v10 M556.70,1524.6v-10 M556.70,1006.9v10 M759.90,1524.6v-10 M759.90,1006.9v10 M963.10,1524.6v-10 M963.10,1006.9v10" stroke="#8a8a8a" stroke-width="1.6" fill="none"/>
<rect x="150.3" y="1006.9" width="1016.00" height="517.70" fill="none" stroke="#707070" stroke-width="2.2"/>
<text x="77.26" y="1483.45" font-family='"Liberation Sans",sans-serif' font-size="30" fill="#5e5e5e" textLength="64.23" lengthAdjust="spacingAndGlyphs">0.25</text>
<text x="77.16" y="1431.68" font-family='"Liberation Sans",sans-serif' font-size="30" fill="#5e5e5e" textLength="64.23" lengthAdjust="spacingAndGlyphs">0.50</text>
<text x="77.26" y="1379.91" font-family='"Liberation Sans",sans-serif' font-size="30" fill="#5e5e5e" textLength="64.23" lengthAdjust="spacingAndGlyphs">0.75</text>
<text x="77.16" y="1328.14" font-family='"Liberation Sans",sans-serif' font-size="30" fill="#5e5e5e" textLength="64.23" lengthAdjust="spacingAndGlyphs">1.00</text>
<text x="77.26" y="1276.37" font-family='"Liberation Sans",sans-serif' font-size="30" fill="#5e5e5e" textLength="64.23" lengthAdjust="spacingAndGlyphs">1.25</text>
<text x="77.16" y="1224.60" font-family='"Liberation Sans",sans-serif' font-size="30" fill="#5e5e5e" textLength="64.23" lengthAdjust="spacingAndGlyphs">1.50</text>
<text x="77.26" y="1172.83" font-family='"Liberation Sans",sans-serif' font-size="30" fill="#5e5e5e" textLength="64.23" lengthAdjust="spacingAndGlyphs">1.75</text>
<text x="77.16" y="1121.06" font-family='"Liberation Sans",sans-serif' font-size="30" fill="#5e5e5e" textLength="64.23" lengthAdjust="spacingAndGlyphs">2.00</text>
<text x="77.26" y="1069.29" font-family='"Liberation Sans",sans-serif' font-size="30" fill="#5e5e5e" textLength="64.23" lengthAdjust="spacingAndGlyphs">2.25</text>
<text x="77.16" y="1017.52" font-family='"Liberation Sans",sans-serif' font-size="30" fill="#5e5e5e" textLength="64.23" lengthAdjust="spacingAndGlyphs">2.50</text>
<text x="1172.79" y="1483.45" font-family='"Liberation Sans",sans-serif' font-size="30" fill="#7a1533" textLength="18.35" lengthAdjust="spacingAndGlyphs">1</text>
<text x="1173.64" y="1431.68" font-family='"Liberation Sans",sans-serif' font-size="30" fill="#7a1533" textLength="18.35" lengthAdjust="spacingAndGlyphs">2</text>
<text x="1174.04" y="1379.91" font-family='"Liberation Sans",sans-serif' font-size="30" fill="#7a1533" textLength="18.35" lengthAdjust="spacingAndGlyphs">3</text>
<text x="1174.54" y="1328.14" font-family='"Liberation Sans",sans-serif' font-size="30" fill="#7a1533" textLength="18.35" lengthAdjust="spacingAndGlyphs">4</text>
<text x="1173.98" y="1276.37" font-family='"Liberation Sans",sans-serif' font-size="30" fill="#7a1533" textLength="18.35" lengthAdjust="spacingAndGlyphs">5</text>
<text x="1173.62" y="1224.60" font-family='"Liberation Sans",sans-serif' font-size="30" fill="#7a1533" textLength="18.35" lengthAdjust="spacingAndGlyphs">6</text>
<text x="1173.61" y="1172.83" font-family='"Liberation Sans",sans-serif' font-size="30" fill="#7a1533" textLength="18.35" lengthAdjust="spacingAndGlyphs">7</text>
<text x="1173.87" y="1121.06" font-family='"Liberation Sans",sans-serif' font-size="30" fill="#7a1533" textLength="18.35" lengthAdjust="spacingAndGlyphs">8</text>
<text x="1173.75" y="1069.29" font-family='"Liberation Sans",sans-serif' font-size="30" fill="#7a1533" textLength="18.35" lengthAdjust="spacingAndGlyphs">9</text>
<text x="1172.79" y="1017.52" font-family='"Liberation Sans",sans-serif' font-size="30" fill="#7a1533" textLength="36.71" lengthAdjust="spacingAndGlyphs">10</text>
<text x="1080.42" y="1064.00" font-family='"Liberation Sans",sans-serif' font-size="45" font-weight="bold" fill="#000000" textLength="58.47" lengthAdjust="spacingAndGlyphs">(c)</text>
<clipPath id="clipd"><rect x="149.2" y="1543.0" width="1017.0999999999999" height="483.70000000000005"/></clipPath>
<g clip-path="url(#clipd)" fill="none" stroke-width="2.5" stroke-linejoin="round">
<path d="M149.2,1849.0 L150.0,1849.0 L150.8,1847.2 L151.5,1844.1 L152.3,1827.3 L153.1,1823.4 L153.9,1825.8 L154.7,1835.0 L155.5,1831.8 L156.2,1825.1 L157.0,1821.4 L157.8,1828.8 L158.6,1807.5 L159.4,1817.5 L160.2,1819.9 L160.9,1834.8 L161.7,1816.7 L162.5,1797.2 L163.3,1820.6 L164.1,1869.2 L164.9,1824.9 L165.6,1823.8 L166.4,1814.7 L167.2,1850.1 L168.0,1826.4 L168.8,1806.6 L169.6,1835.2 L170.3,1797.2 L171.1,1820.1 L171.9,1831.7 L172.7,1814.7 L173.5,1792.3 L174.3,1796.1 L175.0,1805.2 L175.8,1805.0 L176.6,1796.2 L177.4,1805.7 L178.2,1791.8 L179.0,1787.0 L179.7,1770.7 L180.5,1803.3 L181.3,1794.5 L182.1,1827.5 L182.9,1815.2 L183.7,1811.1 L184.4,1804.5 L185.2,1824.8 L186.0,1811.2 L186.8,1772.2 L187.6,1824.3 L188.3,1844.8 L189.1,1802.6 L189.9,1810.8 L190.7,1798.6 L191.5,1806.7 L192.3,1790.9 L193.0,1796.2 L193.8,1810.6 L194.6,1783.7 L195.4,1794.6 L196.2,1829.2 L197.0,1810.7 L197.7,1801.3 L198.5,1787.2 L199.3,1832.4 L200.1,1789.9 L200.9,1813.0 L201.7,1839.7 L202.4,1789.9 L203.2,1783.0 L204.0,1793.3 L204.8,1807.7 L205.6,1817.6 L206.4,1820.6 L207.1,1835.7 L207.9,1802.0 L208.7,1796.3 L209.5,1807.9 L210.3,1795.9 L211.1,1756.9 L211.8,1788.5 L212.6,1798.3 L213.4,1810.3 L214.2,1790.1 L215.0,1798.5 L215.8,1830.7 L216.5,1817.3 L217.3,1804.7 L218.1,1793.0 L218.9,1787.1 L219.7,1817.5 L220.5,1830.3 L221.2,1783.6 L222.0,1768.0 L222.8,1791.1 L223.6,1800.5 L224.4,1797.6 L225.1,1826.9 L225.9,1818.5 L226.7,1811.5 L227.5,1810.3 L228.3,1796.0 L229.1,1779.2 L229.8,1777.4 L230.6,1760.7 L231.4,1769.9 L232.2,1816.1 L233.0,1778.3 L233.8,1787.5 L234.5,1785.8 L235.3,1778.3 L236.1,1799.9 L236.9,1817.7 L237.7,1798.5 L238.5,1782.0 L239.2,1802.8 L240.0,1808.4 L240.8,1798.4 L241.6,1810.4 L242.4,1802.7 L243.2,1812.5 L243.9,1859.8 L244.7,1768.4 L245.5,1787.1 L246.3,1789.2 L247.1,1801.1 L247.9,1760.1 L248.6,1819.4 L249.4,1781.4 L250.2,1785.0 L251.0,1779.4 L251.8,1826.0 L252.6,1809.1 L253.3,1760.3 L254.1,1752.3 L254.9,1770.2 L255.7,1749.1 L256.5,1779.8 L257.3,1780.3 L258.0,1816.4 L258.8,1793.7 L259.6,1787.9 L260.4,1772.0 L261.2,1753.1 L262.0,1798.7 L262.7,1814.6 L263.5,1777.2 L264.3,1782.1 L265.1,1739.0 L265.9,1750.5 L266.6,1763.9 L267.4,1772.4 L268.2,1727.1 L269.0,1768.6 L269.8,1778.1 L270.6,1814.3 L271.3,1809.8 L272.1,1803.7 L272.9,1764.6 L273.7,1742.4 L274.5,1789.4 L275.3,1753.2 L276.0,1772.3 L276.8,1789.1 L277.6,1765.4 L278.4,1787.1 L279.2,1749.0 L280.0,1766.0 L280.7,1766.8 L281.5,1789.4 L282.3,1763.5 L283.1,1780.7 L283.9,1764.5 L284.7,1769.6 L285.4,1755.2 L286.2,1762.0 L287.0,1776.2 L287.8,1772.7 L288.6,1770.5 L289.4,1778.2 L290.1,1748.0 L290.9,1797.1 L291.7,1768.3 L292.5,1778.3 L293.3,1791.2 L294.1,1774.2 L294.8,1788.3 L295.6,1762.1 L296.4,1750.4 L297.2,1741.2 L298.0,1760.0 L298.8,1790.3 L299.5,1778.5 L300.3,1785.9 L301.1,1740.9 L301.9,1732.7 L302.7,1746.3 L303.4,1775.9 L304.2,1766.3 L305.0,1767.3 L305.8,1782.9 L306.6,1754.5 L307.4,1762.8 L308.1,1700.2 L308.9,1736.6 L309.7,1768.7 L310.5,1777.5 L311.3,1750.9 L312.1,1778.8 L312.8,1761.2 L313.6,1766.3 L314.4,1764.4 L315.2,1743.5 L316.0,1776.2 L316.8,1780.2 L317.5,1755.2 L318.3,1760.4 L319.1,1754.1 L319.9,1759.6 L320.7,1752.7 L321.5,1776.4 L322.2,1775.5 L323.0,1756.2 L323.8,1783.4 L324.6,1799.7 L325.4,1785.0 L326.2,1768.1 L326.9,1759.7 L327.7,1755.9 L328.5,1720.7 L329.3,1756.7 L330.1,1771.0 L330.9,1758.9 L331.6,1754.0 L332.4,1759.4 L333.2,1750.8 L334.0,1743.3 L334.8,1755.4 L335.6,1761.1 L336.3,1742.9 L337.1,1737.3 L337.9,1755.1 L338.7,1723.6 L339.5,1750.4 L340.2,1769.7 L341.0,1772.8 L341.8,1772.7 L342.6,1753.8 L343.4,1761.2 L344.2,1753.1 L344.9,1754.0 L345.7,1806.5 L346.5,1760.9 L347.3,1724.5 L348.1,1743.3 L348.9,1742.4 L349.6,1757.4 L350.4,1792.0 L351.2,1753.2 L352.0,1738.9 L352.8,1745.9 L353.6,1765.3 L354.3,1770.5 L355.1,1721.1 L355.9,1736.0 L356.7,1749.0 L357.5,1748.4 L358.3,1770.0 L359.0,1777.4 L359.8,1750.6 L360.6,1704.1 L361.4,1731.9 L362.2,1746.1 L363.0,1726.8 L363.7,1750.5 L364.5,1734.7 L365.3,1758.8 L366.1,1772.2 L366.9,1793.7 L367.7,1787.0 L368.4,1776.1 L369.2,1769.1 L370.0,1803.0 L370.8,1769.2 L371.6,1769.0 L372.4,1743.2 L373.1,1747.6 L373.9,1695.2 L374.7,1743.4 L375.5,1780.2 L376.3,1781.8 L377.0,1753.4 L377.8,1740.4 L378.6,1784.4 L379.4,1762.3 L380.2,1721.0 L381.0,1719.8 L381.7,1745.0 L382.5,1715.4 L383.3,1729.3 L384.1,1723.5 L384.9,1736.1 L385.7,1745.8 L386.4,1768.0 L387.2,1726.7 L388.0,1756.7 L388.8,1742.4 L389.6,1742.8 L390.4,1761.2 L391.1,1757.9 L391.9,1745.9 L392.7,1772.7 L393.5,1781.3 L394.3,1769.4 L395.1,1748.8 L395.8,1760.2 L396.6,1791.7 L397.4,1805.3 L398.2,1800.6 L399.0,1787.9 L399.8,1799.7 L400.5,1775.3 L401.3,1747.8 L402.1,1792.4 L402.9,1750.1 L403.7,1768.5 L404.5,1753.5 L405.2,1767.8 L406.0,1796.9 L406.8,1817.8 L407.6,1783.6 L408.4,1790.3 L409.2,1808.2 L409.9,1807.9 L410.7,1819.5 L411.5,1779.0 L412.3,1738.5 L413.1,1768.6 L413.8,1744.4 L414.6,1773.4 L415.4,1796.2 L416.2,1772.4 L417.0,1773.5 L417.8,1783.8 L418.5,1754.4 L419.3,1815.2 L420.1,1802.0 L420.9,1779.8 L421.7,1762.8 L422.5,1785.5 L423.2,1782.6 L424.0,1742.8 L424.8,1756.5 L425.6,1772.7 L426.4,1752.5 L427.2,1765.9 L427.9,1766.4 L428.7,1811.8 L429.5,1797.1 L430.3,1786.7 L431.1,1768.4 L431.9,1785.1 L432.6,1768.3 L433.4,1755.1 L434.2,1778.6 L435.0,1798.4 L435.8,1761.3 L436.6,1772.8 L437.3,1783.3 L438.1,1769.6 L438.9,1799.1 L439.7,1773.7 L440.5,1810.4 L441.3,1812.3 L442.0,1767.5 L442.8,1782.8 L443.6,1722.8 L444.4,1734.9 L445.2,1759.0 L446.0,1775.6 L446.7,1783.8 L447.5,1759.3 L448.3,1764.2 L449.1,1758.3 L449.9,1790.4 L450.6,1799.8 L451.4,1780.0 L452.2,1807.2 L453.0,1815.9 L453.8,1744.8 L454.6,1775.9 L455.3,1803.5 L456.1,1783.2 L456.9,1805.0 L457.7,1813.3 L458.5,1786.4 L459.3,1796.4 L460.0,1781.8 L460.8,1777.1 L461.6,1765.2 L462.4,1754.7 L463.2,1770.7 L464.0,1768.8 L464.7,1756.4 L465.5,1754.0 L466.3,1728.7 L467.1,1739.7 L467.9,1784.3 L468.7,1776.8 L469.4,1779.7 L470.2,1781.8 L471.0,1742.3 L471.8,1780.6 L472.6,1751.3 L473.4,1776.6 L474.1,1753.2 L474.9,1769.6 L475.7,1792.0 L476.5,1753.9 L477.3,1772.0 L478.1,1772.8 L478.8,1778.0 L479.6,1769.3 L480.4,1759.8 L481.2,1783.3 L482.0,1789.3 L482.8,1778.5 L483.5,1731.8 L484.3,1765.7 L485.1,1774.5 L485.9,1783.2 L486.7,1738.5 L487.5,1761.3 L488.2,1755.6 L489.0,1750.9 L489.8,1748.3 L490.6,1765.4 L491.4,1764.7 L492.1,1751.3 L492.9,1707.1 L493.7,1757.7 L494.5,1758.8 L495.3,1782.7 L496.1,1764.5 L496.8,1786.8 L497.6,1757.0 L498.4,1789.1 L499.2,1785.1 L500.0,1777.7 L500.8,1785.2 L501.5,1796.0 L502.3,1755.9 L503.1,1772.1 L503.9,1778.6 L504.7,1802.4 L505.5,1750.7 L506.2,1799.5 L507.0,1758.6 L507.8,1759.5 L508.6,1790.1 L509.4,1793.6 L510.2,1783.2 L510.9,1777.0 L511.7,1746.4 L512.5,1772.9 L513.3,1746.7 L514.1,1779.2 L514.9,1780.0 L515.6,1751.0 L516.4,1732.8 L517.2,1778.0 L518.0,1790.1 L518.8,1768.5 L519.6,1759.2 L520.3,1771.7 L521.1,1784.7 L521.9,1776.4 L522.7,1753.4 L523.5,1754.9 L524.3,1780.7 L525.0,1738.0 L525.8,1765.3 L526.6,1772.9 L527.4,1760.8 L528.2,1773.2 L528.9,1790.0 L529.7,1800.7 L530.5,1796.9 L531.3,1753.6 L532.1,1753.8 L532.9,1803.2 L533.6,1796.6 L534.4,1756.5 L535.2,1780.6 L536.0,1803.2 L536.8,1748.8 L537.6,1769.1 L538.3,1788.5 L539.1,1778.3 L539.9,1751.4 L540.7,1735.9 L541.5,1753.0 L542.3,1750.2 L543.0,1781.0 L543.8,1769.4 L544.6,1753.3 L545.4,1748.0 L546.2,1762.1 L547.0,1762.0 L547.7,1734.2 L548.5,1742.4 L549.3,1737.8 L550.1,1737.4 L550.9,1752.3 L551.7,1761.8 L552.4,1768.2 L553.2,1777.0 L554.0,1763.3 L554.8,1766.2 L555.6,1750.2 L556.4,1749.6 L557.1,1758.8 L557.9,1725.2 L558.7,1785.6 L559.5,1759.3 L560.3,1770.4 L561.1,1796.4 L561.8,1748.8 L562.6,1777.3 L563.4,1767.4 L564.2,1751.6 L565.0,1760.0 L565.7,1780.3 L566.5,1790.0 L567.3,1775.5 L568.1,1766.4 L568.9,1748.0 L569.7,1736.6 L570.4,1754.6 L571.2,1756.6 L572.0,1746.7 L572.8,1771.0 L573.6,1761.6 L574.4,1736.4 L575.1,1765.6 L575.9,1774.0 L576.7,1764.8 L577.5,1765.6 L578.3,1778.7 L579.1,1767.3 L579.8,1769.9 L580.6,1766.5 L581.4,1777.4 L582.2,1757.2 L583.0,1762.4 L583.8,1781.3 L584.5,1759.0 L585.3,1783.5 L586.1,1753.9 L586.9,1766.3 L587.7,1752.3 L588.5,1770.3 L589.2,1788.8 L590.0,1769.1 L590.8,1743.7 L591.6,1751.5 L592.4,1764.6 L593.2,1761.6 L593.9,1761.1 L594.7,1778.7 L595.5,1752.3 L596.3,1749.8 L597.1,1755.4 L597.9,1774.0 L598.6,1782.4 L599.4,1769.2 L600.2,1742.7 L601.0,1770.4 L601.8,1751.0 L602.5,1779.5 L603.3,1782.7 L604.1,1785.1 L604.9,1780.6 L605.7,1770.3 L606.5,1775.5 L607.2,1769.4 L608.0,1742.3 L608.8,1740.6 L609.6,1766.4 L610.4,1771.5 L611.2,1793.4 L611.9,1798.2 L612.7,1759.4 L613.5,1756.5 L614.3,1774.3 L615.1,1785.7 L615.9,1765.2 L616.6,1738.9 L617.4,1756.1 L618.2,1757.0 L619.0,1793.7 L619.8,1775.9 L620.6,1750.6 L621.3,1748.9 L622.1,1766.0 L622.9,1781.0 L623.7,1745.6 L624.5,1744.3 L625.3,1766.6 L626.0,1746.0 L626.8,1752.1 L627.6,1771.2 L628.4,1727.0 L629.2,1793.4 L630.0,1798.6 L630.7,1808.7 L631.5,1797.0 L632.3,1738.3 L633.1,1734.0 L633.9,1736.7 L634.7,1757.2 L635.4,1765.2 L636.2,1736.8 L637.0,1751.1 L637.8,1787.0 L638.6,1796.2 L639.3,1750.9 L640.1,1754.1 L640.9,1744.9 L641.7,1745.5 L642.5,1772.3 L643.3,1779.6 L644.0,1773.7 L644.8,1764.1 L645.6,1775.1 L646.4,1767.6 L647.2,1753.1 L648.0,1737.7 L648.7,1769.5 L649.5,1796.9 L650.3,1779.8 L651.1,1766.2 L651.9,1733.5 L652.7,1757.8 L653.4,1740.4 L654.2,1753.6 L655.0,1743.2 L655.8,1719.6 L656.6,1759.0 L657.4,1763.3 L658.1,1717.8 L658.9,1732.7 L659.7,1762.1 L660.5,1776.0 L661.3,1729.4 L662.1,1742.4 L662.8,1782.5 L663.6,1798.6 L664.4,1779.9 L665.2,1768.5 L666.0,1794.6 L666.8,1752.4 L667.5,1748.0 L668.3,1764.5 L669.1,1752.1 L669.9,1765.3 L670.7,1723.6 L671.5,1741.5 L672.2,1764.4 L673.0,1742.1 L673.8,1780.4 L674.6,1724.3 L675.4,1774.6 L676.2,1725.2 L676.9,1718.3 L677.7,1700.7 L678.5,1772.1 L679.3,1784.1 L680.1,1752.3 L680.8,1775.1 L681.6,1779.9 L682.4,1767.0 L683.2,1768.2 L684.0,1761.5 L684.8,1742.8 L685.5,1731.8 L686.3,1726.2 L687.1,1719.6 L687.9,1734.5 L688.7,1747.4 L689.5,1782.1 L690.2,1744.4 L691.0,1724.9 L691.8,1744.5 L692.6,1747.0 L693.4,1753.1 L694.2,1691.9 L694.9,1740.0 L695.7,1757.6 L696.5,1754.5 L697.3,1733.9 L698.1,1762.7 L698.9,1766.6 L699.6,1764.3 L700.4,1757.0 L701.2,1737.7 L702.0,1741.4 L702.8,1756.2 L703.6,1744.7 L704.3,1783.8 L705.1,1750.5 L705.9,1734.6 L706.7,1758.1 L707.5,1766.8 L708.3,1746.9 L709.0,1782.5 L709.8,1756.8 L710.6,1737.0 L711.4,1728.3 L712.2,1748.6 L713.0,1758.9 L713.7,1722.2 L714.5,1717.2 L715.3,1701.6 L716.1,1713.4 L716.9,1726.1 L717.6,1709.3 L718.4,1706.8 L719.2,1723.2 L720.0,1717.6 L720.8,1693.3 L721.6,1744.7 L722.3,1731.9 L723.1,1710.8 L723.9,1760.9 L724.7,1737.5 L725.5,1774.5 L726.3,1767.9 L727.0,1753.0 L727.8,1753.2 L728.6,1759.7 L729.4,1765.0 L730.2,1767.1 L731.0,1727.5 L731.7,1770.2 L732.5,1745.2 L733.3,1761.3 L734.1,1724.8 L734.9,1745.1 L735.7,1721.8 L736.4,1711.5 L737.2,1718.1 L738.0,1734.0 L738.8,1732.9 L739.6,1681.7 L740.4,1696.2 L741.1,1658.4 L741.9,1634.5 L742.7,1703.7 L743.5,1695.8 L744.3,1661.8 L745.1,1734.1 L745.8,1739.1 L746.6,1703.6 L747.4,1703.6 L748.2,1689.8 L749.0,1711.1 L749.8,1678.3 L750.5,1725.5 L751.3,1670.8 L752.1,1664.8 L752.9,1653.0 L753.7,1677.9 L754.4,1666.1 L755.2,1641.9 L756.0,1675.7 L756.8,1719.7 L757.6,1695.2 L758.4,1690.6 L759.1,1702.0 L759.9,1691.6 L760.7,1721.8 L761.5,1702.1 L762.3,1692.2 L763.1,1749.6 L763.8,1754.9 L764.6,1717.6 L765.4,1715.2 L766.2,1717.5 L767.0,1700.9 L767.8,1703.3 L768.5,1729.5 L769.3,1721.2 L770.1,1705.2 L770.9,1675.7 L771.7,1710.7 L772.5,1677.8 L773.2,1693.7 L774.0,1657.0 L774.8,1598.0 L775.6,1650.7 L776.4,1668.8 L777.2,1673.9 L777.9,1726.3 L778.7,1702.0 L779.5,1679.3 L780.3,1671.2 L781.1,1710.3 L781.9,1689.9 L782.6,1693.3 L783.4,1673.5 L784.2,1722.6 L785.0,1697.4 L785.8,1685.5 L786.6,1688.1 L787.3,1675.7 L788.1,1703.7 L788.9,1698.9 L789.7,1698.6 L790.5,1673.1 L791.2,1695.9 L792.0,1731.7 L792.8,1713.8 L793.6,1663.1 L794.4,1703.6 L795.2,1673.8 L795.9,1666.8 L796.7,1708.7 L797.5,1692.8 L798.3,1705.1 L799.1,1670.9 L799.9,1732.4 L800.6,1681.3 L801.4,1696.4 L802.2,1677.0 L803.0,1700.6 L803.8,1685.0 L804.6,1705.6 L805.3,1692.6 L806.1,1710.4 L806.9,1693.0 L807.7,1726.3 L808.5,1712.7 L809.3,1679.0 L810.0,1686.2 L810.8,1703.1 L811.6,1744.2 L812.4,1713.6 L813.2,1681.2 L814.0,1724.8 L814.7,1673.4 L815.5,1690.2 L816.3,1629.6 L817.1,1665.9 L817.9,1690.5 L818.7,1641.2 L819.4,1661.8 L820.2,1653.6 L821.0,1694.3 L821.8,1681.5 L822.6,1711.5 L823.4,1674.1 L824.1,1709.1 L824.9,1629.5 L825.7,1616.7 L826.5,1674.2 L827.3,1699.6 L828.0,1684.5 L828.8,1732.9 L829.6,1699.9 L830.4,1684.8 L831.2,1759.0 L832.0,1655.5 L832.7,1697.2 L833.5,1706.0 L834.3,1696.9 L835.1,1713.5 L835.9,1655.3 L836.7,1655.3 L837.4,1584.6 L838.2,1656.1 L839.0,1615.5 L839.8,1657.5 L840.6,1733.9 L841.4,1691.5 L842.1,1637.2 L842.9,1656.7 L843.7,1646.8 L844.5,1670.1 L845.3,1610.4 L846.1,1682.1 L846.8,1632.7 L847.6,1653.3 L848.4,1660.0 L849.2,1641.6 L850.0,1630.8 L850.8,1668.3 L851.5,1656.8 L852.3,1656.8 L853.1,1738.8 L853.9,1647.7 L854.7,1700.2 L855.5,1641.9 L856.2,1654.7 L857.0,1662.7 L857.8,1631.0 L858.6,1593.0 L859.4,1612.7 L860.2,1685.6 L860.9,1649.1 L861.7,1704.1 L862.5,1682.4 L863.3,1712.7 L864.1,1640.5 L864.9,1673.8 L865.6,1669.4 L866.4,1686.4 L867.2,1757.9 L868.0,1704.4 L868.8,1678.1 L869.5,1702.8 L870.3,1678.5 L871.1,1673.9 L871.9,1714.7 L872.7,1655.4 L873.5,1686.5 L874.2,1677.5 L875.0,1661.9 L875.8,1707.8 L876.6,1709.7 L877.4,1724.1 L878.2,1760.5 L878.9,1660.4 L879.7,1706.4 L880.5,1653.4 L881.3,1666.7 L882.1,1684.0 L882.9,1667.3 L883.6,1684.2 L884.4,1697.8 L885.2,1683.4 L886.0,1664.3 L886.8,1699.6 L887.6,1700.0 L888.3,1698.7 L889.1,1699.4 L889.9,1677.0 L890.7,1703.7 L891.5,1692.7 L892.3,1680.3 L893.0,1679.7 L893.8,1695.8 L894.6,1705.6 L895.4,1696.0 L896.2,1718.7 L897.0,1694.5 L897.7,1702.1 L898.5,1686.6 L899.3,1693.6 L900.1,1711.0 L900.9,1675.3 L901.7,1671.7 L902.4,1699.7 L903.2,1713.5 L904.0,1715.7 L904.8,1672.6 L905.6,1726.0 L906.3,1740.0 L907.1,1698.0 L907.9,1732.8 L908.7,1702.9 L909.5,1677.5 L910.3,1678.0 L911.0,1718.8 L911.8,1702.7 L912.6,1690.6 L913.4,1701.5 L914.2,1744.3 L915.0,1672.1 L915.7,1711.2 L916.5,1683.5 L917.3,1720.8 L918.1,1690.3 L918.9,1665.0 L919.7,1694.9 L920.4,1682.5 L921.2,1683.1 L922.0,1656.4 L922.8,1677.3 L923.6,1636.3 L924.4,1668.6 L925.1,1666.1 L925.9,1687.7 L926.7,1645.7 L927.5,1647.0 L928.3,1661.7 L929.1,1670.8 L929.8,1663.0 L930.6,1636.6 L931.4,1650.2 L932.2,1642.9 L933.0,1624.0 L933.8,1615.8 L934.5,1648.7 L935.3,1673.2 L936.1,1673.3 L936.9,1626.3 L937.7,1655.0 L938.5,1679.1 L939.2,1703.9 L940.0,1673.5 L940.8,1602.0 L941.6,1705.4 L942.4,1714.6 L943.1,1675.6 L943.9,1686.8 L944.7,1659.1 L945.5,1739.1 L946.3,1719.8 L947.1,1731.0 L947.8,1740.2 L948.6,1756.3 L949.4,1713.4 L950.2,1725.5 L951.0,1717.3 L951.8,1739.6 L952.5,1706.5 L953.3,1695.0 L954.1,1710.2 L954.9,1713.2 L955.7,1722.2 L956.5,1726.5 L957.2,1677.0 L958.0,1739.3 L958.8,1730.2 L959.6,1717.9 L960.4,1719.5 L961.2,1683.6 L961.9,1683.1 L962.7,1732.1 L963.5,1742.8 L964.3,1664.6 L965.1,1732.8 L965.9,1711.8 L966.6,1715.6 L967.4,1748.2 L968.2,1697.5 L969.0,1752.9 L969.8,1718.1 L970.6,1733.3 L971.3,1725.5 L972.1,1683.1 L972.9,1718.3 L973.7,1755.5 L974.5,1727.7 L975.3,1742.8 L976.0,1753.3 L976.8,1767.6 L977.6,1732.9 L978.4,1764.1 L979.2,1730.7 L979.9,1754.6 L980.7,1745.5 L981.5,1721.3 L982.3,1755.0 L983.1,1763.3 L983.9,1750.9 L984.6,1758.5 L985.4,1756.2 L986.2,1755.7 L987.0,1787.3 L987.8,1768.7 L988.6,1743.6 L989.3,1745.2 L990.1,1733.5 L990.9,1711.7 L991.7,1730.0 L992.5,1737.8 L993.3,1735.9 L994.0,1732.2 L994.8,1755.1 L995.6,1733.9 L996.4,1740.3 L997.2,1732.7 L998.0,1724.2 L998.7,1738.8 L999.5,1733.0 L1000.3,1721.4 L1001.1,1733.5 L1001.9,1704.9 L1002.7,1721.5 L1003.4,1758.2 L1004.2,1709.8 L1005.0,1722.8 L1005.8,1722.0 L1006.6,1703.8 L1007.4,1698.2 L1008.1,1692.9 L1008.9,1736.7 L1009.7,1676.6 L1010.5,1709.0 L1011.3,1674.3 L1012.1,1702.0 L1012.8,1753.9 L1013.6,1730.7 L1014.4,1694.3 L1015.2,1693.6 L1016.0,1699.0 L1016.7,1715.3 L1017.5,1701.8 L1018.3,1671.3 L1019.1,1646.0 L1019.9,1712.4 L1020.7,1705.4 L1021.4,1705.6 L1022.2,1730.4 L1023.0,1712.8 L1023.8,1697.4 L1024.6,1690.1 L1025.4,1718.2 L1026.1,1723.6 L1026.9,1709.8 L1027.7,1724.5 L1028.5,1686.0 L1029.3,1690.7 L1030.1,1706.0 L1030.8,1714.2 L1031.6,1703.9 L1032.4,1661.2 L1033.2,1718.2 L1034.0,1653.6 L1034.8,1678.9 L1035.5,1690.2 L1036.3,1693.8 L1037.1,1704.4 L1037.9,1698.1 L1038.7,1709.6 L1039.5,1696.9 L1040.2,1680.6 L1041.0,1660.9 L1041.8,1685.1 L1042.6,1657.7 L1043.4,1699.3 L1044.2,1681.5 L1044.9,1678.3 L1045.7,1685.7 L1046.5,1722.3 L1047.3,1677.8 L1048.1,1676.2 L1048.9,1695.2 L1049.6,1684.1 L1050.4,1693.1 L1051.2,1681.7 L1052.0,1675.0 L1052.8,1728.3 L1053.5,1707.8 L1054.3,1713.7 L1055.1,1694.3 L1055.9,1697.1 L1056.7,1687.4 L1057.5,1657.0 L1058.2,1684.4 L1059.0,1707.1 L1059.8,1675.3 L1060.6,1693.1 L1061.4,1688.4 L1062.2,1709.6 L1062.9,1721.7 L1063.7,1651.4 L1064.5,1654.9 L1065.3,1640.7 L1066.1,1697.9 L1066.9,1698.1 L1067.6,1706.7 L1068.4,1705.6 L1069.2,1692.2 L1070.0,1725.0 L1070.8,1751.5 L1071.6,1741.6 L1072.3,1699.4 L1073.1,1715.1 L1073.9,1725.3 L1074.7,1729.0 L1075.5,1729.6 L1076.3,1746.3 L1077.0,1718.1 L1077.8,1703.3 L1078.6,1736.0 L1079.4,1661.5 L1080.2,1656.0 L1081.0,1667.5 L1081.7,1702.5 L1082.5,1689.9 L1083.3,1706.7 L1084.1,1717.4 L1084.9,1713.3 L1085.7,1717.7 L1086.4,1681.2 L1087.2,1725.8 L1088.0,1717.6 L1088.8,1714.5 L1089.6,1707.8 L1090.4,1747.0 L1091.1,1716.9 L1091.9,1687.6 L1092.7,1726.8 L1093.5,1735.3 L1094.3,1712.5 L1095.0,1726.2 L1095.8,1748.3 L1096.6,1727.0 L1097.4,1737.2 L1098.2,1744.1 L1099.0,1731.8 L1099.7,1745.7 L1100.5,1774.4 L1101.3,1731.3 L1102.1,1744.2 L1102.9,1718.8 L1103.7,1729.4 L1104.4,1727.6 L1105.2,1702.4 L1106.0,1713.0 L1106.8,1712.8 L1107.6,1696.8 L1108.4,1694.5 L1109.1,1681.7 L1109.9,1717.2 L1110.7,1706.4 L1111.5,1732.5 L1112.3,1700.8 L1113.1,1760.1 L1113.8,1750.3 L1114.6,1726.9 L1115.4,1739.9 L1116.2,1737.0 L1117.0,1706.1 L1117.8,1714.0 L1118.5,1719.6 L1119.3,1715.8 L1120.1,1730.6 L1120.9,1702.8 L1121.7,1725.7 L1122.5,1716.1 L1123.2,1725.1 L1124.0,1721.8 L1124.8,1745.7 L1125.6,1715.5 L1126.4,1691.6 L1127.2,1740.7 L1127.9,1757.1 L1128.7,1694.7 L1129.5,1692.3 L1130.3,1719.5 L1131.1,1723.3 L1131.8,1730.6 L1132.6,1718.3 L1133.4,1705.7 L1134.2,1744.9 L1135.0,1687.4 L1135.8,1749.8 L1136.5,1720.7 L1137.3,1739.8 L1138.1,1698.7 L1138.9,1689.7 L1139.7,1756.1 L1140.5,1748.5 L1141.2,1709.5 L1142.0,1734.2 L1142.8,1724.4 L1143.6,1663.8 L1144.4,1701.5 L1145.2,1707.1 L1145.9,1698.4 L1146.7,1711.3 L1147.5,1692.5 L1148.3,1731.0 L1149.1,1665.1 L1149.9,1701.4 L1150.6,1692.2 L1151.4,1655.1 L1152.2,1673.7 L1153.0,1693.5 L1153.8,1691.0 L1154.6,1682.4 L1155.3,1698.0 L1156.1,1676.0 L1156.9,1703.8 L1157.7,1678.7 L1158.5,1686.5 L1159.3,1716.2 L1160.0,1703.0 L1160.8,1729.0 L1161.6,1709.9 L1162.4,1668.9 L1163.2,1709.3 L1164.0,1676.6 L1164.7,1701.5 L1165.5,1732.6 L1166.3,1724.1" stroke="#2d4e68"/>
<path d="M149.2,2022.0 L150.0,1975.7 L150.8,1945.8 L151.5,1928.7 L152.3,1922.8 L153.1,1880.4 L153.9,1899.5 L154.7,1875.7 L155.5,1906.4 L156.2,1887.3 L157.0,1853.7 L157.8,1863.9 L158.6,1867.0 L159.4,1858.3 L160.2,1884.0 L160.9,1871.0 L161.7,1872.7 L162.5,1874.7 L163.3,1861.1 L164.1,1859.5 L164.9,1821.8 L165.6,1823.6 L166.4,1866.5 L167.2,1873.1 L168.0,1861.7 L168.8,1836.1 L169.6,1850.4 L170.3,1862.7 L171.1,1860.9 L171.9,1829.4 L172.7,1844.4 L173.5,1799.2 L174.3,1810.7 L175.0,1841.1 L175.8,1832.3 L176.6,1868.6 L177.4,1856.6 L178.2,1834.7 L179.0,1842.1 L179.7,1871.0 L180.5,1817.0 L181.3,1840.1 L182.1,1820.0 L182.9,1829.2 L183.7,1811.2 L184.4,1793.5 L185.2,1803.2 L186.0,1772.3 L186.8,1793.8 L187.6,1816.3 L188.3,1828.3 L189.1,1782.4 L189.9,1809.6 L190.7,1781.0 L191.5,1815.1 L192.3,1819.8 L193.0,1787.2 L193.8,1775.9 L194.6,1786.3 L195.4,1796.1 L196.2,1781.9 L197.0,1788.3 L197.7,1797.9 L198.5,1798.7 L199.3,1762.3 L200.1,1782.1 L200.9,1801.5 L201.7,1815.9 L202.4,1789.8 L203.2,1788.4 L204.0,1791.7 L204.8,1773.4 L205.6,1796.9 L206.4,1759.7 L207.1,1779.3 L207.9,1763.9 L208.7,1810.9 L209.5,1814.3 L210.3,1774.5 L211.1,1759.6 L211.8,1784.5 L212.6,1714.3 L213.4,1775.7 L214.2,1748.4 L215.0,1743.6 L215.8,1794.7 L216.5,1775.3 L217.3,1778.0 L218.1,1733.8 L218.9,1763.5 L219.7,1760.7 L220.5,1766.4 L221.2,1786.4 L222.0,1768.2 L222.8,1793.8 L223.6,1799.2 L224.4,1773.3 L225.1,1736.1 L225.9,1776.7 L226.7,1770.9 L227.5,1756.8 L228.3,1770.7 L229.1,1767.8 L229.8,1774.7 L230.6,1749.5 L231.4,1752.9 L232.2,1804.0 L233.0,1777.7 L233.8,1765.5 L234.5,1750.4 L235.3,1738.9 L236.1,1730.0 L236.9,1724.8 L237.7,1726.9 L238.5,1755.9 L239.2,1737.9 L240.0,1757.7 L240.8,1772.2 L241.6,1760.8 L242.4,1738.5 L243.2,1690.6 L243.9,1733.0 L244.7,1712.3 L245.5,1749.9 L246.3,1719.3 L247.1,1725.5 L247.9,1722.7 L248.6,1714.3 L249.4,1710.8 L250.2,1687.0 L251.0,1737.8 L251.8,1714.6 L252.6,1748.9 L253.3,1734.8 L254.1,1724.2 L254.9,1742.3 L255.7,1734.5 L256.5,1750.0 L257.3,1731.3 L258.0,1739.2 L258.8,1701.0 L259.6,1710.5 L260.4,1701.3 L261.2,1738.9 L262.0,1735.7 L262.7,1752.4 L263.5,1745.6 L264.3,1777.9 L265.1,1745.4 L265.9,1745.7 L266.6,1762.4 L267.4,1762.5 L268.2,1733.3 L269.0,1709.7 L269.8,1757.4 L270.6,1743.7 L271.3,1761.0 L272.1,1754.1 L272.9,1750.2 L273.7,1726.0 L274.5,1743.6 L275.3,1713.1 L276.0,1704.2 L276.8,1689.9 L277.6,1716.6 L278.4,1714.0 L279.2,1754.7 L280.0,1736.0 L280.7,1744.2 L281.5,1696.5 L282.3,1714.8 L283.1,1729.3 L283.9,1733.7 L284.7,1687.5 L285.4,1689.8 L286.2,1735.3 L287.0,1751.4 L287.8,1752.5 L288.6,1721.7 L289.4,1746.1 L290.1,1759.0 L290.9,1773.8 L291.7,1762.0 L292.5,1737.3 L293.3,1761.7 L294.1,1742.2 L294.8,1751.7 L295.6,1741.5 L296.4,1751.6 L297.2,1736.5 L298.0,1737.9 L298.8,1726.1 L299.5,1727.2 L300.3,1737.4 L301.1,1734.0 L301.9,1728.8 L302.7,1746.4 L303.4,1736.9 L304.2,1696.3 L305.0,1678.6 L305.8,1711.7 L306.6,1755.9 L307.4,1727.0 L308.1,1713.6 L308.9,1754.1 L309.7,1742.6 L310.5,1669.5 L311.3,1673.6 L312.1,1712.7 L312.8,1756.6 L313.6,1732.2 L314.4,1735.9 L315.2,1709.6 L316.0,1713.0 L316.8,1700.5 L317.5,1731.4 L318.3,1726.2 L319.1,1707.0 L319.9,1729.5 L320.7,1722.7 L321.5,1673.4 L322.2,1725.9 L323.0,1727.9 L323.8,1730.1 L324.6,1701.3 L325.4,1719.7 L326.2,1720.3 L326.9,1739.8 L327.7,1737.6 L328.5,1757.8 L329.3,1763.3 L330.1,1747.1 L330.9,1685.2 L331.6,1747.2 L332.4,1709.8 L333.2,1710.0 L334.0,1714.4 L334.8,1701.7 L335.6,1688.5 L336.3,1703.7 L337.1,1691.2 L337.9,1682.5 L338.7,1704.5 L339.5,1718.2 L340.2,1670.5 L341.0,1731.7 L341.8,1695.1 L342.6,1735.3 L343.4,1657.4 L344.2,1711.9 L344.9,1745.3 L345.7,1702.1 L346.5,1689.3 L347.3,1669.5 L348.1,1690.9 L348.9,1705.3 L349.6,1683.5 L350.4,1709.8 L351.2,1726.9 L352.0,1671.8 L352.8,1700.9 L353.6,1698.2 L354.3,1711.1 L355.1,1692.6 L355.9,1692.2 L356.7,1733.0 L357.5,1716.4 L358.3,1687.7 L359.0,1720.9 L359.8,1667.4 L360.6,1672.5 L361.4,1692.0 L362.2,1744.3 L363.0,1648.0 L363.7,1661.9 L364.5,1740.4 L365.3,1699.9 L366.1,1694.9 L366.9,1739.2 L367.7,1670.2 L368.4,1694.9 L369.2,1686.9 L370.0,1721.1 L370.8,1727.8 L371.6,1689.2 L372.4,1659.7 L373.1,1674.5 L373.9,1741.8 L374.7,1715.9 L375.5,1684.7 L376.3,1650.9 L377.0,1705.1 L377.8,1707.2 L378.6,1668.7 L379.4,1653.8 L380.2,1694.2 L381.0,1734.2 L381.7,1724.3 L382.5,1654.4 L383.3,1690.0 L384.1,1733.7 L384.9,1719.3 L385.7,1709.1 L386.4,1737.8 L387.2,1757.7 L388.0,1736.4 L388.8,1723.6 L389.6,1734.3 L390.4,1736.2 L391.1,1731.8 L391.9,1725.6 L392.7,1766.3 L393.5,1783.8 L394.3,1725.5 L395.1,1729.3 L395.8,1720.4 L396.6,1727.2 L397.4,1749.9 L398.2,1775.0 L399.0,1758.5 L399.8,1723.1 L400.5,1744.5 L401.3,1734.1 L402.1,1731.0 L402.9,1688.7 L403.7,1679.9 L404.5,1719.5 L405.2,1740.3 L406.0,1783.3 L406.8,1748.5 L407.6,1739.4 L408.4,1705.7 L409.2,1711.1 L409.9,1770.8 L410.7,1700.2 L411.5,1715.8 L412.3,1750.5 L413.1,1764.3 L413.8,1776.7 L414.6,1764.0 L415.4,1740.4 L416.2,1747.4 L417.0,1720.0 L417.8,1734.9 L418.5,1729.7 L419.3,1740.2 L420.1,1767.5 L420.9,1734.8 L421.7,1700.7 L422.5,1767.1 L423.2,1739.3 L424.0,1711.1 L424.8,1692.8 L425.6,1728.4 L426.4,1716.2 L427.2,1733.7 L427.9,1727.0 L428.7,1720.7 L429.5,1693.8 L430.3,1738.2 L431.1,1746.6 L431.9,1735.2 L432.6,1710.8 L433.4,1688.6 L434.2,1701.1 L435.0,1712.0 L435.8,1723.4 L436.6,1694.1 L437.3,1688.6 L438.1,1646.6 L438.9,1671.3 L439.7,1678.4 L440.5,1645.7 L441.3,1626.7 L442.0,1690.8 L442.8,1660.0 L443.6,1672.5 L444.4,1693.7 L445.2,1733.4 L446.0,1661.3 L446.7,1653.0 L447.5,1702.8 L448.3,1732.7 L449.1,1718.0 L449.9,1716.4 L450.6,1780.2 L451.4,1796.1 L452.2,1723.9 L453.0,1724.0 L453.8,1766.6 L454.6,1787.4 L455.3,1802.3 L456.1,1767.1 L456.9,1765.4 L457.7,1783.6 L458.5,1798.1 L459.3,1770.1 L460.0,1751.6 L460.8,1786.3 L461.6,1829.3 L462.4,1809.7 L463.2,1811.3 L464.0,1821.4 L464.7,1791.0 L465.5,1823.2 L466.3,1812.3 L467.1,1824.6 L467.9,1810.7 L468.7,1810.4 L469.4,1813.4 L470.2,1821.5 L471.0,1788.9 L471.8,1823.8 L472.6,1769.9 L473.4,1805.1 L474.1,1832.7 L474.9,1784.8 L475.7,1790.7 L476.5,1775.5 L477.3,1809.4 L478.1,1783.2 L478.8,1821.5 L479.6,1782.1 L480.4,1851.3 L481.2,1816.2 L482.0,1836.8 L482.8,1799.9 L483.5,1839.9 L484.3,1844.1 L485.1,1842.4 L485.9,1847.3 L486.7,1791.6 L487.5,1824.8 L488.2,1833.8 L489.0,1793.5 L489.8,1810.3 L490.6,1831.4 L491.4,1842.2 L492.1,1800.3 L492.9,1798.1 L493.7,1814.0 L494.5,1818.8 L495.3,1837.5 L496.1,1799.5 L496.8,1794.1 L497.6,1788.6 L498.4,1805.7 L499.2,1811.0 L500.0,1812.5 L500.8,1812.0 L501.5,1827.7 L502.3,1821.4 L503.1,1838.7 L503.9,1824.0 L504.7,1824.1 L505.5,1770.9 L506.2,1802.0 L507.0,1852.4 L507.8,1816.7 L508.6,1826.7 L509.4,1822.0 L510.2,1812.2 L510.9,1811.3 L511.7,1835.4 L512.5,1829.7 L513.3,1828.4 L514.1,1823.9 L514.9,1828.8 L515.6,1810.2 L516.4,1814.3 L517.2,1848.6 L518.0,1843.8 L518.8,1831.1 L519.6,1829.5 L520.3,1809.3 L521.1,1841.9 L521.9,1830.8 L522.7,1846.5 L523.5,1809.0 L524.3,1794.6 L525.0,1802.7 L525.8,1796.8 L526.6,1825.1 L527.4,1835.1 L528.2,1809.6 L528.9,1827.2 L529.7,1819.5 L530.5,1843.3 L531.3,1821.9 L532.1,1828.0 L532.9,1829.5 L533.6,1827.6 L534.4,1820.0 L535.2,1835.5 L536.0,1800.6 L536.8,1828.2 L537.6,1820.2 L538.3,1816.5 L539.1,1827.1 L539.9,1806.9 L540.7,1850.8 L541.5,1849.1 L542.3,1821.4 L543.0,1819.9 L543.8,1838.8 L544.6,1823.5 L545.4,1844.1 L546.2,1804.7 L547.0,1798.3 L547.7,1852.5 L548.5,1813.3 L549.3,1802.3 L550.1,1836.9 L550.9,1765.6 L551.7,1811.6 L552.4,1796.4 L553.2,1778.8 L554.0,1824.6 L554.8,1838.4 L555.6,1812.4 L556.4,1813.4 L557.1,1822.5 L557.9,1811.1 L558.7,1829.7 L559.5,1796.0 L560.3,1836.0 L561.1,1824.9 L561.8,1828.1 L562.6,1857.3 L563.4,1865.9 L564.2,1847.6 L565.0,1824.0 L565.7,1809.7 L566.5,1828.6 L567.3,1823.6 L568.1,1871.7 L568.9,1822.2 L569.7,1805.7 L570.4,1795.8 L571.2,1814.3 L572.0,1823.9 L572.8,1805.3 L573.6,1791.4 L574.4,1861.7 L575.1,1810.9 L575.9,1807.6 L576.7,1832.0 L577.5,1838.6 L578.3,1829.9 L579.1,1818.7 L579.8,1818.4 L580.6,1835.0 L581.4,1816.1 L582.2,1783.4 L583.0,1788.7 L583.8,1807.6 L584.5,1816.0 L585.3,1833.8 L586.1,1810.9 L586.9,1822.8 L587.7,1814.4 L588.5,1827.9 L589.2,1857.2 L590.0,1807.5 L590.8,1819.0 L591.6,1811.6 L592.4,1853.2 L593.2,1857.2 L593.9,1851.4 L594.7,1824.7 L595.5,1849.2 L596.3,1801.9 L597.1,1825.6 L597.9,1843.8 L598.6,1812.1 L599.4,1817.8 L600.2,1851.2 L601.0,1816.5 L601.8,1852.0 L602.5,1826.3 L603.3,1819.7 L604.1,1820.7 L604.9,1820.7 L605.7,1778.6 L606.5,1827.9 L607.2,1828.9 L608.0,1799.8 L608.8,1772.9 L609.6,1823.6 L610.4,1788.9 L611.2,1828.5 L611.9,1802.2 L612.7,1780.7 L613.5,1824.1 L614.3,1810.5 L615.1,1805.1 L615.9,1812.1 L616.6,1814.1 L617.4,1805.4 L618.2,1827.0 L619.0,1818.5 L619.8,1852.2 L620.6,1827.9 L621.3,1780.7 L622.1,1826.7 L622.9,1788.0 L623.7,1810.3 L624.5,1795.1 L625.3,1818.5 L626.0,1782.3 L626.8,1819.8 L627.6,1838.3 L628.4,1799.7 L629.2,1793.5 L630.0,1763.3 L630.7,1785.3 L631.5,1823.5 L632.3,1811.6 L633.1,1787.9 L633.9,1802.6 L634.7,1796.1 L635.4,1837.8 L636.2,1808.6 L637.0,1827.6 L637.8,1852.0 L638.6,1815.5 L639.3,1822.6 L640.1,1857.0 L640.9,1825.6 L641.7,1848.2 L642.5,1853.1 L643.3,1816.7 L644.0,1825.8 L644.8,1808.7 L645.6,1810.6 L646.4,1793.8 L647.2,1836.7 L648.0,1831.0 L648.7,1844.8 L649.5,1799.0 L650.3,1837.5 L651.1,1845.9 L651.9,1812.6 L652.7,1781.6 L653.4,1827.3 L654.2,1803.8 L655.0,1781.7 L655.8,1811.0 L656.6,1812.0 L657.4,1778.7 L658.1,1793.1 L658.9,1804.5 L659.7,1843.8 L660.5,1771.5 L661.3,1769.2 L662.1,1783.8 L662.8,1796.9 L663.6,1793.9 L664.4,1799.4 L665.2,1811.2 L666.0,1776.3 L666.8,1793.2 L667.5,1805.2 L668.3,1770.3 L669.1,1745.4 L669.9,1796.9 L670.7,1764.6 L671.5,1757.4 L672.2,1729.9 L673.0,1705.6 L673.8,1757.8 L674.6,1744.6 L675.4,1740.8 L676.2,1754.2 L676.9,1729.3 L677.7,1730.9 L678.5,1748.3 L679.3,1745.8 L680.1,1734.6 L680.8,1702.9 L681.6,1700.1 L682.4,1725.4 L683.2,1748.4 L684.0,1715.8 L684.8,1753.5 L685.5,1715.3 L686.3,1726.4 L687.1,1735.7 L687.9,1693.3 L688.7,1708.5 L689.5,1712.4 L690.2,1740.4 L691.0,1748.9 L691.8,1702.2 L692.6,1697.2 L693.4,1702.5 L694.2,1731.7 L694.9,1737.0 L695.7,1756.7 L696.5,1692.8 L697.3,1722.4 L698.1,1746.9 L698.9,1723.7 L699.6,1716.4 L700.4,1715.8 L701.2,1692.0 L702.0,1715.2 L702.8,1713.4 L703.6,1680.7 L704.3,1744.4 L705.1,1687.6 L705.9,1723.9 L706.7,1704.1 L707.5,1718.9 L708.3,1742.0 L709.0,1730.6 L709.8,1743.7 L710.6,1713.5 L711.4,1713.6 L712.2,1722.4 L713.0,1732.8 L713.7,1729.8 L714.5,1696.2 L715.3,1710.6 L716.1,1718.2 L716.9,1698.9 L717.6,1685.4 L718.4,1722.4 L719.2,1765.1 L720.0,1695.9 L720.8,1718.0 L721.6,1716.6 L722.3,1725.1 L723.1,1717.2 L723.9,1738.4 L724.7,1732.1 L725.5,1714.5 L726.3,1719.5 L727.0,1753.7 L727.8,1744.9 L728.6,1699.3 L729.4,1704.6 L730.2,1702.7 L731.0,1720.7 L731.7,1709.3 L732.5,1755.8 L733.3,1740.4 L734.1,1705.0 L734.9,1668.8 L735.7,1687.7 L736.4,1719.3 L737.2,1673.0 L738.0,1724.9 L738.8,1730.4 L739.6,1711.9 L740.4,1709.1 L741.1,1742.7 L741.9,1739.1 L742.7,1731.8 L743.5,1712.5 L744.3,1692.9 L745.1,1699.5 L745.8,1680.3 L746.6,1718.4 L747.4,1728.5 L748.2,1726.8 L749.0,1738.8 L749.8,1722.1 L750.5,1724.6 L751.3,1734.9 L752.1,1759.2 L752.9,1743.0 L753.7,1714.2 L754.4,1756.8 L755.2,1741.0 L756.0,1757.5 L756.8,1755.3 L757.6,1723.7 L758.4,1752.8 L759.1,1793.6 L759.9,1812.0 L760.7,1766.2 L761.5,1765.9 L762.3,1770.8 L763.1,1699.8 L763.8,1727.3 L764.6,1685.4 L765.4,1720.3 L766.2,1732.8 L767.0,1715.1 L767.8,1704.1 L768.5,1684.6 L769.3,1673.7 L770.1,1733.0 L770.9,1745.5 L771.7,1748.9 L772.5,1685.6 L773.2,1694.8 L774.0,1703.7 L774.8,1679.4 L775.6,1676.8 L776.4,1644.3 L777.2,1674.0 L777.9,1698.9 L778.7,1708.4 L779.5,1712.3 L780.3,1730.5 L781.1,1707.8 L781.9,1740.7 L782.6,1702.7 L783.4,1639.5 L784.2,1727.2 L785.0,1709.5 L785.8,1645.8 L786.6,1703.1 L787.3,1716.3 L788.1,1668.8 L788.9,1671.0 L789.7,1632.4 L790.5,1686.9 L791.2,1677.9 L792.0,1662.3 L792.8,1686.6 L793.6,1680.9 L794.4,1716.6 L795.2,1746.7 L795.9,1660.4 L796.7,1684.5 L797.5,1745.9 L798.3,1755.0 L799.1,1731.9 L799.9,1732.4 L800.6,1711.7 L801.4,1662.9 L802.2,1587.0 L803.0,1678.4 L803.8,1695.7 L804.6,1677.4 L805.3,1687.9 L806.1,1633.6 L806.9,1685.9 L807.7,1646.3 L808.5,1669.5 L809.3,1635.2 L810.0,1681.7 L810.8,1656.1 L811.6,1682.0 L812.4,1808.0 L813.2,1662.6 L814.0,1704.4 L814.7,1738.0 L815.5,1737.7 L816.3,1707.6 L817.1,1720.8 L817.9,1715.0 L818.7,1672.0 L819.4,1722.5 L820.2,1733.8 L821.0,1668.5 L821.8,1671.1 L822.6,1672.2 L823.4,1716.5 L824.1,1723.1 L824.9,1708.8 L825.7,1697.9 L826.5,1681.7 L827.3,1690.1 L828.0,1695.6 L828.8,1697.0 L829.6,1685.5 L830.4,1690.5 L831.2,1689.6 L832.0,1701.5 L832.7,1727.4 L833.5,1718.3 L834.3,1742.2 L835.1,1674.5 L835.9,1726.1 L836.7,1671.3 L837.4,1696.1 L838.2,1711.0 L839.0,1699.5 L839.8,1651.9 L840.6,1712.9 L841.4,1700.0 L842.1,1692.6 L842.9,1742.0 L843.7,1727.6 L844.5,1681.9 L845.3,1704.9 L846.1,1685.0 L846.8,1710.2 L847.6,1696.2 L848.4,1744.7 L849.2,1716.9 L850.0,1728.5 L850.8,1701.0 L851.5,1730.3 L852.3,1751.1 L853.1,1710.2 L853.9,1715.4 L854.7,1713.0 L855.5,1670.7 L856.2,1692.5 L857.0,1744.0 L857.8,1749.8 L858.6,1730.1 L859.4,1747.9 L860.2,1747.2 L860.9,1737.5 L861.7,1740.4 L862.5,1765.6 L863.3,1741.5 L864.1,1765.7 L864.9,1694.7 L865.6,1696.2 L866.4,1693.9 L867.2,1740.3 L868.0,1741.7 L868.8,1738.0 L869.5,1705.5 L870.3,1769.4 L871.1,1759.4 L871.9,1735.2 L872.7,1742.5 L873.5,1730.1 L874.2,1732.7 L875.0,1683.1 L875.8,1699.9 L876.6,1708.7 L877.4,1727.3 L878.2,1710.1 L878.9,1691.5 L879.7,1714.5 L880.5,1709.1 L881.3,1715.3 L882.1,1721.4 L882.9,1691.9 L883.6,1723.3 L884.4,1737.1 L885.2,1721.0 L886.0,1685.9 L886.8,1695.7 L887.6,1717.0 L888.3,1732.5 L889.1,1738.0 L889.9,1743.3 L890.7,1726.4 L891.5,1709.4 L892.3,1723.8 L893.0,1737.9 L893.8,1689.8 L894.6,1736.0 L895.4,1719.2 L896.2,1720.1 L897.0,1708.7 L897.7,1726.8 L898.5,1744.3 L899.3,1730.0 L900.1,1723.0 L900.9,1700.0 L901.7,1725.8 L902.4,1690.7 L903.2,1721.4 L904.0,1730.9 L904.8,1747.1 L905.6,1760.3 L906.3,1788.6 L907.1,1788.1 L907.9,1720.4 L908.7,1723.0 L909.5,1738.9 L910.3,1779.6 L911.0,1726.3 L911.8,1735.9 L912.6,1736.7 L913.4,1691.0 L914.2,1761.6 L915.0,1769.4 L915.7,1757.7 L916.5,1724.9 L917.3,1677.0 L918.1,1742.6 L918.9,1741.0 L919.7,1721.1 L920.4,1759.6 L921.2,1757.0 L922.0,1731.3 L922.8,1732.6 L923.6,1734.3 L924.4,1768.4 L925.1,1749.8 L925.9,1724.2 L926.7,1727.2 L927.5,1709.7 L928.3,1726.0 L929.1,1725.6 L929.8,1749.2 L930.6,1707.6 L931.4,1689.9 L932.2,1725.1 L933.0,1714.4 L933.8,1705.4 L934.5,1698.5 L935.3,1724.4 L936.1,1720.9 L936.9,1712.5 L937.7,1714.4 L938.5,1732.9 L939.2,1694.0 L940.0,1733.2 L940.8,1711.1 L941.6,1700.0 L942.4,1710.4 L943.1,1725.0 L943.9,1724.1 L944.7,1746.3 L945.5,1733.4 L946.3,1732.4 L947.1,1730.2 L947.8,1763.4 L948.6,1732.8 L949.4,1740.6 L950.2,1713.1 L951.0,1700.7 L951.8,1754.2 L952.5,1775.2 L953.3,1737.7 L954.1,1742.1 L954.9,1754.3 L955.7,1741.2 L956.5,1704.8 L957.2,1764.3 L958.0,1750.7 L958.8,1760.1 L959.6,1753.8 L960.4,1725.6 L961.2,1735.3 L961.9,1740.3 L962.7,1746.5 L963.5,1721.6 L964.3,1742.5 L965.1,1743.9 L965.9,1758.5 L966.6,1737.2 L967.4,1741.8 L968.2,1723.4 L969.0,1740.7 L969.8,1735.1 L970.6,1731.4 L971.3,1703.9 L972.1,1706.8 L972.9,1732.4 L973.7,1669.7 L974.5,1720.2 L975.3,1682.3 L976.0,1710.3 L976.8,1732.7 L977.6,1709.4 L978.4,1719.2 L979.2,1731.2 L979.9,1737.3 L980.7,1720.5 L981.5,1750.1 L982.3,1758.7 L983.1,1743.6 L983.9,1761.7 L984.6,1752.1 L985.4,1745.2 L986.2,1747.6 L987.0,1754.3 L987.8,1732.7 L988.6,1727.0 L989.3,1754.4 L990.1,1771.9 L990.9,1756.6 L991.7,1738.4 L992.5,1748.3 L993.3,1739.8 L994.0,1749.6 L994.8,1744.1 L995.6,1758.6 L996.4,1751.2 L997.2,1754.5 L998.0,1766.4 L998.7,1738.8 L999.5,1711.6 L1000.3,1752.7 L1001.1,1722.8 L1001.9,1741.1 L1002.7,1724.2 L1003.4,1753.5 L1004.2,1726.2 L1005.0,1759.8 L1005.8,1720.6 L1006.6,1734.0 L1007.4,1761.5 L1008.1,1741.7 L1008.9,1706.8 L1009.7,1709.7 L1010.5,1733.3 L1011.3,1708.4 L1012.1,1686.1 L1012.8,1666.4 L1013.6,1715.9 L1014.4,1722.9 L1015.2,1740.8 L1016.0,1727.6 L1016.7,1701.5 L1017.5,1712.0 L1018.3,1723.5 L1019.1,1726.6 L1019.9,1714.7 L1020.7,1763.2 L1021.4,1725.1 L1022.2,1725.6 L1023.0,1715.1 L1023.8,1732.0 L1024.6,1733.4 L1025.4,1738.3 L1026.1,1716.4 L1026.9,1733.1 L1027.7,1722.5 L1028.5,1727.6 L1029.3,1734.9 L1030.1,1742.1 L1030.8,1714.7 L1031.6,1766.0 L1032.4,1679.7 L1033.2,1731.4 L1034.0,1697.4 L1034.8,1712.1 L1035.5,1716.2 L1036.3,1725.0 L1037.1,1674.2 L1037.9,1691.4 L1038.7,1720.8 L1039.5,1730.5 L1040.2,1731.3 L1041.0,1725.4 L1041.8,1715.4 L1042.6,1692.8 L1043.4,1712.0 L1044.2,1744.4 L1044.9,1740.8 L1045.7,1746.9 L1046.5,1735.8 L1047.3,1714.5 L1048.1,1728.3 L1048.9,1745.5 L1049.6,1727.8 L1050.4,1683.7 L1051.2,1708.5 L1052.0,1732.6 L1052.8,1724.5 L1053.5,1681.5 L1054.3,1721.2 L1055.1,1721.8 L1055.9,1737.3 L1056.7,1740.1 L1057.5,1750.0 L1058.2,1685.2 L1059.0,1722.6 L1059.8,1758.6 L1060.6,1712.3 L1061.4,1703.5 L1062.2,1729.1 L1062.9,1710.1 L1063.7,1709.5 L1064.5,1714.6 L1065.3,1744.9 L1066.1,1728.3 L1066.9,1723.3 L1067.6,1751.7 L1068.4,1725.7 L1069.2,1744.2 L1070.0,1726.8 L1070.8,1718.2 L1071.6,1734.3 L1072.3,1671.4 L1073.1,1722.9 L1073.9,1716.0 L1074.7,1722.9 L1075.5,1668.3 L1076.3,1724.1 L1077.0,1692.1 L1077.8,1723.4 L1078.6,1713.5 L1079.4,1731.1 L1080.2,1738.8 L1081.0,1717.8 L1081.7,1742.8 L1082.5,1699.3 L1083.3,1698.5 L1084.1,1725.2 L1084.9,1721.6 L1085.7,1713.3 L1086.4,1742.3 L1087.2,1742.5 L1088.0,1729.3 L1088.8,1732.8 L1089.6,1723.6 L1090.4,1747.8 L1091.1,1721.4 L1091.9,1682.5 L1092.7,1681.0 L1093.5,1712.3 L1094.3,1726.4 L1095.0,1722.9 L1095.8,1741.7 L1096.6,1732.3 L1097.4,1693.5 L1098.2,1715.1 L1099.0,1716.6 L1099.7,1730.1 L1100.5,1708.2 L1101.3,1724.5 L1102.1,1747.9 L1102.9,1720.9 L1103.7,1720.5 L1104.4,1731.6 L1105.2,1725.3 L1106.0,1703.1 L1106.8,1709.6 L1107.6,1691.8 L1108.4,1694.6 L1109.1,1727.8 L1109.9,1726.3 L1110.7,1707.5 L1111.5,1710.1 L1112.3,1736.4 L1113.1,1754.4 L1113.8,1745.8 L1114.6,1750.1 L1115.4,1718.3 L1116.2,1694.6 L1117.0,1699.3 L1117.8,1730.0 L1118.5,1737.6 L1119.3,1716.1 L1120.1,1712.5 L1120.9,1716.8 L1121.7,1722.4 L1122.5,1712.6 L1123.2,1739.4 L1124.0,1706.2 L1124.8,1741.2 L1125.6,1726.0 L1126.4,1706.8 L1127.2,1718.7 L1127.9,1704.6 L1128.7,1735.4 L1129.5,1732.5 L1130.3,1706.8 L1131.1,1736.8 L1131.8,1733.8 L1132.6,1733.1 L1133.4,1727.7 L1134.2,1694.2 L1135.0,1704.6 L1135.8,1697.9 L1136.5,1729.4 L1137.3,1712.9 L1138.1,1731.0 L1138.9,1728.2 L1139.7,1742.6 L1140.5,1718.7 L1141.2,1722.4 L1142.0,1709.6 L1142.8,1707.2 L1143.6,1683.3 L1144.4,1711.2 L1145.2,1704.4 L1145.9,1718.6 L1146.7,1712.2 L1147.5,1751.1 L1148.3,1718.3 L1149.1,1727.1 L1149.9,1753.5 L1150.6,1778.3 L1151.4,1746.5 L1152.2,1718.8 L1153.0,1710.0 L1153.8,1733.3 L1154.6,1730.2 L1155.3,1725.5 L1156.1,1735.1 L1156.9,1738.0 L1157.7,1721.4 L1158.5,1713.8 L1159.3,1708.0 L1160.0,1683.6 L1160.8,1702.8 L1161.6,1704.0 L1162.4,1709.5 L1163.2,1720.1 L1164.0,1725.1 L1164.7,1726.1 L1165.5,1716.1 L1166.3,1730.5" stroke="#7c1a37"/>
</g>
<path d="M149.2,1978.33h10 M149.2,1929.96h10 M149.2,1881.59h10 M149.2,1833.22h10 M149.2,1784.85h10 M149.2,1736.48h10 M149.2,1688.11h10 M149.2,1639.74h10 M149.2,1591.37h10 M1166.3,1971.42h-10 M1166.3,1916.14h-10 M1166.3,1860.86h-10 M1166.3,1805.58h-10 M1166.3,1750.30h-10 M1166.3,1695.02h-10 M1166.3,1639.74h-10 M1166.3,1584.46h-10 M352.62,2026.7v-10 M352.62,1543.0v10 M556.04,2026.7v-10 M556.04,1543.0v10 M759.46,2026.7v-10 M759.46,1543.0v10 M962.88,2026.7v-10 M962.88,1543.0v10" stroke="#8a8a8a" stroke-width="1.6" fill="none"/>
<rect x="149.2" y="1543.0" width="1017.10" height="483.70" fill="none" stroke="#707070" stroke-width="2.2"/>
<text x="76.16" y="1988.95" font-family='"Liberation Sans",sans-serif' font-size="30" fill="#5e5e5e" textLength="64.23" lengthAdjust="spacingAndGlyphs">0.25</text>
<text x="76.06" y="1940.58" font-family='"Liberation Sans",sans-serif' font-size="30" fill="#5e5e5e" textLength="64.23" lengthAdjust="spacingAndGlyphs">0.50</text>
<text x="76.16" y="1892.21" font-family='"Liberation Sans",sans-serif' font-size="30" fill="#5e5e5e" textLength="64.23" lengthAdjust="spacingAndGlyphs">0.75</text>
<text x="76.06" y="1843.84" font-family='"Liberation Sans",sans-serif' font-size="30" fill="#5e5e5e" textLength="64.23" lengthAdjust="spacingAndGlyphs">1.00</text>
<text x="76.16" y="1795.47" font-family='"Liberation Sans",sans-serif' font-size="30" fill="#5e5e5e" textLength="64.23" lengthAdjust="spacingAndGlyphs">1.25</text>
<text x="76.06" y="1747.10" font-family='"Liberation Sans",sans-serif' font-size="30" fill="#5e5e5e" textLength="64.23" lengthAdjust="spacingAndGlyphs">1.50</text>
<text x="76.16" y="1698.73" font-family='"Liberation Sans",sans-serif' font-size="30" fill="#5e5e5e" textLength="64.23" lengthAdjust="spacingAndGlyphs">1.75</text>
<text x="76.06" y="1650.36" font-family='"Liberation Sans",sans-serif' font-size="30" fill="#5e5e5e" textLength="64.23" lengthAdjust="spacingAndGlyphs">2.00</text>
<text x="76.16" y="1601.99" font-family='"Liberation Sans",sans-serif' font-size="30" fill="#5e5e5e" textLength="64.23" lengthAdjust="spacingAndGlyphs">2.25</text>
<text x="76.06" y="1553.62" font-family='"Liberation Sans",sans-serif' font-size="30" fill="#5e5e5e" textLength="64.23" lengthAdjust="spacingAndGlyphs">2.50</text>
<text x="1174.01" y="1982.04" font-family='"Liberation Sans",sans-serif' font-size="30" fill="#7a1533" textLength="45.87" lengthAdjust="spacingAndGlyphs">0.8</text>
<text x="1172.79" y="1926.76" font-family='"Liberation Sans",sans-serif' font-size="30" fill="#7a1533" textLength="45.87" lengthAdjust="spacingAndGlyphs">1.6</text>
<text x="1173.64" y="1871.48" font-family='"Liberation Sans",sans-serif' font-size="30" fill="#7a1533" textLength="45.87" lengthAdjust="spacingAndGlyphs">2.4</text>
<text x="1174.04" y="1816.20" font-family='"Liberation Sans",sans-serif' font-size="30" fill="#7a1533" textLength="45.87" lengthAdjust="spacingAndGlyphs">3.2</text>
<text x="1174.54" y="1760.92" font-family='"Liberation Sans",sans-serif' font-size="30" fill="#7a1533" textLength="45.87" lengthAdjust="spacingAndGlyphs">4.0</text>
<text x="1174.54" y="1705.64" font-family='"Liberation Sans",sans-serif' font-size="30" fill="#7a1533" textLength="45.87" lengthAdjust="spacingAndGlyphs">4.8</text>
<text x="1173.98" y="1650.36" font-family='"Liberation Sans",sans-serif' font-size="30" fill="#7a1533" textLength="45.87" lengthAdjust="spacingAndGlyphs">5.6</text>
<text x="1173.62" y="1595.08" font-family='"Liberation Sans",sans-serif' font-size="30" fill="#7a1533" textLength="45.87" lengthAdjust="spacingAndGlyphs">6.4</text>
<text x="1078.05" y="1601.00" font-family='"Liberation Sans",sans-serif' font-size="45" font-weight="bold" fill="#000000" textLength="60.30" lengthAdjust="spacingAndGlyphs">(d)</text>
<text x="140.02" y="2057.50" font-family='"Liberation Sans",sans-serif' font-size="30" fill="#5e5e5e" textLength="18.35" lengthAdjust="spacingAndGlyphs">0</text>
<text x="343.44" y="2057.50" font-family='"Liberation Sans",sans-serif' font-size="30" fill="#5e5e5e" textLength="18.35" lengthAdjust="spacingAndGlyphs">2</text>
<text x="546.97" y="2057.50" font-family='"Liberation Sans",sans-serif' font-size="30" fill="#5e5e5e" textLength="18.35" lengthAdjust="spacingAndGlyphs">4</text>
<text x="750.17" y="2057.50" font-family='"Liberation Sans",sans-serif' font-size="30" fill="#5e5e5e" textLength="18.35" lengthAdjust="spacingAndGlyphs">6</text>
<text x="953.70" y="2057.50" font-family='"Liberation Sans",sans-serif' font-size="30" fill="#5e5e5e" textLength="18.35" lengthAdjust="spacingAndGlyphs">8</text>
<text x="1147.33" y="2057.50" font-family='"Liberation Sans",sans-serif' font-size="30" fill="#5e5e5e" textLength="36.71" lengthAdjust="spacingAndGlyphs">10</text>
<text x="544.13" y="2098.20" font-family='"Liberation Sans",sans-serif' font-size="39.5" fill="#555555" textLength="228.56" lengthAdjust="spacingAndGlyphs">Time (nsec)</text>
<g transform="translate(57.1,1282.5) rotate(-90)"><text x="-5.44" y="0.00" font-family='"Liberation Sans",sans-serif' font-size="65" fill="#555555" textLength="423.51" lengthAdjust="spacingAndGlyphs">Protein RMSD</text></g>
<g transform="translate(57.1,839.9) rotate(-90)"><text x="-3.39" y="0.00" font-family='"Liberation Sans",sans-serif' font-size="65" fill="#555555" textLength="18.21" lengthAdjust="spacingAndGlyphs">(</text></g>
<g transform="translate(57.4,819.2) rotate(-90)"><text x="-0.57" y="0.00" font-family='"Liberation Serif",serif' font-size="66" fill="#555555" textLength="42.51" lengthAdjust="spacingAndGlyphs">Å</text></g>
<g transform="translate(57.1,770.7) rotate(-90)"><text x="-0.29" y="0.00" font-family='"Liberation Sans",sans-serif' font-size="65" fill="#555555" textLength="16.45" lengthAdjust="spacingAndGlyphs">)</text></g>
<g transform="translate(1241.6,814.1) rotate(90)"><text x="-4.99" y="0.00" font-family='"Liberation Sans",sans-serif' font-size="60" fill="#7a1533" textLength="379.01" lengthAdjust="spacingAndGlyphs">Ligand RMSD</text></g>
<g transform="translate(1241.6,1211.1) rotate(90)"><text x="-3.04" y="0.00" font-family='"Liberation Sans",sans-serif' font-size="60" fill="#7a1533" textLength="16.33" lengthAdjust="spacingAndGlyphs">(</text></g>
<g transform="translate(1241.3,1229.0) rotate(90)"><text x="-0.57" y="0.00" font-family='"Liberation Serif",serif' font-size="61" fill="#7a1533" textLength="41.99" lengthAdjust="spacingAndGlyphs">Å</text></g>
<g transform="translate(1241.6,1273.7) rotate(90)"><text x="-0.31" y="0.00" font-family='"Liberation Sans",sans-serif' font-size="60" fill="#7a1533" textLength="17.46" lengthAdjust="spacingAndGlyphs">)</text></g>
<rect x="519" y="2126.5" width="284" height="38.5" rx="5" fill="#9a9a9a" opacity="0.8"/>
<rect x="516" y="2123.2" width="282.3" height="38.3" rx="5" fill="#ffffff" stroke="#000" stroke-width="2.2"/>
<rect x="522" y="2132.8" width="30.8" height="19" fill="#2d4e68"/>
<rect x="607.5" y="2132.8" width="30.5" height="19" fill="#7c1a37"/>
<text x="557.41" y="2151.20" font-family='"Liberation Sans",sans-serif' font-size="27.5" fill="#000" textLength="21.21" lengthAdjust="spacingAndGlyphs">C</text>
<text x="577.50" y="2151.20" font-family='"Liberation Sans",sans-serif' font-size="27.5" font-style="italic" fill="#000" textLength="16.61" lengthAdjust="spacingAndGlyphs">α</text>
<text x="642.26" y="2151.20" font-family='"Liberation Sans",sans-serif' font-size="27.5" fill="#000" textLength="150.28" lengthAdjust="spacingAndGlyphs">Lig fit Prot</text>
</svg>
</body></html>
